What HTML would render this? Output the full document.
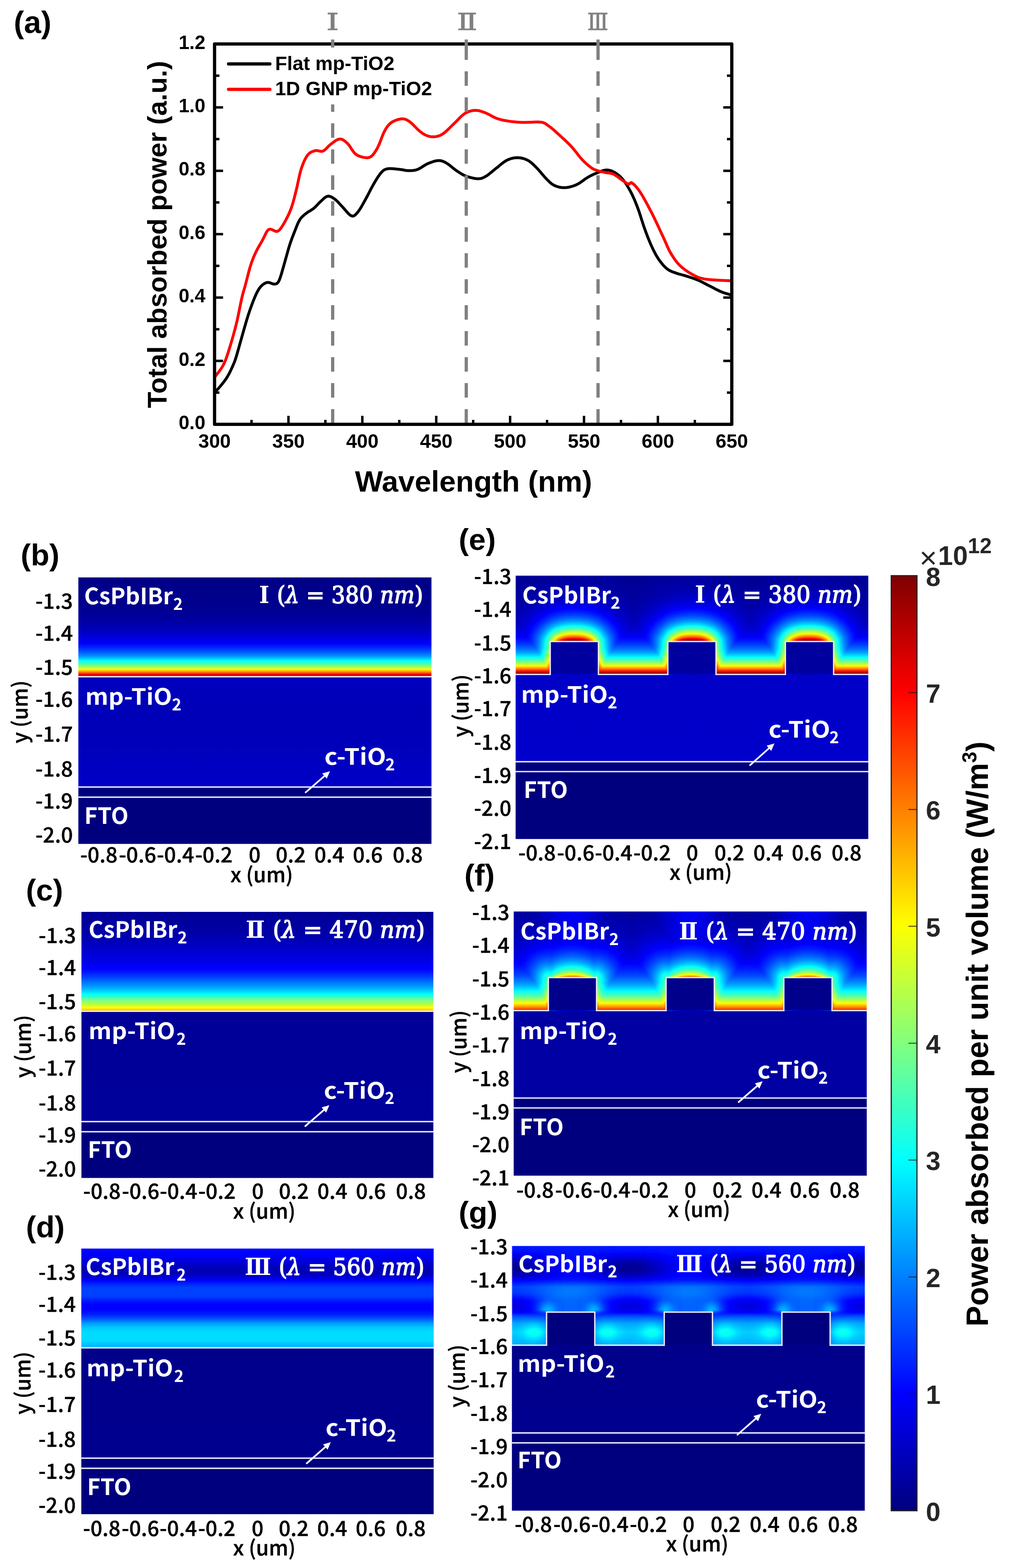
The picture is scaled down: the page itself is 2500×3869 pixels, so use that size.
<!DOCTYPE html>
<html><head><meta charset="utf-8"><title>Figure</title>
<style>html,body{margin:0;padding:0;background:#fff;}svg{display:block}</style></head>
<body><svg xmlns="http://www.w3.org/2000/svg" width="2500" height="3869" viewBox="0 0 2500 3869">
<rect width="2500" height="3869" fill="#fff"/>
<defs>
<filter id="jet" x="0" y="0" width="1" height="1" color-interpolation-filters="sRGB">
<feComponentTransfer>
<feFuncR type="table" tableValues="0 0 0 0 0.5 1 1 1 0.5"/>
<feFuncG type="table" tableValues="0 0 0.5 1 1 1 0.5 0 0"/>
<feFuncB type="table" tableValues="0.5 1 1 1 0.5 0 0 0 0"/>
</feComponentTransfer></filter>
<filter id="hblur" x="-0.01" y="0" width="1.02" height="1" color-interpolation-filters="sRGB"><feGaussianBlur stdDeviation="1.6 0"/></filter>
<clipPath id="clip_b"><rect x="193.2" y="1424.5" width="871.7" height="658.1"/></clipPath>
<linearGradient id="pv_b" x1="0" y1="0" x2="0" y2="1"><stop offset="0.0000" stop-color="#020202"/><stop offset="0.2910" stop-color="#040404"/><stop offset="0.3730" stop-color="#060606"/><stop offset="0.4590" stop-color="#0a0a0a"/><stop offset="0.5164" stop-color="#0e0e0e"/><stop offset="0.6066" stop-color="#171717"/><stop offset="0.6639" stop-color="#1f1f1f"/><stop offset="0.7008" stop-color="#282828"/><stop offset="0.7541" stop-color="#373737"/><stop offset="0.7951" stop-color="#464646"/><stop offset="0.8156" stop-color="#515151"/><stop offset="0.8361" stop-color="#5f5f5f"/><stop offset="0.8648" stop-color="#6f6f6f"/><stop offset="0.8893" stop-color="#7f7f7f"/><stop offset="0.9139" stop-color="#939393"/><stop offset="0.9303" stop-color="#a3a3a3"/><stop offset="0.9549" stop-color="#c1c1c1"/><stop offset="0.9754" stop-color="#dfdfdf"/><stop offset="0.9918" stop-color="#f0f0f0"/><stop offset="1.0000" stop-color="#fbfbfb"/></linearGradient>
<linearGradient id="mp_b" x1="0" y1="0" x2="0" y2="1"><stop offset="0.0000" stop-color="#101010"/><stop offset="0.3000" stop-color="#0e0e0e"/><stop offset="0.6000" stop-color="#0f0f0f"/><stop offset="1.0000" stop-color="#121212"/></linearGradient>
<clipPath id="clip_c"><rect x="200.9" y="2250.0" width="868.8" height="656.8"/></clipPath>
<linearGradient id="pv_c" x1="0" y1="0" x2="0" y2="1"><stop offset="0.0000" stop-color="#060606"/><stop offset="0.1803" stop-color="#090909"/><stop offset="0.2541" stop-color="#0c0c0c"/><stop offset="0.5164" stop-color="#1b1b1b"/><stop offset="0.5820" stop-color="#212121"/><stop offset="0.6598" stop-color="#313131"/><stop offset="0.7459" stop-color="#464646"/><stop offset="0.7746" stop-color="#4d4d4d"/><stop offset="0.8156" stop-color="#5b5b5b"/><stop offset="0.8361" stop-color="#636363"/><stop offset="0.8770" stop-color="#797979"/><stop offset="0.9303" stop-color="#8e8e8e"/><stop offset="0.9918" stop-color="#aeaeae"/><stop offset="1.0000" stop-color="#b2b2b2"/></linearGradient>
<linearGradient id="mp_c" x1="0" y1="0" x2="0" y2="1"><stop offset="0.0000" stop-color="#060606"/><stop offset="1.0000" stop-color="#070707"/></linearGradient>
<clipPath id="clip_d"><rect x="200.4" y="3080.6" width="870.1" height="655.8"/></clipPath>
<linearGradient id="pv_d" x1="0" y1="0" x2="0" y2="1"><stop offset="0.0000" stop-color="#212121"/><stop offset="0.0574" stop-color="#202020"/><stop offset="0.1926" stop-color="#0e0e0e"/><stop offset="0.2541" stop-color="#0e0e0e"/><stop offset="0.2992" stop-color="#191919"/><stop offset="0.3484" stop-color="#272727"/><stop offset="0.3934" stop-color="#303030"/><stop offset="0.4795" stop-color="#303030"/><stop offset="0.5246" stop-color="#262626"/><stop offset="0.5656" stop-color="#202020"/><stop offset="0.6148" stop-color="#202020"/><stop offset="0.6598" stop-color="#272727"/><stop offset="0.7049" stop-color="#343434"/><stop offset="0.7500" stop-color="#464646"/><stop offset="0.7951" stop-color="#525252"/><stop offset="0.8402" stop-color="#575757"/><stop offset="0.9262" stop-color="#575757"/><stop offset="0.9713" stop-color="#4f4f4f"/><stop offset="1.0000" stop-color="#4f4f4f"/></linearGradient>
<linearGradient id="mp_d" x1="0" y1="0" x2="0" y2="1"><stop offset="0.0000" stop-color="#030303"/><stop offset="1.0000" stop-color="#040404"/></linearGradient>
<clipPath id="clip_e"><rect x="1272.3" y="1420.3" width="870.6" height="650.2"/></clipPath>
<linearGradient id="ce0" x1="0" y1="0" x2="0" y2="1"><stop offset="0.0000" stop-color="#050505"/><stop offset="0.2418" stop-color="#080808"/><stop offset="0.4508" stop-color="#0d0d0d"/><stop offset="0.5205" stop-color="#121212"/><stop offset="0.5820" stop-color="#191919"/><stop offset="0.6393" stop-color="#222222"/><stop offset="0.6885" stop-color="#2d2d2d"/><stop offset="0.7377" stop-color="#3b3b3b"/><stop offset="0.7787" stop-color="#4a4a4a"/><stop offset="0.8156" stop-color="#5c5c5c"/><stop offset="0.8525" stop-color="#737373"/><stop offset="0.8893" stop-color="#8e8e8e"/><stop offset="0.9221" stop-color="#adadad"/><stop offset="0.9549" stop-color="#d3d3d3"/><stop offset="0.9877" stop-color="#ffffff"/><stop offset="1.0000" stop-color="#ffffff"/></linearGradient>
<linearGradient id="ce1" x1="0" y1="0" x2="0" y2="1"><stop offset="0.0000" stop-color="#050505"/><stop offset="0.2418" stop-color="#080808"/><stop offset="0.4672" stop-color="#0e0e0e"/><stop offset="0.5328" stop-color="#141414"/><stop offset="0.5902" stop-color="#1a1a1a"/><stop offset="0.6434" stop-color="#232323"/><stop offset="0.6885" stop-color="#2d2d2d"/><stop offset="0.7377" stop-color="#3b3b3b"/><stop offset="0.7787" stop-color="#4a4a4a"/><stop offset="0.8156" stop-color="#5c5c5c"/><stop offset="0.8525" stop-color="#737373"/><stop offset="0.8893" stop-color="#8e8e8e"/><stop offset="0.9221" stop-color="#adadad"/><stop offset="0.9549" stop-color="#d3d3d3"/><stop offset="0.9877" stop-color="#ffffff"/><stop offset="1.0000" stop-color="#ffffff"/></linearGradient>
<linearGradient id="ce2" x1="0" y1="0" x2="0" y2="1"><stop offset="0.0000" stop-color="#050505"/><stop offset="0.2541" stop-color="#080808"/><stop offset="0.4918" stop-color="#101010"/><stop offset="0.5984" stop-color="#1b1b1b"/><stop offset="0.6475" stop-color="#242424"/><stop offset="0.6885" stop-color="#2d2d2d"/><stop offset="0.7377" stop-color="#3b3b3b"/><stop offset="0.7787" stop-color="#4a4a4a"/><stop offset="0.8156" stop-color="#5c5c5c"/><stop offset="0.8525" stop-color="#737373"/><stop offset="0.8893" stop-color="#8e8e8e"/><stop offset="0.9221" stop-color="#adadad"/><stop offset="0.9549" stop-color="#d3d3d3"/><stop offset="0.9877" stop-color="#ffffff"/><stop offset="1.0000" stop-color="#ffffff"/></linearGradient>
<linearGradient id="ce3" x1="0" y1="0" x2="0" y2="1"><stop offset="0.0000" stop-color="#050505"/><stop offset="0.2623" stop-color="#090909"/><stop offset="0.5123" stop-color="#121212"/><stop offset="0.6066" stop-color="#1d1d1d"/><stop offset="0.6885" stop-color="#2d2d2d"/><stop offset="0.7377" stop-color="#3b3b3b"/><stop offset="0.7787" stop-color="#4a4a4a"/><stop offset="0.8156" stop-color="#5c5c5c"/><stop offset="0.8525" stop-color="#737373"/><stop offset="0.8893" stop-color="#8e8e8e"/><stop offset="0.9221" stop-color="#adadad"/><stop offset="0.9549" stop-color="#d3d3d3"/><stop offset="0.9877" stop-color="#ffffff"/><stop offset="1.0000" stop-color="#ffffff"/></linearGradient>
<linearGradient id="ce4" x1="0" y1="0" x2="0" y2="1"><stop offset="0.0000" stop-color="#050505"/><stop offset="0.2705" stop-color="#090909"/><stop offset="0.5328" stop-color="#141414"/><stop offset="0.6148" stop-color="#1e1e1e"/><stop offset="0.6885" stop-color="#2d2d2d"/><stop offset="0.7377" stop-color="#3b3b3b"/><stop offset="0.7787" stop-color="#4a4a4a"/><stop offset="0.8156" stop-color="#5c5c5c"/><stop offset="0.8525" stop-color="#737373"/><stop offset="0.8893" stop-color="#8e8e8e"/><stop offset="0.9221" stop-color="#adadad"/><stop offset="0.9549" stop-color="#d3d3d3"/><stop offset="0.9877" stop-color="#ffffff"/><stop offset="1.0000" stop-color="#ffffff"/></linearGradient>
<linearGradient id="ce5" x1="0" y1="0" x2="0" y2="1"><stop offset="0.0000" stop-color="#050505"/><stop offset="0.2787" stop-color="#0a0a0a"/><stop offset="0.5533" stop-color="#161616"/><stop offset="0.6270" stop-color="#202020"/><stop offset="0.6885" stop-color="#2d2d2d"/><stop offset="0.7377" stop-color="#3b3b3b"/><stop offset="0.7787" stop-color="#4a4a4a"/><stop offset="0.8156" stop-color="#5c5c5c"/><stop offset="0.8525" stop-color="#737373"/><stop offset="0.8893" stop-color="#8e8e8e"/><stop offset="0.9221" stop-color="#adadad"/><stop offset="0.9549" stop-color="#d3d3d3"/><stop offset="0.9877" stop-color="#ffffff"/><stop offset="1.0000" stop-color="#ffffff"/></linearGradient>
<linearGradient id="ce6" x1="0" y1="0" x2="0" y2="1"><stop offset="0.0000" stop-color="#050505"/><stop offset="0.2828" stop-color="#0a0a0a"/><stop offset="0.5738" stop-color="#181818"/><stop offset="0.6352" stop-color="#212121"/><stop offset="0.6885" stop-color="#2d2d2d"/><stop offset="0.7377" stop-color="#3b3b3b"/><stop offset="0.7787" stop-color="#4a4a4a"/><stop offset="0.8156" stop-color="#5c5c5c"/><stop offset="0.8525" stop-color="#737373"/><stop offset="0.8893" stop-color="#8e8e8e"/><stop offset="0.9221" stop-color="#adadad"/><stop offset="0.9549" stop-color="#d3d3d3"/><stop offset="0.9877" stop-color="#ffffff"/><stop offset="1.0000" stop-color="#ffffff"/></linearGradient>
<linearGradient id="ce7" x1="0" y1="0" x2="0" y2="1"><stop offset="0.0000" stop-color="#050505"/><stop offset="0.2869" stop-color="#0b0b0b"/><stop offset="0.5902" stop-color="#1a1a1a"/><stop offset="0.6393" stop-color="#222222"/><stop offset="0.6885" stop-color="#2d2d2d"/><stop offset="0.7377" stop-color="#3b3b3b"/><stop offset="0.7787" stop-color="#4a4a4a"/><stop offset="0.8156" stop-color="#5c5c5c"/><stop offset="0.8525" stop-color="#737373"/><stop offset="0.8893" stop-color="#8e8e8e"/><stop offset="0.9221" stop-color="#adadad"/><stop offset="0.9549" stop-color="#d3d3d3"/><stop offset="0.9877" stop-color="#ffffff"/><stop offset="1.0000" stop-color="#ffffff"/></linearGradient>
<linearGradient id="ce8" x1="0" y1="0" x2="0" y2="1"><stop offset="0.0000" stop-color="#050505"/><stop offset="0.2254" stop-color="#090909"/><stop offset="0.3934" stop-color="#101010"/><stop offset="0.6066" stop-color="#1d1d1d"/><stop offset="0.6475" stop-color="#242424"/><stop offset="0.6885" stop-color="#2d2d2d"/><stop offset="0.7377" stop-color="#3b3b3b"/><stop offset="0.7787" stop-color="#4a4a4a"/><stop offset="0.8156" stop-color="#5c5c5c"/><stop offset="0.8525" stop-color="#737373"/><stop offset="0.8893" stop-color="#8e8e8e"/><stop offset="0.9221" stop-color="#adadad"/><stop offset="0.9549" stop-color="#d3d3d3"/><stop offset="0.9877" stop-color="#ffffff"/><stop offset="1.0000" stop-color="#ffffff"/></linearGradient>
<linearGradient id="ce9" x1="0" y1="0" x2="0" y2="1"><stop offset="0.0000" stop-color="#050505"/><stop offset="0.2090" stop-color="#090909"/><stop offset="0.3730" stop-color="#0f0f0f"/><stop offset="0.6230" stop-color="#1f1f1f"/><stop offset="0.6885" stop-color="#2d2d2d"/><stop offset="0.7377" stop-color="#3b3b3b"/><stop offset="0.7787" stop-color="#4a4a4a"/><stop offset="0.8156" stop-color="#5c5c5c"/><stop offset="0.8525" stop-color="#737373"/><stop offset="0.8893" stop-color="#8e8e8e"/><stop offset="0.9221" stop-color="#adadad"/><stop offset="0.9549" stop-color="#d3d3d3"/><stop offset="0.9877" stop-color="#ffffff"/><stop offset="1.0000" stop-color="#ffffff"/></linearGradient>
<linearGradient id="ce10" x1="0" y1="0" x2="0" y2="1"><stop offset="0.0000" stop-color="#050505"/><stop offset="0.1967" stop-color="#090909"/><stop offset="0.3525" stop-color="#0f0f0f"/><stop offset="0.5697" stop-color="#1f1f1f"/><stop offset="0.6393" stop-color="#222222"/><stop offset="0.6885" stop-color="#2d2d2d"/><stop offset="0.7377" stop-color="#3b3b3b"/><stop offset="0.7787" stop-color="#4a4a4a"/><stop offset="0.8156" stop-color="#5c5c5c"/><stop offset="0.8525" stop-color="#737373"/><stop offset="0.8893" stop-color="#8e8e8e"/><stop offset="0.9221" stop-color="#adadad"/><stop offset="0.9549" stop-color="#d3d3d3"/><stop offset="0.9877" stop-color="#ffffff"/><stop offset="1.0000" stop-color="#ffffff"/></linearGradient>
<linearGradient id="ce11" x1="0" y1="0" x2="0" y2="1"><stop offset="0.0000" stop-color="#050505"/><stop offset="0.1967" stop-color="#090909"/><stop offset="0.3525" stop-color="#0f0f0f"/><stop offset="0.5779" stop-color="#212121"/><stop offset="0.6516" stop-color="#252525"/><stop offset="0.6885" stop-color="#2d2d2d"/><stop offset="0.7377" stop-color="#3b3b3b"/><stop offset="0.7787" stop-color="#4a4a4a"/><stop offset="0.8156" stop-color="#5c5c5c"/><stop offset="0.8525" stop-color="#737373"/><stop offset="0.8893" stop-color="#8e8e8e"/><stop offset="0.9221" stop-color="#adadad"/><stop offset="0.9549" stop-color="#d3d3d3"/><stop offset="0.9877" stop-color="#ffffff"/><stop offset="1.0000" stop-color="#ffffff"/></linearGradient>
<linearGradient id="ce12" x1="0" y1="0" x2="0" y2="1"><stop offset="0.0000" stop-color="#050505"/><stop offset="0.1844" stop-color="#090909"/><stop offset="0.3320" stop-color="#0f0f0f"/><stop offset="0.4221" stop-color="#151515"/><stop offset="0.5902" stop-color="#242424"/><stop offset="0.6639" stop-color="#272727"/><stop offset="0.6885" stop-color="#2d2d2d"/><stop offset="0.7377" stop-color="#3b3b3b"/><stop offset="0.7787" stop-color="#4a4a4a"/><stop offset="0.8156" stop-color="#5c5c5c"/><stop offset="0.8525" stop-color="#737373"/><stop offset="0.8893" stop-color="#8e8e8e"/><stop offset="0.9221" stop-color="#adadad"/><stop offset="0.9549" stop-color="#d3d3d3"/><stop offset="0.9877" stop-color="#ffffff"/><stop offset="1.0000" stop-color="#ffffff"/></linearGradient>
<linearGradient id="ce13" x1="0" y1="0" x2="0" y2="1"><stop offset="0.0000" stop-color="#050505"/><stop offset="0.1762" stop-color="#090909"/><stop offset="0.3156" stop-color="#0e0e0e"/><stop offset="0.4344" stop-color="#171717"/><stop offset="0.5943" stop-color="#272727"/><stop offset="0.6803" stop-color="#2b2b2b"/><stop offset="0.6885" stop-color="#2d2d2d"/><stop offset="0.7377" stop-color="#3b3b3b"/><stop offset="0.7787" stop-color="#4a4a4a"/><stop offset="0.8156" stop-color="#5c5c5c"/><stop offset="0.8525" stop-color="#737373"/><stop offset="0.8893" stop-color="#8e8e8e"/><stop offset="0.9221" stop-color="#adadad"/><stop offset="0.9549" stop-color="#d3d3d3"/><stop offset="0.9877" stop-color="#ffffff"/><stop offset="1.0000" stop-color="#ffffff"/></linearGradient>
<linearGradient id="ce14" x1="0" y1="0" x2="0" y2="1"><stop offset="0.0000" stop-color="#060606"/><stop offset="0.1762" stop-color="#090909"/><stop offset="0.3115" stop-color="#0f0f0f"/><stop offset="0.4467" stop-color="#191919"/><stop offset="0.6025" stop-color="#2b2b2b"/><stop offset="0.6967" stop-color="#2f2f2f"/><stop offset="0.7418" stop-color="#3c3c3c"/><stop offset="0.7828" stop-color="#4c4c4c"/><stop offset="0.8197" stop-color="#5e5e5e"/><stop offset="0.8566" stop-color="#757575"/><stop offset="0.8934" stop-color="#929292"/><stop offset="0.9262" stop-color="#b1b1b1"/><stop offset="0.9549" stop-color="#d3d3d3"/><stop offset="0.9877" stop-color="#ffffff"/><stop offset="1.0000" stop-color="#ffffff"/></linearGradient>
<linearGradient id="ce15" x1="0" y1="0" x2="0" y2="1"><stop offset="0.0000" stop-color="#060606"/><stop offset="0.1762" stop-color="#090909"/><stop offset="0.3156" stop-color="#0f0f0f"/><stop offset="0.4508" stop-color="#1b1b1b"/><stop offset="0.6066" stop-color="#2e2e2e"/><stop offset="0.7131" stop-color="#333333"/><stop offset="0.7541" stop-color="#414141"/><stop offset="0.7910" stop-color="#505050"/><stop offset="0.8279" stop-color="#636363"/><stop offset="0.8607" stop-color="#787878"/><stop offset="0.8934" stop-color="#929292"/><stop offset="0.9262" stop-color="#b1b1b1"/><stop offset="0.9549" stop-color="#d3d3d3"/><stop offset="0.9877" stop-color="#ffffff"/><stop offset="1.0000" stop-color="#ffffff"/></linearGradient>
<linearGradient id="ce16" x1="0" y1="0" x2="0" y2="1"><stop offset="0.0000" stop-color="#060606"/><stop offset="0.1803" stop-color="#090909"/><stop offset="0.3197" stop-color="#101010"/><stop offset="0.4467" stop-color="#1c1c1c"/><stop offset="0.6107" stop-color="#323232"/><stop offset="0.7295" stop-color="#383838"/><stop offset="0.7664" stop-color="#454545"/><stop offset="0.8033" stop-color="#565656"/><stop offset="0.8361" stop-color="#686868"/><stop offset="0.8648" stop-color="#7b7b7b"/><stop offset="0.8975" stop-color="#969696"/><stop offset="0.9303" stop-color="#b6b6b6"/><stop offset="0.9549" stop-color="#d3d3d3"/><stop offset="0.9877" stop-color="#ffffff"/><stop offset="1.0000" stop-color="#ffffff"/></linearGradient>
<linearGradient id="ce17" x1="0" y1="0" x2="0" y2="1"><stop offset="0.0000" stop-color="#060606"/><stop offset="0.1844" stop-color="#0a0a0a"/><stop offset="0.3238" stop-color="#111111"/><stop offset="0.4508" stop-color="#1e1e1e"/><stop offset="0.6148" stop-color="#363636"/><stop offset="0.7049" stop-color="#3a3a3a"/><stop offset="0.7459" stop-color="#3e3e3e"/><stop offset="0.7787" stop-color="#4a4a4a"/><stop offset="0.8115" stop-color="#5a5a5a"/><stop offset="0.8443" stop-color="#6d6d6d"/><stop offset="0.8730" stop-color="#818181"/><stop offset="0.9016" stop-color="#999999"/><stop offset="0.9303" stop-color="#b6b6b6"/><stop offset="0.9549" stop-color="#d3d3d3"/><stop offset="0.9877" stop-color="#ffffff"/><stop offset="1.0000" stop-color="#ffffff"/></linearGradient>
<linearGradient id="ce18" x1="0" y1="0" x2="0" y2="1"><stop offset="0.0000" stop-color="#060606"/><stop offset="0.1844" stop-color="#0a0a0a"/><stop offset="0.3279" stop-color="#121212"/><stop offset="0.4508" stop-color="#202020"/><stop offset="0.6189" stop-color="#3a3a3a"/><stop offset="0.6475" stop-color="#3d3d3d"/><stop offset="0.7090" stop-color="#3f3f3f"/><stop offset="0.7623" stop-color="#444444"/><stop offset="0.7910" stop-color="#505050"/><stop offset="0.8238" stop-color="#616161"/><stop offset="0.8525" stop-color="#737373"/><stop offset="0.8770" stop-color="#848484"/><stop offset="0.9057" stop-color="#9d9d9d"/><stop offset="0.9344" stop-color="#bababa"/><stop offset="0.9590" stop-color="#d8d8d8"/><stop offset="0.9877" stop-color="#ffffff"/><stop offset="1.0000" stop-color="#ffffff"/></linearGradient>
<linearGradient id="ce19" x1="0" y1="0" x2="0" y2="1"><stop offset="0.0000" stop-color="#060606"/><stop offset="0.1926" stop-color="#0b0b0b"/><stop offset="0.3361" stop-color="#141414"/><stop offset="0.4549" stop-color="#222222"/><stop offset="0.6230" stop-color="#3f3f3f"/><stop offset="0.7172" stop-color="#444444"/><stop offset="0.7828" stop-color="#4c4c4c"/><stop offset="0.8074" stop-color="#585858"/><stop offset="0.8361" stop-color="#686868"/><stop offset="0.8607" stop-color="#787878"/><stop offset="0.8852" stop-color="#8b8b8b"/><stop offset="0.9139" stop-color="#a5a5a5"/><stop offset="0.9385" stop-color="#bfbfbf"/><stop offset="0.9590" stop-color="#d8d8d8"/><stop offset="0.9877" stop-color="#ffffff"/><stop offset="1.0000" stop-color="#ffffff"/></linearGradient>
<linearGradient id="ce20" x1="0" y1="0" x2="0" y2="1"><stop offset="0.0000" stop-color="#060606"/><stop offset="0.1967" stop-color="#0b0b0b"/><stop offset="0.2746" stop-color="#0f0f0f"/><stop offset="0.3443" stop-color="#151515"/><stop offset="0.4631" stop-color="#252525"/><stop offset="0.6270" stop-color="#444444"/><stop offset="0.7254" stop-color="#4a4a4a"/><stop offset="0.7664" stop-color="#4f4f4f"/><stop offset="0.8033" stop-color="#565656"/><stop offset="0.8484" stop-color="#707070"/><stop offset="0.8730" stop-color="#818181"/><stop offset="0.8934" stop-color="#929292"/><stop offset="0.9180" stop-color="#a9a9a9"/><stop offset="0.9426" stop-color="#c4c4c4"/><stop offset="0.9631" stop-color="#dddddd"/><stop offset="0.9877" stop-color="#ffffff"/><stop offset="1.0000" stop-color="#ffffff"/></linearGradient>
<linearGradient id="ce21" x1="0" y1="0" x2="0" y2="1"><stop offset="0.0000" stop-color="#060606"/><stop offset="0.2049" stop-color="#0c0c0c"/><stop offset="0.2828" stop-color="#101010"/><stop offset="0.3525" stop-color="#171717"/><stop offset="0.4098" stop-color="#1e1e1e"/><stop offset="0.4672" stop-color="#282828"/><stop offset="0.6311" stop-color="#4a4a4a"/><stop offset="0.7377" stop-color="#515151"/><stop offset="0.7787" stop-color="#575757"/><stop offset="0.8238" stop-color="#616161"/><stop offset="0.8607" stop-color="#787878"/><stop offset="0.8975" stop-color="#969696"/><stop offset="0.9221" stop-color="#adadad"/><stop offset="0.9426" stop-color="#c4c4c4"/><stop offset="0.9631" stop-color="#dddddd"/><stop offset="0.9877" stop-color="#ffffff"/><stop offset="1.0000" stop-color="#ffffff"/></linearGradient>
<linearGradient id="ce22" x1="0" y1="0" x2="0" y2="1"><stop offset="0.0000" stop-color="#060606"/><stop offset="0.2049" stop-color="#0c0c0c"/><stop offset="0.2869" stop-color="#111111"/><stop offset="0.3566" stop-color="#181818"/><stop offset="0.4139" stop-color="#202020"/><stop offset="0.4672" stop-color="#292929"/><stop offset="0.6352" stop-color="#505050"/><stop offset="0.7336" stop-color="#565656"/><stop offset="0.7746" stop-color="#5d5d5d"/><stop offset="0.8156" stop-color="#666666"/><stop offset="0.8443" stop-color="#6e6e6e"/><stop offset="0.8648" stop-color="#7b7b7b"/><stop offset="0.8852" stop-color="#8b8b8b"/><stop offset="0.9139" stop-color="#a5a5a5"/><stop offset="0.9385" stop-color="#bfbfbf"/><stop offset="0.9590" stop-color="#d8d8d8"/><stop offset="0.9877" stop-color="#ffffff"/><stop offset="1.0000" stop-color="#ffffff"/></linearGradient>
<linearGradient id="ce23" x1="0" y1="0" x2="0" y2="1"><stop offset="0.0000" stop-color="#060606"/><stop offset="0.2049" stop-color="#0c0c0c"/><stop offset="0.2869" stop-color="#121212"/><stop offset="0.3566" stop-color="#191919"/><stop offset="0.4139" stop-color="#212121"/><stop offset="0.4713" stop-color="#2c2c2c"/><stop offset="0.6393" stop-color="#565656"/><stop offset="0.7336" stop-color="#5d5d5d"/><stop offset="0.7705" stop-color="#636363"/><stop offset="0.8074" stop-color="#6b6b6b"/><stop offset="0.8648" stop-color="#7c7c7c"/><stop offset="0.8730" stop-color="#818181"/><stop offset="0.9016" stop-color="#999999"/><stop offset="0.9303" stop-color="#b6b6b6"/><stop offset="0.9549" stop-color="#d3d3d3"/><stop offset="0.9877" stop-color="#ffffff"/><stop offset="1.0000" stop-color="#ffffff"/></linearGradient>
<linearGradient id="ce24" x1="0" y1="0" x2="0" y2="1"><stop offset="0.0000" stop-color="#060606"/><stop offset="0.1148" stop-color="#090909"/><stop offset="0.2090" stop-color="#0d0d0d"/><stop offset="0.2869" stop-color="#121212"/><stop offset="0.3566" stop-color="#1a1a1a"/><stop offset="0.4180" stop-color="#232323"/><stop offset="0.4754" stop-color="#2f2f2f"/><stop offset="0.6475" stop-color="#5e5e5e"/><stop offset="0.7295" stop-color="#646464"/><stop offset="0.7623" stop-color="#696969"/><stop offset="0.7992" stop-color="#717171"/><stop offset="0.8443" stop-color="#7e7e7e"/><stop offset="0.8893" stop-color="#8e8e8e"/><stop offset="0.9139" stop-color="#a5a5a5"/><stop offset="0.9385" stop-color="#bfbfbf"/><stop offset="0.9590" stop-color="#d8d8d8"/><stop offset="0.9877" stop-color="#ffffff"/><stop offset="1.0000" stop-color="#ffffff"/></linearGradient>
<linearGradient id="ce25" x1="0" y1="0" x2="0" y2="1"><stop offset="0.0000" stop-color="#060606"/><stop offset="0.1148" stop-color="#090909"/><stop offset="0.2090" stop-color="#0d0d0d"/><stop offset="0.2910" stop-color="#131313"/><stop offset="0.3607" stop-color="#1b1b1b"/><stop offset="0.4221" stop-color="#262626"/><stop offset="0.4754" stop-color="#323232"/><stop offset="0.6516" stop-color="#666666"/><stop offset="0.7254" stop-color="#6b6b6b"/><stop offset="0.7582" stop-color="#707070"/><stop offset="0.7910" stop-color="#777777"/><stop offset="0.8525" stop-color="#8a8a8a"/><stop offset="0.9098" stop-color="#a1a1a1"/><stop offset="0.9262" stop-color="#b1b1b1"/><stop offset="0.9467" stop-color="#c9c9c9"/><stop offset="0.9631" stop-color="#dddddd"/><stop offset="0.9877" stop-color="#ffffff"/><stop offset="1.0000" stop-color="#ffffff"/></linearGradient>
<linearGradient id="ce26" x1="0" y1="0" x2="0" y2="1"><stop offset="0.0000" stop-color="#060606"/><stop offset="0.1189" stop-color="#090909"/><stop offset="0.2131" stop-color="#0d0d0d"/><stop offset="0.2951" stop-color="#141414"/><stop offset="0.3648" stop-color="#1d1d1d"/><stop offset="0.4262" stop-color="#282828"/><stop offset="0.4836" stop-color="#363636"/><stop offset="0.5287" stop-color="#444444"/><stop offset="0.6107" stop-color="#616161"/><stop offset="0.6557" stop-color="#6e6e6e"/><stop offset="0.7254" stop-color="#737373"/><stop offset="0.7869" stop-color="#7f7f7f"/><stop offset="0.8197" stop-color="#888888"/><stop offset="0.8566" stop-color="#959595"/><stop offset="0.8934" stop-color="#a5a5a5"/><stop offset="0.9303" stop-color="#b7b7b7"/><stop offset="0.9344" stop-color="#bababa"/><stop offset="0.9549" stop-color="#d3d3d3"/><stop offset="0.9877" stop-color="#ffffff"/><stop offset="1.0000" stop-color="#ffffff"/></linearGradient>
<linearGradient id="ce27" x1="0" y1="0" x2="0" y2="1"><stop offset="0.0000" stop-color="#060606"/><stop offset="0.1516" stop-color="#0a0a0a"/><stop offset="0.2664" stop-color="#121212"/><stop offset="0.3607" stop-color="#1d1d1d"/><stop offset="0.4426" stop-color="#2d2d2d"/><stop offset="0.5123" stop-color="#424242"/><stop offset="0.6148" stop-color="#696969"/><stop offset="0.6598" stop-color="#787878"/><stop offset="0.7090" stop-color="#7a7a7a"/><stop offset="0.7500" stop-color="#808080"/><stop offset="0.7951" stop-color="#8b8b8b"/><stop offset="0.8402" stop-color="#9a9a9a"/><stop offset="0.8975" stop-color="#b3b3b3"/><stop offset="0.9549" stop-color="#d3d3d3"/><stop offset="0.9877" stop-color="#ffffff"/><stop offset="1.0000" stop-color="#ffffff"/></linearGradient>
<linearGradient id="ce28" x1="0" y1="0" x2="0" y2="1"><stop offset="0.0000" stop-color="#060606"/><stop offset="0.1475" stop-color="#0a0a0a"/><stop offset="0.2623" stop-color="#121212"/><stop offset="0.3566" stop-color="#1d1d1d"/><stop offset="0.4344" stop-color="#2d2d2d"/><stop offset="0.4754" stop-color="#383838"/><stop offset="0.5123" stop-color="#454545"/><stop offset="0.5533" stop-color="#555555"/><stop offset="0.6230" stop-color="#747474"/><stop offset="0.6393" stop-color="#7a7a7a"/><stop offset="0.6557" stop-color="#7e7e7e"/><stop offset="0.6639" stop-color="#828282"/><stop offset="0.7049" stop-color="#848484"/><stop offset="0.7459" stop-color="#898989"/><stop offset="0.7869" stop-color="#939393"/><stop offset="0.8279" stop-color="#a0a0a0"/><stop offset="0.8648" stop-color="#afafaf"/><stop offset="0.9057" stop-color="#c4c4c4"/><stop offset="0.9426" stop-color="#dadada"/><stop offset="0.9754" stop-color="#f0f0f0"/><stop offset="0.9877" stop-color="#ffffff"/><stop offset="1.0000" stop-color="#ffffff"/></linearGradient>
<linearGradient id="ce29" x1="0" y1="0" x2="0" y2="1"><stop offset="0.0000" stop-color="#060606"/><stop offset="0.1434" stop-color="#0a0a0a"/><stop offset="0.2541" stop-color="#111111"/><stop offset="0.3443" stop-color="#1c1c1c"/><stop offset="0.4221" stop-color="#2b2b2b"/><stop offset="0.4713" stop-color="#393939"/><stop offset="0.5164" stop-color="#494949"/><stop offset="0.5574" stop-color="#5b5b5b"/><stop offset="0.6270" stop-color="#7e7e7e"/><stop offset="0.6516" stop-color="#878787"/><stop offset="0.6639" stop-color="#898989"/><stop offset="0.6721" stop-color="#888888"/><stop offset="0.7049" stop-color="#7d7d7d"/><stop offset="0.7090" stop-color="#7d7d7d"/><stop offset="0.7664" stop-color="#878787"/><stop offset="0.8279" stop-color="#999999"/><stop offset="0.8730" stop-color="#ababab"/><stop offset="0.9221" stop-color="#c4c4c4"/><stop offset="0.9672" stop-color="#e0e0e0"/><stop offset="0.9836" stop-color="#f2f2f2"/><stop offset="0.9918" stop-color="#f8f8f8"/><stop offset="1.0000" stop-color="#f9f9f9"/></linearGradient>
<linearGradient id="ce30" x1="0" y1="0" x2="0" y2="1"><stop offset="0.0000" stop-color="#060606"/><stop offset="0.1352" stop-color="#0a0a0a"/><stop offset="0.2418" stop-color="#111111"/><stop offset="0.3279" stop-color="#1a1a1a"/><stop offset="0.4016" stop-color="#272727"/><stop offset="0.4590" stop-color="#373737"/><stop offset="0.5123" stop-color="#4a4a4a"/><stop offset="0.5615" stop-color="#616161"/><stop offset="0.6352" stop-color="#8b8b8b"/><stop offset="0.6557" stop-color="#939393"/><stop offset="0.6680" stop-color="#949494"/><stop offset="0.6803" stop-color="#919191"/><stop offset="0.7295" stop-color="#777777"/><stop offset="0.7746" stop-color="#7f7f7f"/><stop offset="0.8197" stop-color="#8c8c8c"/><stop offset="0.8648" stop-color="#9c9c9c"/><stop offset="0.9139" stop-color="#b3b3b3"/><stop offset="0.9549" stop-color="#c9c9c9"/><stop offset="0.9713" stop-color="#dadada"/><stop offset="0.9836" stop-color="#e3e3e3"/><stop offset="0.9918" stop-color="#e7e7e7"/><stop offset="1.0000" stop-color="#e8e8e8"/></linearGradient>
<linearGradient id="ce31" x1="0" y1="0" x2="0" y2="1"><stop offset="0.0000" stop-color="#060606"/><stop offset="0.1352" stop-color="#0a0a0a"/><stop offset="0.2418" stop-color="#111111"/><stop offset="0.3279" stop-color="#1b1b1b"/><stop offset="0.4016" stop-color="#282828"/><stop offset="0.4631" stop-color="#3a3a3a"/><stop offset="0.5205" stop-color="#515151"/><stop offset="0.5656" stop-color="#686868"/><stop offset="0.6393" stop-color="#979797"/><stop offset="0.6598" stop-color="#a1a1a1"/><stop offset="0.6680" stop-color="#a1a1a1"/><stop offset="0.6803" stop-color="#9c9c9c"/><stop offset="0.7459" stop-color="#727272"/><stop offset="0.7500" stop-color="#717171"/><stop offset="0.7664" stop-color="#747474"/><stop offset="0.8238" stop-color="#838383"/><stop offset="0.8852" stop-color="#9a9a9a"/><stop offset="0.9385" stop-color="#b3b3b3"/><stop offset="0.9672" stop-color="#cbcbcb"/><stop offset="0.9795" stop-color="#d3d3d3"/><stop offset="0.9918" stop-color="#d7d7d7"/><stop offset="1.0000" stop-color="#d7d7d7"/></linearGradient>
<linearGradient id="ce32" x1="0" y1="0" x2="0" y2="1"><stop offset="0.0000" stop-color="#060606"/><stop offset="0.1393" stop-color="#0b0b0b"/><stop offset="0.2459" stop-color="#111111"/><stop offset="0.3361" stop-color="#1c1c1c"/><stop offset="0.4098" stop-color="#2b2b2b"/><stop offset="0.4713" stop-color="#3f3f3f"/><stop offset="0.5000" stop-color="#4a4a4a"/><stop offset="0.5287" stop-color="#585858"/><stop offset="0.5738" stop-color="#727272"/><stop offset="0.6475" stop-color="#a6a6a6"/><stop offset="0.6639" stop-color="#afafaf"/><stop offset="0.6762" stop-color="#a9a9a9"/><stop offset="0.7418" stop-color="#7a7a7a"/><stop offset="0.7623" stop-color="#6d6d6d"/><stop offset="0.7664" stop-color="#6c6c6c"/><stop offset="0.8238" stop-color="#7a7a7a"/><stop offset="0.8811" stop-color="#8e8e8e"/><stop offset="0.9262" stop-color="#a2a2a2"/><stop offset="0.9590" stop-color="#b9b9b9"/><stop offset="0.9754" stop-color="#c3c3c3"/><stop offset="0.9877" stop-color="#c7c7c7"/><stop offset="1.0000" stop-color="#c8c8c8"/></linearGradient>
<linearGradient id="ce33" x1="0" y1="0" x2="0" y2="1"><stop offset="0.0000" stop-color="#070707"/><stop offset="0.1434" stop-color="#0b0b0b"/><stop offset="0.2541" stop-color="#121212"/><stop offset="0.3443" stop-color="#1e1e1e"/><stop offset="0.4180" stop-color="#2f2f2f"/><stop offset="0.4508" stop-color="#393939"/><stop offset="0.4836" stop-color="#454545"/><stop offset="0.5123" stop-color="#525252"/><stop offset="0.5410" stop-color="#626262"/><stop offset="0.5656" stop-color="#717171"/><stop offset="0.5902" stop-color="#828282"/><stop offset="0.6557" stop-color="#b7b7b7"/><stop offset="0.6639" stop-color="#bdbdbd"/><stop offset="0.6721" stop-color="#b8b8b8"/><stop offset="0.7377" stop-color="#828282"/><stop offset="0.7787" stop-color="#676767"/><stop offset="0.8320" stop-color="#747474"/><stop offset="0.8852" stop-color="#868686"/><stop offset="0.9139" stop-color="#929292"/><stop offset="0.9467" stop-color="#a7a7a7"/><stop offset="0.9672" stop-color="#b3b3b3"/><stop offset="0.9836" stop-color="#b8b8b8"/><stop offset="1.0000" stop-color="#bababa"/></linearGradient>
<linearGradient id="ce34" x1="0" y1="0" x2="0" y2="1"><stop offset="0.0000" stop-color="#070707"/><stop offset="0.1434" stop-color="#0b0b0b"/><stop offset="0.2541" stop-color="#131313"/><stop offset="0.3443" stop-color="#1f1f1f"/><stop offset="0.3852" stop-color="#272727"/><stop offset="0.4221" stop-color="#313131"/><stop offset="0.4549" stop-color="#3c3c3c"/><stop offset="0.4877" stop-color="#494949"/><stop offset="0.5164" stop-color="#575757"/><stop offset="0.5451" stop-color="#676767"/><stop offset="0.5738" stop-color="#7b7b7b"/><stop offset="0.5984" stop-color="#8e8e8e"/><stop offset="0.6639" stop-color="#c9c9c9"/><stop offset="0.7336" stop-color="#8b8b8b"/><stop offset="0.7623" stop-color="#757575"/><stop offset="0.7910" stop-color="#626262"/><stop offset="0.8361" stop-color="#6e6e6e"/><stop offset="0.8852" stop-color="#7d7d7d"/><stop offset="0.9016" stop-color="#838383"/><stop offset="0.9385" stop-color="#999999"/><stop offset="0.9631" stop-color="#a5a5a5"/><stop offset="0.9836" stop-color="#acacac"/><stop offset="1.0000" stop-color="#adadad"/></linearGradient>
<linearGradient id="ce35" x1="0" y1="0" x2="0" y2="1"><stop offset="0.0000" stop-color="#070707"/><stop offset="0.1475" stop-color="#0b0b0b"/><stop offset="0.2582" stop-color="#131313"/><stop offset="0.3484" stop-color="#202020"/><stop offset="0.3893" stop-color="#292929"/><stop offset="0.4262" stop-color="#333333"/><stop offset="0.4590" stop-color="#3f3f3f"/><stop offset="0.4918" stop-color="#4d4d4d"/><stop offset="0.5246" stop-color="#5e5e5e"/><stop offset="0.5533" stop-color="#707070"/><stop offset="0.5779" stop-color="#828282"/><stop offset="0.6025" stop-color="#969696"/><stop offset="0.6270" stop-color="#aeaeae"/><stop offset="0.6639" stop-color="#d5d5d5"/><stop offset="0.6680" stop-color="#d2d2d2"/><stop offset="0.7049" stop-color="#aaaaaa"/><stop offset="0.7377" stop-color="#8c8c8c"/><stop offset="0.7705" stop-color="#737373"/><stop offset="0.8033" stop-color="#5e5e5e"/><stop offset="0.8443" stop-color="#696969"/><stop offset="0.8893" stop-color="#767676"/><stop offset="0.9344" stop-color="#8e8e8e"/><stop offset="0.9631" stop-color="#9b9b9b"/><stop offset="0.9836" stop-color="#a0a0a0"/><stop offset="1.0000" stop-color="#a1a1a1"/></linearGradient>
<linearGradient id="ce36" x1="0" y1="0" x2="0" y2="1"><stop offset="0.0000" stop-color="#070707"/><stop offset="0.1516" stop-color="#0c0c0c"/><stop offset="0.2623" stop-color="#141414"/><stop offset="0.3525" stop-color="#212121"/><stop offset="0.3934" stop-color="#2b2b2b"/><stop offset="0.4303" stop-color="#363636"/><stop offset="0.4631" stop-color="#414141"/><stop offset="0.4959" stop-color="#505050"/><stop offset="0.5246" stop-color="#606060"/><stop offset="0.5533" stop-color="#737373"/><stop offset="0.5820" stop-color="#898989"/><stop offset="0.6066" stop-color="#9f9f9f"/><stop offset="0.6270" stop-color="#b4b4b4"/><stop offset="0.6598" stop-color="#dbdbdb"/><stop offset="0.6639" stop-color="#dfdfdf"/><stop offset="0.6680" stop-color="#dbdbdb"/><stop offset="0.7049" stop-color="#b1b1b1"/><stop offset="0.7377" stop-color="#919191"/><stop offset="0.7746" stop-color="#737373"/><stop offset="0.8115" stop-color="#5b5b5b"/><stop offset="0.8156" stop-color="#5b5b5b"/><stop offset="0.8238" stop-color="#5d5d5d"/><stop offset="0.8770" stop-color="#6b6b6b"/><stop offset="0.9303" stop-color="#848484"/><stop offset="0.9590" stop-color="#8f8f8f"/><stop offset="0.9795" stop-color="#949494"/><stop offset="1.0000" stop-color="#959595"/></linearGradient>
<linearGradient id="ce37" x1="0" y1="0" x2="0" y2="1"><stop offset="0.0000" stop-color="#070707"/><stop offset="0.1516" stop-color="#0c0c0c"/><stop offset="0.2623" stop-color="#141414"/><stop offset="0.3525" stop-color="#222222"/><stop offset="0.3934" stop-color="#2b2b2b"/><stop offset="0.4303" stop-color="#363636"/><stop offset="0.4631" stop-color="#434343"/><stop offset="0.4959" stop-color="#525252"/><stop offset="0.5287" stop-color="#656565"/><stop offset="0.5574" stop-color="#797979"/><stop offset="0.5820" stop-color="#8d8d8d"/><stop offset="0.6066" stop-color="#a4a4a4"/><stop offset="0.6311" stop-color="#bfbfbf"/><stop offset="0.6598" stop-color="#e4e4e4"/><stop offset="0.6639" stop-color="#e7e7e7"/><stop offset="0.6680" stop-color="#e4e4e4"/><stop offset="0.6844" stop-color="#cfcfcf"/><stop offset="0.7090" stop-color="#b2b2b2"/><stop offset="0.7418" stop-color="#919191"/><stop offset="0.7623" stop-color="#7f7f7f"/><stop offset="0.7828" stop-color="#707070"/><stop offset="0.8238" stop-color="#565656"/><stop offset="0.8648" stop-color="#616161"/><stop offset="0.9180" stop-color="#787878"/><stop offset="0.9508" stop-color="#838383"/><stop offset="0.9754" stop-color="#898989"/><stop offset="1.0000" stop-color="#8b8b8b"/></linearGradient>
<linearGradient id="ce38" x1="0" y1="0" x2="0" y2="1"><stop offset="0.0000" stop-color="#070707"/><stop offset="0.1516" stop-color="#0c0c0c"/><stop offset="0.2664" stop-color="#151515"/><stop offset="0.3156" stop-color="#1c1c1c"/><stop offset="0.3566" stop-color="#232323"/><stop offset="0.3975" stop-color="#2d2d2d"/><stop offset="0.4344" stop-color="#393939"/><stop offset="0.4713" stop-color="#474747"/><stop offset="0.5041" stop-color="#585858"/><stop offset="0.5328" stop-color="#696969"/><stop offset="0.5615" stop-color="#7e7e7e"/><stop offset="0.5861" stop-color="#949494"/><stop offset="0.6107" stop-color="#adadad"/><stop offset="0.6311" stop-color="#c5c5c5"/><stop offset="0.6598" stop-color="#ebebeb"/><stop offset="0.6639" stop-color="#efefef"/><stop offset="0.6680" stop-color="#ececec"/><stop offset="0.6885" stop-color="#cfcfcf"/><stop offset="0.7090" stop-color="#b6b6b6"/><stop offset="0.7254" stop-color="#a4a4a4"/><stop offset="0.7459" stop-color="#909090"/><stop offset="0.7664" stop-color="#7f7f7f"/><stop offset="0.7869" stop-color="#6f6f6f"/><stop offset="0.8320" stop-color="#545454"/><stop offset="0.8525" stop-color="#575757"/><stop offset="0.9139" stop-color="#6f6f6f"/><stop offset="0.9467" stop-color="#7a7a7a"/><stop offset="0.9754" stop-color="#808080"/><stop offset="1.0000" stop-color="#818181"/></linearGradient>
<linearGradient id="ce39" x1="0" y1="0" x2="0" y2="1"><stop offset="0.0000" stop-color="#070707"/><stop offset="0.1516" stop-color="#0c0c0c"/><stop offset="0.2664" stop-color="#151515"/><stop offset="0.3156" stop-color="#1c1c1c"/><stop offset="0.3566" stop-color="#242424"/><stop offset="0.3975" stop-color="#2e2e2e"/><stop offset="0.4344" stop-color="#393939"/><stop offset="0.4713" stop-color="#484848"/><stop offset="0.5041" stop-color="#595959"/><stop offset="0.5328" stop-color="#6b6b6b"/><stop offset="0.5615" stop-color="#818181"/><stop offset="0.5902" stop-color="#9b9b9b"/><stop offset="0.6148" stop-color="#b5b5b5"/><stop offset="0.6352" stop-color="#cfcfcf"/><stop offset="0.6598" stop-color="#f2f2f2"/><stop offset="0.6639" stop-color="#f6f6f6"/><stop offset="0.6680" stop-color="#f2f2f2"/><stop offset="0.6885" stop-color="#d5d5d5"/><stop offset="0.7090" stop-color="#bbbbbb"/><stop offset="0.7295" stop-color="#a4a4a4"/><stop offset="0.7459" stop-color="#939393"/><stop offset="0.7664" stop-color="#818181"/><stop offset="0.7910" stop-color="#6e6e6e"/><stop offset="0.8156" stop-color="#5e5e5e"/><stop offset="0.8402" stop-color="#515151"/><stop offset="0.8443" stop-color="#505050"/><stop offset="0.9057" stop-color="#666666"/><stop offset="0.9426" stop-color="#717171"/><stop offset="0.9713" stop-color="#767676"/><stop offset="1.0000" stop-color="#787878"/></linearGradient>
<linearGradient id="ce40" x1="0" y1="0" x2="0" y2="1"><stop offset="0.0000" stop-color="#070707"/><stop offset="0.1516" stop-color="#0c0c0c"/><stop offset="0.2664" stop-color="#151515"/><stop offset="0.3156" stop-color="#1c1c1c"/><stop offset="0.3566" stop-color="#242424"/><stop offset="0.3975" stop-color="#2e2e2e"/><stop offset="0.4344" stop-color="#3a3a3a"/><stop offset="0.4713" stop-color="#494949"/><stop offset="0.5041" stop-color="#5a5a5a"/><stop offset="0.5328" stop-color="#6d6d6d"/><stop offset="0.5615" stop-color="#838383"/><stop offset="0.5861" stop-color="#999999"/><stop offset="0.6107" stop-color="#b4b4b4"/><stop offset="0.6311" stop-color="#cecece"/><stop offset="0.6598" stop-color="#f7f7f7"/><stop offset="0.6639" stop-color="#fbfbfb"/><stop offset="0.6680" stop-color="#f8f8f8"/><stop offset="0.6885" stop-color="#d9d9d9"/><stop offset="0.7090" stop-color="#bebebe"/><stop offset="0.7295" stop-color="#a7a7a7"/><stop offset="0.7500" stop-color="#929292"/><stop offset="0.7705" stop-color="#808080"/><stop offset="0.7951" stop-color="#6d6d6d"/><stop offset="0.8197" stop-color="#5d5d5d"/><stop offset="0.8443" stop-color="#505050"/><stop offset="0.8484" stop-color="#4e4e4e"/><stop offset="0.9098" stop-color="#616161"/><stop offset="0.9467" stop-color="#6a6a6a"/><stop offset="0.9754" stop-color="#6f6f6f"/><stop offset="1.0000" stop-color="#707070"/></linearGradient>
<linearGradient id="ce41" x1="0" y1="0" x2="0" y2="1"><stop offset="0.0000" stop-color="#070707"/><stop offset="0.1516" stop-color="#0c0c0c"/><stop offset="0.2664" stop-color="#151515"/><stop offset="0.3156" stop-color="#1c1c1c"/><stop offset="0.3566" stop-color="#242424"/><stop offset="0.3975" stop-color="#2f2f2f"/><stop offset="0.4344" stop-color="#3b3b3b"/><stop offset="0.4713" stop-color="#4a4a4a"/><stop offset="0.5041" stop-color="#5b5b5b"/><stop offset="0.5328" stop-color="#6e6e6e"/><stop offset="0.5615" stop-color="#858585"/><stop offset="0.5861" stop-color="#9c9c9c"/><stop offset="0.6107" stop-color="#b7b7b7"/><stop offset="0.6352" stop-color="#d7d7d7"/><stop offset="0.6598" stop-color="#fcfcfc"/><stop offset="0.6639" stop-color="#ffffff"/><stop offset="0.6680" stop-color="#fcfcfc"/><stop offset="0.6885" stop-color="#dddddd"/><stop offset="0.7131" stop-color="#bcbcbc"/><stop offset="0.7336" stop-color="#a5a5a5"/><stop offset="0.7541" stop-color="#909090"/><stop offset="0.7746" stop-color="#7e7e7e"/><stop offset="0.7992" stop-color="#6b6b6b"/><stop offset="0.8238" stop-color="#5c5c5c"/><stop offset="0.8525" stop-color="#4c4c4c"/><stop offset="0.9426" stop-color="#626262"/><stop offset="0.9713" stop-color="#676767"/><stop offset="1.0000" stop-color="#686868"/></linearGradient>
<linearGradient id="ce42" x1="0" y1="0" x2="0" y2="1"><stop offset="0.0000" stop-color="#070707"/><stop offset="0.1516" stop-color="#0c0c0c"/><stop offset="0.2664" stop-color="#161616"/><stop offset="0.3156" stop-color="#1d1d1d"/><stop offset="0.3566" stop-color="#252525"/><stop offset="0.3975" stop-color="#2f2f2f"/><stop offset="0.4344" stop-color="#3b3b3b"/><stop offset="0.4713" stop-color="#4b4b4b"/><stop offset="0.5041" stop-color="#5c5c5c"/><stop offset="0.5328" stop-color="#6f6f6f"/><stop offset="0.5615" stop-color="#868686"/><stop offset="0.5861" stop-color="#9d9d9d"/><stop offset="0.6107" stop-color="#b9b9b9"/><stop offset="0.6352" stop-color="#dadada"/><stop offset="0.6598" stop-color="#ffffff"/><stop offset="0.6680" stop-color="#ffffff"/><stop offset="0.6926" stop-color="#dadada"/><stop offset="0.7131" stop-color="#bfbfbf"/><stop offset="0.7377" stop-color="#a2a2a2"/><stop offset="0.7623" stop-color="#8a8a8a"/><stop offset="0.7828" stop-color="#797979"/><stop offset="0.8074" stop-color="#676767"/><stop offset="0.8320" stop-color="#585858"/><stop offset="0.8566" stop-color="#4b4b4b"/><stop offset="0.8607" stop-color="#494949"/><stop offset="0.9098" stop-color="#565656"/><stop offset="0.9467" stop-color="#5d5d5d"/><stop offset="0.9754" stop-color="#606060"/><stop offset="1.0000" stop-color="#616161"/></linearGradient>
<linearGradient id="ce43" x1="0" y1="0" x2="0" y2="1"><stop offset="0.0000" stop-color="#070707"/><stop offset="0.1516" stop-color="#0c0c0c"/><stop offset="0.2664" stop-color="#161616"/><stop offset="0.3156" stop-color="#1d1d1d"/><stop offset="0.3566" stop-color="#252525"/><stop offset="0.3975" stop-color="#2f2f2f"/><stop offset="0.4344" stop-color="#3c3c3c"/><stop offset="0.4672" stop-color="#494949"/><stop offset="0.5000" stop-color="#5b5b5b"/><stop offset="0.5287" stop-color="#6d6d6d"/><stop offset="0.5574" stop-color="#848484"/><stop offset="0.5820" stop-color="#9b9b9b"/><stop offset="0.6066" stop-color="#b6b6b6"/><stop offset="0.6311" stop-color="#d6d6d6"/><stop offset="0.6557" stop-color="#fcfcfc"/><stop offset="0.6598" stop-color="#ffffff"/><stop offset="0.6680" stop-color="#ffffff"/><stop offset="0.6721" stop-color="#fcfcfc"/><stop offset="0.6926" stop-color="#dcdcdc"/><stop offset="0.7131" stop-color="#c1c1c1"/><stop offset="0.7377" stop-color="#a4a4a4"/><stop offset="0.7623" stop-color="#8b8b8b"/><stop offset="0.7828" stop-color="#7a7a7a"/><stop offset="0.8074" stop-color="#686868"/><stop offset="0.8320" stop-color="#585858"/><stop offset="0.8566" stop-color="#4b4b4b"/><stop offset="0.8648" stop-color="#484848"/><stop offset="0.8689" stop-color="#474747"/><stop offset="0.9426" stop-color="#565656"/><stop offset="0.9713" stop-color="#595959"/><stop offset="1.0000" stop-color="#5a5a5a"/></linearGradient>
<linearGradient id="ce44" x1="0" y1="0" x2="0" y2="1"><stop offset="0.0000" stop-color="#070707"/><stop offset="0.1516" stop-color="#0c0c0c"/><stop offset="0.2664" stop-color="#161616"/><stop offset="0.3156" stop-color="#1d1d1d"/><stop offset="0.3566" stop-color="#252525"/><stop offset="0.3975" stop-color="#2f2f2f"/><stop offset="0.4344" stop-color="#3c3c3c"/><stop offset="0.4672" stop-color="#4a4a4a"/><stop offset="0.5000" stop-color="#5b5b5b"/><stop offset="0.5287" stop-color="#6e6e6e"/><stop offset="0.5574" stop-color="#848484"/><stop offset="0.5820" stop-color="#9c9c9c"/><stop offset="0.6025" stop-color="#b2b2b2"/><stop offset="0.6311" stop-color="#d8d8d8"/><stop offset="0.6557" stop-color="#fefefe"/><stop offset="0.6598" stop-color="#ffffff"/><stop offset="0.6721" stop-color="#fefefe"/><stop offset="0.6967" stop-color="#d8d8d8"/><stop offset="0.7172" stop-color="#bdbdbd"/><stop offset="0.7377" stop-color="#a5a5a5"/><stop offset="0.7623" stop-color="#8c8c8c"/><stop offset="0.7828" stop-color="#7b7b7b"/><stop offset="0.8033" stop-color="#6b6b6b"/><stop offset="0.8279" stop-color="#5b5b5b"/><stop offset="0.8525" stop-color="#4e4e4e"/><stop offset="0.8730" stop-color="#444444"/><stop offset="0.9426" stop-color="#505050"/><stop offset="1.0000" stop-color="#545454"/></linearGradient>
<linearGradient id="ce45" x1="0" y1="0" x2="0" y2="1"><stop offset="0.0000" stop-color="#070707"/><stop offset="0.1516" stop-color="#0c0c0c"/><stop offset="0.2664" stop-color="#161616"/><stop offset="0.3156" stop-color="#1d1d1d"/><stop offset="0.3566" stop-color="#252525"/><stop offset="0.3975" stop-color="#303030"/><stop offset="0.4344" stop-color="#3c3c3c"/><stop offset="0.4672" stop-color="#4a4a4a"/><stop offset="0.5000" stop-color="#5b5b5b"/><stop offset="0.5287" stop-color="#6e6e6e"/><stop offset="0.5574" stop-color="#858585"/><stop offset="0.5861" stop-color="#a1a1a1"/><stop offset="0.6107" stop-color="#bdbdbd"/><stop offset="0.6311" stop-color="#d9d9d9"/><stop offset="0.6557" stop-color="#ffffff"/><stop offset="0.6721" stop-color="#ffffff"/><stop offset="0.6967" stop-color="#d9d9d9"/><stop offset="0.7172" stop-color="#bebebe"/><stop offset="0.7418" stop-color="#a1a1a1"/><stop offset="0.7664" stop-color="#898989"/><stop offset="0.7869" stop-color="#787878"/><stop offset="0.8074" stop-color="#696969"/><stop offset="0.8484" stop-color="#505050"/><stop offset="0.8811" stop-color="#424242"/><stop offset="0.9467" stop-color="#4b4b4b"/><stop offset="1.0000" stop-color="#4e4e4e"/></linearGradient>
<linearGradient id="ce46" x1="0" y1="0" x2="0" y2="1"><stop offset="0.0000" stop-color="#070707"/><stop offset="0.1516" stop-color="#0c0c0c"/><stop offset="0.2664" stop-color="#161616"/><stop offset="0.3156" stop-color="#1d1d1d"/><stop offset="0.3566" stop-color="#252525"/><stop offset="0.3975" stop-color="#303030"/><stop offset="0.4344" stop-color="#3c3c3c"/><stop offset="0.4672" stop-color="#4a4a4a"/><stop offset="0.5000" stop-color="#5c5c5c"/><stop offset="0.5287" stop-color="#6f6f6f"/><stop offset="0.5574" stop-color="#858585"/><stop offset="0.5820" stop-color="#9d9d9d"/><stop offset="0.6066" stop-color="#b9b9b9"/><stop offset="0.6311" stop-color="#d9d9d9"/><stop offset="0.6557" stop-color="#ffffff"/><stop offset="0.6721" stop-color="#ffffff"/><stop offset="0.6967" stop-color="#dadada"/><stop offset="0.7172" stop-color="#bebebe"/><stop offset="0.7418" stop-color="#a2a2a2"/><stop offset="0.7664" stop-color="#898989"/><stop offset="0.8033" stop-color="#6c6c6c"/><stop offset="0.8443" stop-color="#535353"/><stop offset="0.8730" stop-color="#454545"/><stop offset="0.8893" stop-color="#3f3f3f"/><stop offset="0.9467" stop-color="#464646"/><stop offset="1.0000" stop-color="#494949"/></linearGradient>
<linearGradient id="ce47" x1="0" y1="0" x2="0" y2="1"><stop offset="0.0000" stop-color="#070707"/><stop offset="0.1516" stop-color="#0c0c0c"/><stop offset="0.2664" stop-color="#161616"/><stop offset="0.3156" stop-color="#1d1d1d"/><stop offset="0.3566" stop-color="#252525"/><stop offset="0.3975" stop-color="#303030"/><stop offset="0.4344" stop-color="#3c3c3c"/><stop offset="0.4672" stop-color="#4a4a4a"/><stop offset="0.5000" stop-color="#5c5c5c"/><stop offset="0.5287" stop-color="#6f6f6f"/><stop offset="0.5574" stop-color="#868686"/><stop offset="0.5820" stop-color="#9d9d9d"/><stop offset="0.6066" stop-color="#b9b9b9"/><stop offset="0.6270" stop-color="#d4d4d4"/><stop offset="0.6557" stop-color="#ffffff"/><stop offset="0.6721" stop-color="#ffffff"/><stop offset="0.6762" stop-color="#fafafa"/><stop offset="0.7008" stop-color="#d4d4d4"/><stop offset="0.7172" stop-color="#bfbfbf"/><stop offset="0.7377" stop-color="#a6a6a6"/><stop offset="0.7623" stop-color="#8d8d8d"/><stop offset="0.7992" stop-color="#6f6f6f"/><stop offset="0.8402" stop-color="#555555"/><stop offset="0.8648" stop-color="#494949"/><stop offset="0.8934" stop-color="#3c3c3c"/><stop offset="0.9549" stop-color="#424242"/><stop offset="1.0000" stop-color="#444444"/></linearGradient>
<linearGradient id="ce48" x1="0" y1="0" x2="0" y2="1"><stop offset="0.0000" stop-color="#070707"/><stop offset="0.1516" stop-color="#0c0c0c"/><stop offset="0.2664" stop-color="#161616"/><stop offset="0.3156" stop-color="#1d1d1d"/><stop offset="0.3566" stop-color="#252525"/><stop offset="0.3975" stop-color="#303030"/><stop offset="0.4344" stop-color="#3c3c3c"/><stop offset="0.4672" stop-color="#4a4a4a"/><stop offset="0.5000" stop-color="#5c5c5c"/><stop offset="0.5287" stop-color="#6f6f6f"/><stop offset="0.5574" stop-color="#868686"/><stop offset="0.5820" stop-color="#9d9d9d"/><stop offset="0.6066" stop-color="#b9b9b9"/><stop offset="0.6270" stop-color="#d4d4d4"/><stop offset="0.6557" stop-color="#ffffff"/><stop offset="0.6721" stop-color="#ffffff"/><stop offset="0.6762" stop-color="#fafafa"/><stop offset="0.7008" stop-color="#d5d5d5"/><stop offset="0.7172" stop-color="#bfbfbf"/><stop offset="0.7377" stop-color="#a6a6a6"/><stop offset="0.7623" stop-color="#8d8d8d"/><stop offset="0.7992" stop-color="#6f6f6f"/><stop offset="0.8402" stop-color="#555555"/><stop offset="0.8730" stop-color="#454545"/><stop offset="0.9016" stop-color="#3a3a3a"/><stop offset="0.9549" stop-color="#3f3f3f"/><stop offset="1.0000" stop-color="#404040"/></linearGradient>
<linearGradient id="ce49" x1="0" y1="0" x2="0" y2="1"><stop offset="0.0000" stop-color="#060606"/><stop offset="0.1475" stop-color="#0a0a0a"/><stop offset="0.2582" stop-color="#111111"/><stop offset="0.3525" stop-color="#1d1d1d"/><stop offset="0.4303" stop-color="#2c2c2c"/><stop offset="0.4754" stop-color="#393939"/><stop offset="0.5164" stop-color="#474747"/><stop offset="0.5574" stop-color="#585858"/><stop offset="0.6189" stop-color="#757575"/><stop offset="0.6434" stop-color="#7e7e7e"/><stop offset="0.6557" stop-color="#818181"/><stop offset="0.7049" stop-color="#848484"/><stop offset="0.7459" stop-color="#898989"/><stop offset="0.7869" stop-color="#939393"/><stop offset="0.8279" stop-color="#a0a0a0"/><stop offset="0.8648" stop-color="#afafaf"/><stop offset="0.9057" stop-color="#c4c4c4"/><stop offset="0.9426" stop-color="#dadada"/><stop offset="0.9754" stop-color="#f0f0f0"/><stop offset="0.9795" stop-color="#f3f3f3"/><stop offset="0.9877" stop-color="#fefefe"/><stop offset="1.0000" stop-color="#ffffff"/></linearGradient>
<linearGradient id="mp_e" x1="0" y1="0" x2="0" y2="1"><stop offset="0.0000" stop-color="#121212"/><stop offset="1.0000" stop-color="#131313"/></linearGradient>
<clipPath id="clip_f"><rect x="1267.5" y="2249.1" width="871.7" height="651.8"/></clipPath>
<linearGradient id="cf0" x1="0" y1="0" x2="0" y2="1"><stop offset="0.0000" stop-color="#070707"/><stop offset="0.2245" stop-color="#0c0c0c"/><stop offset="0.3918" stop-color="#131313"/><stop offset="0.5306" stop-color="#202020"/><stop offset="0.5918" stop-color="#292929"/><stop offset="0.6490" stop-color="#333333"/><stop offset="0.7020" stop-color="#404040"/><stop offset="0.7510" stop-color="#4e4e4e"/><stop offset="0.7959" stop-color="#5e5e5e"/><stop offset="0.8367" stop-color="#707070"/><stop offset="0.8735" stop-color="#838383"/><stop offset="0.9061" stop-color="#969696"/><stop offset="0.9510" stop-color="#b6b6b6"/><stop offset="0.9918" stop-color="#d9d9d9"/><stop offset="0.9959" stop-color="#dbdbdb"/><stop offset="1.0000" stop-color="#d8d8d8"/></linearGradient>
<linearGradient id="cf1" x1="0" y1="0" x2="0" y2="1"><stop offset="0.0000" stop-color="#070707"/><stop offset="0.2082" stop-color="#0c0c0c"/><stop offset="0.3918" stop-color="#131313"/><stop offset="0.5306" stop-color="#202020"/><stop offset="0.5918" stop-color="#292929"/><stop offset="0.6490" stop-color="#333333"/><stop offset="0.7020" stop-color="#404040"/><stop offset="0.7510" stop-color="#4e4e4e"/><stop offset="0.7959" stop-color="#5e5e5e"/><stop offset="0.8367" stop-color="#707070"/><stop offset="0.8735" stop-color="#838383"/><stop offset="0.9061" stop-color="#969696"/><stop offset="0.9510" stop-color="#b6b6b6"/><stop offset="0.9918" stop-color="#d9d9d9"/><stop offset="0.9959" stop-color="#dbdbdb"/><stop offset="1.0000" stop-color="#d8d8d8"/></linearGradient>
<linearGradient id="cf2" x1="0" y1="0" x2="0" y2="1"><stop offset="0.0000" stop-color="#070707"/><stop offset="0.2082" stop-color="#0c0c0c"/><stop offset="0.4122" stop-color="#151515"/><stop offset="0.5388" stop-color="#212121"/><stop offset="0.5959" stop-color="#2a2a2a"/><stop offset="0.6490" stop-color="#333333"/><stop offset="0.7020" stop-color="#404040"/><stop offset="0.7510" stop-color="#4e4e4e"/><stop offset="0.7959" stop-color="#5e5e5e"/><stop offset="0.8367" stop-color="#707070"/><stop offset="0.8735" stop-color="#838383"/><stop offset="0.9061" stop-color="#969696"/><stop offset="0.9510" stop-color="#b6b6b6"/><stop offset="0.9918" stop-color="#d9d9d9"/><stop offset="0.9959" stop-color="#dbdbdb"/><stop offset="1.0000" stop-color="#d8d8d8"/></linearGradient>
<linearGradient id="cf3" x1="0" y1="0" x2="0" y2="1"><stop offset="0.0000" stop-color="#070707"/><stop offset="0.2204" stop-color="#0d0d0d"/><stop offset="0.4408" stop-color="#171717"/><stop offset="0.5510" stop-color="#232323"/><stop offset="0.6490" stop-color="#333333"/><stop offset="0.7020" stop-color="#404040"/><stop offset="0.7510" stop-color="#4e4e4e"/><stop offset="0.7959" stop-color="#5e5e5e"/><stop offset="0.8367" stop-color="#707070"/><stop offset="0.8735" stop-color="#838383"/><stop offset="0.9061" stop-color="#969696"/><stop offset="0.9510" stop-color="#b6b6b6"/><stop offset="0.9918" stop-color="#d9d9d9"/><stop offset="0.9959" stop-color="#dbdbdb"/><stop offset="1.0000" stop-color="#d8d8d8"/></linearGradient>
<linearGradient id="cf4" x1="0" y1="0" x2="0" y2="1"><stop offset="0.0000" stop-color="#080808"/><stop offset="0.2327" stop-color="#0e0e0e"/><stop offset="0.4694" stop-color="#1a1a1a"/><stop offset="0.5633" stop-color="#252525"/><stop offset="0.6490" stop-color="#333333"/><stop offset="0.7020" stop-color="#404040"/><stop offset="0.7510" stop-color="#4e4e4e"/><stop offset="0.7959" stop-color="#5e5e5e"/><stop offset="0.8367" stop-color="#707070"/><stop offset="0.8735" stop-color="#838383"/><stop offset="0.9061" stop-color="#969696"/><stop offset="0.9510" stop-color="#b6b6b6"/><stop offset="0.9918" stop-color="#d9d9d9"/><stop offset="0.9959" stop-color="#dbdbdb"/><stop offset="1.0000" stop-color="#d8d8d8"/></linearGradient>
<linearGradient id="cf5" x1="0" y1="0" x2="0" y2="1"><stop offset="0.0000" stop-color="#080808"/><stop offset="0.2449" stop-color="#0e0e0e"/><stop offset="0.4939" stop-color="#1c1c1c"/><stop offset="0.5755" stop-color="#262626"/><stop offset="0.6490" stop-color="#333333"/><stop offset="0.7020" stop-color="#404040"/><stop offset="0.7510" stop-color="#4e4e4e"/><stop offset="0.7959" stop-color="#5e5e5e"/><stop offset="0.8367" stop-color="#707070"/><stop offset="0.8735" stop-color="#838383"/><stop offset="0.9061" stop-color="#969696"/><stop offset="0.9510" stop-color="#b6b6b6"/><stop offset="0.9918" stop-color="#d9d9d9"/><stop offset="0.9959" stop-color="#dbdbdb"/><stop offset="1.0000" stop-color="#d8d8d8"/></linearGradient>
<linearGradient id="cf6" x1="0" y1="0" x2="0" y2="1"><stop offset="0.0000" stop-color="#080808"/><stop offset="0.2531" stop-color="#0f0f0f"/><stop offset="0.5184" stop-color="#1f1f1f"/><stop offset="0.5878" stop-color="#282828"/><stop offset="0.6490" stop-color="#333333"/><stop offset="0.7020" stop-color="#404040"/><stop offset="0.7510" stop-color="#4e4e4e"/><stop offset="0.7959" stop-color="#5e5e5e"/><stop offset="0.8367" stop-color="#707070"/><stop offset="0.8735" stop-color="#838383"/><stop offset="0.9061" stop-color="#969696"/><stop offset="0.9510" stop-color="#b6b6b6"/><stop offset="0.9918" stop-color="#d9d9d9"/><stop offset="0.9959" stop-color="#dbdbdb"/><stop offset="1.0000" stop-color="#d8d8d8"/></linearGradient>
<linearGradient id="cf7" x1="0" y1="0" x2="0" y2="1"><stop offset="0.0000" stop-color="#080808"/><stop offset="0.2082" stop-color="#0e0e0e"/><stop offset="0.3959" stop-color="#181818"/><stop offset="0.5429" stop-color="#222222"/><stop offset="0.6000" stop-color="#2a2a2a"/><stop offset="0.6490" stop-color="#333333"/><stop offset="0.7020" stop-color="#404040"/><stop offset="0.7510" stop-color="#4e4e4e"/><stop offset="0.7959" stop-color="#5e5e5e"/><stop offset="0.8367" stop-color="#707070"/><stop offset="0.8735" stop-color="#838383"/><stop offset="0.9061" stop-color="#969696"/><stop offset="0.9510" stop-color="#b6b6b6"/><stop offset="0.9918" stop-color="#d9d9d9"/><stop offset="0.9959" stop-color="#dbdbdb"/><stop offset="1.0000" stop-color="#d8d8d8"/></linearGradient>
<linearGradient id="cf8" x1="0" y1="0" x2="0" y2="1"><stop offset="0.0000" stop-color="#080808"/><stop offset="0.1959" stop-color="#0d0d0d"/><stop offset="0.3633" stop-color="#161616"/><stop offset="0.5633" stop-color="#252525"/><stop offset="0.6490" stop-color="#333333"/><stop offset="0.7020" stop-color="#404040"/><stop offset="0.7510" stop-color="#4e4e4e"/><stop offset="0.7959" stop-color="#5e5e5e"/><stop offset="0.8367" stop-color="#707070"/><stop offset="0.8735" stop-color="#838383"/><stop offset="0.9061" stop-color="#969696"/><stop offset="0.9510" stop-color="#b6b6b6"/><stop offset="0.9918" stop-color="#d9d9d9"/><stop offset="0.9959" stop-color="#dbdbdb"/><stop offset="1.0000" stop-color="#d8d8d8"/></linearGradient>
<linearGradient id="cf9" x1="0" y1="0" x2="0" y2="1"><stop offset="0.0000" stop-color="#080808"/><stop offset="0.1837" stop-color="#0d0d0d"/><stop offset="0.3429" stop-color="#161616"/><stop offset="0.5837" stop-color="#282828"/><stop offset="0.6490" stop-color="#333333"/><stop offset="0.7020" stop-color="#404040"/><stop offset="0.7510" stop-color="#4e4e4e"/><stop offset="0.7959" stop-color="#5e5e5e"/><stop offset="0.8367" stop-color="#707070"/><stop offset="0.8735" stop-color="#838383"/><stop offset="0.9061" stop-color="#969696"/><stop offset="0.9510" stop-color="#b6b6b6"/><stop offset="0.9918" stop-color="#d9d9d9"/><stop offset="0.9959" stop-color="#dbdbdb"/><stop offset="1.0000" stop-color="#d8d8d8"/></linearGradient>
<linearGradient id="cf10" x1="0" y1="0" x2="0" y2="1"><stop offset="0.0000" stop-color="#080808"/><stop offset="0.1755" stop-color="#0d0d0d"/><stop offset="0.3224" stop-color="#151515"/><stop offset="0.6000" stop-color="#2a2a2a"/><stop offset="0.6490" stop-color="#333333"/><stop offset="0.7020" stop-color="#404040"/><stop offset="0.7510" stop-color="#4e4e4e"/><stop offset="0.7959" stop-color="#5e5e5e"/><stop offset="0.8367" stop-color="#707070"/><stop offset="0.8735" stop-color="#838383"/><stop offset="0.9061" stop-color="#969696"/><stop offset="0.9510" stop-color="#b6b6b6"/><stop offset="0.9918" stop-color="#d9d9d9"/><stop offset="0.9959" stop-color="#dbdbdb"/><stop offset="1.0000" stop-color="#d8d8d8"/></linearGradient>
<linearGradient id="cf11" x1="0" y1="0" x2="0" y2="1"><stop offset="0.0000" stop-color="#080808"/><stop offset="0.1673" stop-color="#0d0d0d"/><stop offset="0.3102" stop-color="#141414"/><stop offset="0.5551" stop-color="#2a2a2a"/><stop offset="0.6163" stop-color="#2d2d2d"/><stop offset="0.6490" stop-color="#333333"/><stop offset="0.7020" stop-color="#404040"/><stop offset="0.7510" stop-color="#4e4e4e"/><stop offset="0.7959" stop-color="#5e5e5e"/><stop offset="0.8367" stop-color="#707070"/><stop offset="0.8735" stop-color="#838383"/><stop offset="0.9061" stop-color="#969696"/><stop offset="0.9510" stop-color="#b6b6b6"/><stop offset="0.9918" stop-color="#d9d9d9"/><stop offset="0.9959" stop-color="#dbdbdb"/><stop offset="1.0000" stop-color="#d8d8d8"/></linearGradient>
<linearGradient id="cf12" x1="0" y1="0" x2="0" y2="1"><stop offset="0.0000" stop-color="#080808"/><stop offset="0.1592" stop-color="#0d0d0d"/><stop offset="0.2939" stop-color="#141414"/><stop offset="0.3959" stop-color="#1c1c1c"/><stop offset="0.5633" stop-color="#2c2c2c"/><stop offset="0.6327" stop-color="#303030"/><stop offset="0.6490" stop-color="#333333"/><stop offset="0.7020" stop-color="#404040"/><stop offset="0.7510" stop-color="#4e4e4e"/><stop offset="0.7959" stop-color="#5e5e5e"/><stop offset="0.8367" stop-color="#707070"/><stop offset="0.8735" stop-color="#838383"/><stop offset="0.9061" stop-color="#969696"/><stop offset="0.9510" stop-color="#b6b6b6"/><stop offset="0.9918" stop-color="#d9d9d9"/><stop offset="0.9959" stop-color="#dbdbdb"/><stop offset="1.0000" stop-color="#d8d8d8"/></linearGradient>
<linearGradient id="cf13" x1="0" y1="0" x2="0" y2="1"><stop offset="0.0000" stop-color="#080808"/><stop offset="0.1551" stop-color="#0d0d0d"/><stop offset="0.2857" stop-color="#141414"/><stop offset="0.3959" stop-color="#1d1d1d"/><stop offset="0.5755" stop-color="#2f2f2f"/><stop offset="0.6531" stop-color="#343434"/><stop offset="0.7020" stop-color="#404040"/><stop offset="0.7510" stop-color="#4e4e4e"/><stop offset="0.7959" stop-color="#5e5e5e"/><stop offset="0.8367" stop-color="#707070"/><stop offset="0.8735" stop-color="#838383"/><stop offset="0.9061" stop-color="#969696"/><stop offset="0.9510" stop-color="#b6b6b6"/><stop offset="0.9918" stop-color="#d9d9d9"/><stop offset="0.9959" stop-color="#dbdbdb"/><stop offset="1.0000" stop-color="#d8d8d8"/></linearGradient>
<linearGradient id="cf14" x1="0" y1="0" x2="0" y2="1"><stop offset="0.0000" stop-color="#080808"/><stop offset="0.1551" stop-color="#0d0d0d"/><stop offset="0.2857" stop-color="#141414"/><stop offset="0.4000" stop-color="#1e1e1e"/><stop offset="0.5837" stop-color="#333333"/><stop offset="0.6653" stop-color="#373737"/><stop offset="0.7143" stop-color="#434343"/><stop offset="0.7592" stop-color="#515151"/><stop offset="0.8000" stop-color="#606060"/><stop offset="0.8408" stop-color="#727272"/><stop offset="0.8816" stop-color="#878787"/><stop offset="0.9184" stop-color="#9e9e9e"/><stop offset="0.9551" stop-color="#b9b9b9"/><stop offset="0.9918" stop-color="#d9d9d9"/><stop offset="0.9959" stop-color="#dbdbdb"/><stop offset="1.0000" stop-color="#d8d8d8"/></linearGradient>
<linearGradient id="cf15" x1="0" y1="0" x2="0" y2="1"><stop offset="0.0000" stop-color="#090909"/><stop offset="0.1469" stop-color="#0d0d0d"/><stop offset="0.2857" stop-color="#141414"/><stop offset="0.4041" stop-color="#1f1f1f"/><stop offset="0.5918" stop-color="#363636"/><stop offset="0.6327" stop-color="#393939"/><stop offset="0.6776" stop-color="#3a3a3a"/><stop offset="0.7224" stop-color="#454545"/><stop offset="0.7673" stop-color="#545454"/><stop offset="0.8082" stop-color="#636363"/><stop offset="0.8449" stop-color="#747474"/><stop offset="0.8857" stop-color="#8a8a8a"/><stop offset="0.9224" stop-color="#a1a1a1"/><stop offset="0.9592" stop-color="#bdbdbd"/><stop offset="0.9918" stop-color="#d9d9d9"/><stop offset="0.9959" stop-color="#dbdbdb"/><stop offset="1.0000" stop-color="#d8d8d8"/></linearGradient>
<linearGradient id="cf16" x1="0" y1="0" x2="0" y2="1"><stop offset="0.0000" stop-color="#090909"/><stop offset="0.1429" stop-color="#0d0d0d"/><stop offset="0.2898" stop-color="#151515"/><stop offset="0.4122" stop-color="#212121"/><stop offset="0.6000" stop-color="#393939"/><stop offset="0.6939" stop-color="#3e3e3e"/><stop offset="0.7388" stop-color="#4a4a4a"/><stop offset="0.7796" stop-color="#585858"/><stop offset="0.8163" stop-color="#676767"/><stop offset="0.8531" stop-color="#787878"/><stop offset="0.8898" stop-color="#8c8c8c"/><stop offset="0.9265" stop-color="#a4a4a4"/><stop offset="0.9592" stop-color="#bdbdbd"/><stop offset="0.9918" stop-color="#d9d9d9"/><stop offset="0.9959" stop-color="#dbdbdb"/><stop offset="1.0000" stop-color="#d8d8d8"/></linearGradient>
<linearGradient id="cf17" x1="0" y1="0" x2="0" y2="1"><stop offset="0.0000" stop-color="#0a0a0a"/><stop offset="0.0571" stop-color="#0a0a0a"/><stop offset="0.1347" stop-color="#0d0d0d"/><stop offset="0.2939" stop-color="#161616"/><stop offset="0.4163" stop-color="#222222"/><stop offset="0.6041" stop-color="#3d3d3d"/><stop offset="0.7102" stop-color="#424242"/><stop offset="0.7469" stop-color="#4d4d4d"/><stop offset="0.7878" stop-color="#5b5b5b"/><stop offset="0.8245" stop-color="#6a6a6a"/><stop offset="0.8571" stop-color="#7a7a7a"/><stop offset="0.8939" stop-color="#8f8f8f"/><stop offset="0.9265" stop-color="#a4a4a4"/><stop offset="0.9592" stop-color="#bdbdbd"/><stop offset="0.9918" stop-color="#d9d9d9"/><stop offset="0.9959" stop-color="#dbdbdb"/><stop offset="1.0000" stop-color="#d8d8d8"/></linearGradient>
<linearGradient id="cf18" x1="0" y1="0" x2="0" y2="1"><stop offset="0.0000" stop-color="#0b0b0b"/><stop offset="0.0735" stop-color="#0b0b0b"/><stop offset="0.1347" stop-color="#0d0d0d"/><stop offset="0.3020" stop-color="#171717"/><stop offset="0.4245" stop-color="#242424"/><stop offset="0.6082" stop-color="#404040"/><stop offset="0.6408" stop-color="#434343"/><stop offset="0.6939" stop-color="#454545"/><stop offset="0.7306" stop-color="#484848"/><stop offset="0.8000" stop-color="#606060"/><stop offset="0.8327" stop-color="#6e6e6e"/><stop offset="0.8653" stop-color="#7e7e7e"/><stop offset="0.8980" stop-color="#919191"/><stop offset="0.9306" stop-color="#a7a7a7"/><stop offset="0.9633" stop-color="#c0c0c0"/><stop offset="0.9918" stop-color="#d9d9d9"/><stop offset="0.9959" stop-color="#dbdbdb"/><stop offset="1.0000" stop-color="#d8d8d8"/></linearGradient>
<linearGradient id="cf19" x1="0" y1="0" x2="0" y2="1"><stop offset="0.0000" stop-color="#0b0b0b"/><stop offset="0.0898" stop-color="#0b0b0b"/><stop offset="0.1306" stop-color="#0d0d0d"/><stop offset="0.2245" stop-color="#111111"/><stop offset="0.3102" stop-color="#181818"/><stop offset="0.4327" stop-color="#262626"/><stop offset="0.6122" stop-color="#444444"/><stop offset="0.6449" stop-color="#474747"/><stop offset="0.7020" stop-color="#494949"/><stop offset="0.7510" stop-color="#4e4e4e"/><stop offset="0.8122" stop-color="#656565"/><stop offset="0.8735" stop-color="#838383"/><stop offset="0.9061" stop-color="#969696"/><stop offset="0.9347" stop-color="#aaaaaa"/><stop offset="0.9633" stop-color="#c0c0c0"/><stop offset="0.9918" stop-color="#d9d9d9"/><stop offset="0.9959" stop-color="#dbdbdb"/><stop offset="1.0000" stop-color="#d8d8d8"/></linearGradient>
<linearGradient id="cf20" x1="0" y1="0" x2="0" y2="1"><stop offset="0.0000" stop-color="#0c0c0c"/><stop offset="0.1347" stop-color="#0d0d0d"/><stop offset="0.2327" stop-color="#121212"/><stop offset="0.3224" stop-color="#191919"/><stop offset="0.4449" stop-color="#292929"/><stop offset="0.6163" stop-color="#484848"/><stop offset="0.6449" stop-color="#4b4b4b"/><stop offset="0.7143" stop-color="#4e4e4e"/><stop offset="0.7755" stop-color="#575757"/><stop offset="0.8286" stop-color="#6c6c6c"/><stop offset="0.8816" stop-color="#878787"/><stop offset="0.9102" stop-color="#999999"/><stop offset="0.9388" stop-color="#adadad"/><stop offset="0.9633" stop-color="#c0c0c0"/><stop offset="0.9918" stop-color="#d9d9d9"/><stop offset="0.9959" stop-color="#dbdbdb"/><stop offset="1.0000" stop-color="#d8d8d8"/></linearGradient>
<linearGradient id="cf21" x1="0" y1="0" x2="0" y2="1"><stop offset="0.0000" stop-color="#0c0c0c"/><stop offset="0.1306" stop-color="#0d0d0d"/><stop offset="0.2367" stop-color="#131313"/><stop offset="0.3265" stop-color="#1a1a1a"/><stop offset="0.3918" stop-color="#222222"/><stop offset="0.4531" stop-color="#2b2b2b"/><stop offset="0.6204" stop-color="#4c4c4c"/><stop offset="0.6490" stop-color="#4f4f4f"/><stop offset="0.7184" stop-color="#535353"/><stop offset="0.7837" stop-color="#5d5d5d"/><stop offset="0.8000" stop-color="#606060"/><stop offset="0.8204" stop-color="#696969"/><stop offset="0.8531" stop-color="#787878"/><stop offset="0.8816" stop-color="#878787"/><stop offset="0.9102" stop-color="#999999"/><stop offset="0.9388" stop-color="#adadad"/><stop offset="0.9633" stop-color="#c0c0c0"/><stop offset="0.9918" stop-color="#d9d9d9"/><stop offset="0.9959" stop-color="#dbdbdb"/><stop offset="1.0000" stop-color="#d8d8d8"/></linearGradient>
<linearGradient id="cf22" x1="0" y1="0" x2="0" y2="1"><stop offset="0.0000" stop-color="#0d0d0d"/><stop offset="0.1388" stop-color="#0d0d0d"/><stop offset="0.2449" stop-color="#131313"/><stop offset="0.3347" stop-color="#1b1b1b"/><stop offset="0.4000" stop-color="#232323"/><stop offset="0.4612" stop-color="#2d2d2d"/><stop offset="0.6286" stop-color="#515151"/><stop offset="0.6490" stop-color="#545454"/><stop offset="0.7184" stop-color="#575757"/><stop offset="0.7796" stop-color="#606060"/><stop offset="0.8286" stop-color="#6c6c6c"/><stop offset="0.8694" stop-color="#818181"/><stop offset="0.9020" stop-color="#949494"/><stop offset="0.9347" stop-color="#aaaaaa"/><stop offset="0.9633" stop-color="#c0c0c0"/><stop offset="0.9918" stop-color="#d9d9d9"/><stop offset="0.9959" stop-color="#dbdbdb"/><stop offset="1.0000" stop-color="#d8d8d8"/></linearGradient>
<linearGradient id="cf23" x1="0" y1="0" x2="0" y2="1"><stop offset="0.0000" stop-color="#0e0e0e"/><stop offset="0.1510" stop-color="#0e0e0e"/><stop offset="0.2531" stop-color="#141414"/><stop offset="0.3388" stop-color="#1c1c1c"/><stop offset="0.4082" stop-color="#252525"/><stop offset="0.4694" stop-color="#303030"/><stop offset="0.6327" stop-color="#565656"/><stop offset="0.6531" stop-color="#595959"/><stop offset="0.7184" stop-color="#5c5c5c"/><stop offset="0.7796" stop-color="#656565"/><stop offset="0.8204" stop-color="#6f6f6f"/><stop offset="0.8571" stop-color="#7a7a7a"/><stop offset="0.8939" stop-color="#8f8f8f"/><stop offset="0.9265" stop-color="#a4a4a4"/><stop offset="0.9592" stop-color="#bdbdbd"/><stop offset="0.9918" stop-color="#d9d9d9"/><stop offset="0.9959" stop-color="#dbdbdb"/><stop offset="1.0000" stop-color="#d8d8d8"/></linearGradient>
<linearGradient id="cf24" x1="0" y1="0" x2="0" y2="1"><stop offset="0.0000" stop-color="#0f0f0f"/><stop offset="0.1673" stop-color="#0f0f0f"/><stop offset="0.2612" stop-color="#151515"/><stop offset="0.3469" stop-color="#1d1d1d"/><stop offset="0.4163" stop-color="#272727"/><stop offset="0.4816" stop-color="#333333"/><stop offset="0.5306" stop-color="#3f3f3f"/><stop offset="0.6367" stop-color="#5b5b5b"/><stop offset="0.6531" stop-color="#5e5e5e"/><stop offset="0.7184" stop-color="#616161"/><stop offset="0.7755" stop-color="#6a6a6a"/><stop offset="0.8327" stop-color="#787878"/><stop offset="0.8857" stop-color="#8a8a8a"/><stop offset="0.9388" stop-color="#adadad"/><stop offset="0.9633" stop-color="#c0c0c0"/><stop offset="0.9918" stop-color="#d9d9d9"/><stop offset="0.9959" stop-color="#dbdbdb"/><stop offset="1.0000" stop-color="#d8d8d8"/></linearGradient>
<linearGradient id="cf25" x1="0" y1="0" x2="0" y2="1"><stop offset="0.0000" stop-color="#0f0f0f"/><stop offset="0.1755" stop-color="#0f0f0f"/><stop offset="0.2286" stop-color="#131313"/><stop offset="0.3551" stop-color="#1e1e1e"/><stop offset="0.4082" stop-color="#262626"/><stop offset="0.4612" stop-color="#2f2f2f"/><stop offset="0.5347" stop-color="#414141"/><stop offset="0.6408" stop-color="#616161"/><stop offset="0.6571" stop-color="#636363"/><stop offset="0.7102" stop-color="#656565"/><stop offset="0.7469" stop-color="#6a6a6a"/><stop offset="0.7918" stop-color="#737373"/><stop offset="0.8367" stop-color="#7f7f7f"/><stop offset="0.8776" stop-color="#8d8d8d"/><stop offset="0.9143" stop-color="#9c9c9c"/><stop offset="0.9551" stop-color="#b9b9b9"/><stop offset="0.9918" stop-color="#d9d9d9"/><stop offset="0.9959" stop-color="#dbdbdb"/><stop offset="1.0000" stop-color="#d8d8d8"/></linearGradient>
<linearGradient id="cf26" x1="0" y1="0" x2="0" y2="1"><stop offset="0.0000" stop-color="#101010"/><stop offset="0.1918" stop-color="#101010"/><stop offset="0.2204" stop-color="#121212"/><stop offset="0.3510" stop-color="#1e1e1e"/><stop offset="0.4082" stop-color="#262626"/><stop offset="0.4571" stop-color="#2f2f2f"/><stop offset="0.5429" stop-color="#444444"/><stop offset="0.6490" stop-color="#676767"/><stop offset="0.7061" stop-color="#6b6b6b"/><stop offset="0.7429" stop-color="#6f6f6f"/><stop offset="0.7878" stop-color="#787878"/><stop offset="0.8327" stop-color="#848484"/><stop offset="0.8898" stop-color="#989898"/><stop offset="0.9429" stop-color="#b0b0b0"/><stop offset="0.9633" stop-color="#c0c0c0"/><stop offset="0.9918" stop-color="#d9d9d9"/><stop offset="0.9959" stop-color="#dbdbdb"/><stop offset="1.0000" stop-color="#d8d8d8"/></linearGradient>
<linearGradient id="cf27" x1="0" y1="0" x2="0" y2="1"><stop offset="0.0000" stop-color="#111111"/><stop offset="0.2122" stop-color="#121212"/><stop offset="0.3429" stop-color="#1d1d1d"/><stop offset="0.4000" stop-color="#252525"/><stop offset="0.4531" stop-color="#2e2e2e"/><stop offset="0.5020" stop-color="#393939"/><stop offset="0.5510" stop-color="#474747"/><stop offset="0.5878" stop-color="#545454"/><stop offset="0.6571" stop-color="#6f6f6f"/><stop offset="0.7020" stop-color="#717171"/><stop offset="0.7429" stop-color="#757575"/><stop offset="0.7878" stop-color="#7e7e7e"/><stop offset="0.8286" stop-color="#898989"/><stop offset="0.8735" stop-color="#999999"/><stop offset="0.9143" stop-color="#aaaaaa"/><stop offset="0.9755" stop-color="#cacaca"/><stop offset="0.9959" stop-color="#dbdbdb"/><stop offset="1.0000" stop-color="#d8d8d8"/></linearGradient>
<linearGradient id="cf28" x1="0" y1="0" x2="0" y2="1"><stop offset="0.0000" stop-color="#121212"/><stop offset="0.2204" stop-color="#121212"/><stop offset="0.3469" stop-color="#1e1e1e"/><stop offset="0.4041" stop-color="#262626"/><stop offset="0.4531" stop-color="#2e2e2e"/><stop offset="0.5102" stop-color="#3c3c3c"/><stop offset="0.5633" stop-color="#4c4c4c"/><stop offset="0.6122" stop-color="#5e5e5e"/><stop offset="0.6612" stop-color="#757575"/><stop offset="0.7020" stop-color="#777777"/><stop offset="0.7429" stop-color="#7b7b7b"/><stop offset="0.7837" stop-color="#838383"/><stop offset="0.8245" stop-color="#8f8f8f"/><stop offset="0.8653" stop-color="#9d9d9d"/><stop offset="0.9061" stop-color="#aeaeae"/><stop offset="0.9469" stop-color="#c3c3c3"/><stop offset="0.9918" stop-color="#dedede"/><stop offset="0.9959" stop-color="#dddddd"/><stop offset="1.0000" stop-color="#dadada"/></linearGradient>
<linearGradient id="cf29" x1="0" y1="0" x2="0" y2="1"><stop offset="0.0000" stop-color="#131313"/><stop offset="0.2327" stop-color="#131313"/><stop offset="0.3469" stop-color="#1e1e1e"/><stop offset="0.4449" stop-color="#2d2d2d"/><stop offset="0.5020" stop-color="#393939"/><stop offset="0.5510" stop-color="#474747"/><stop offset="0.5959" stop-color="#575757"/><stop offset="0.6612" stop-color="#727272"/><stop offset="0.6939" stop-color="#727272"/><stop offset="0.7388" stop-color="#777777"/><stop offset="0.7796" stop-color="#7e7e7e"/><stop offset="0.8204" stop-color="#898989"/><stop offset="0.8612" stop-color="#979797"/><stop offset="0.9020" stop-color="#a7a7a7"/><stop offset="0.9469" stop-color="#bdbdbd"/><stop offset="0.9878" stop-color="#d5d5d5"/><stop offset="0.9918" stop-color="#d6d6d6"/><stop offset="1.0000" stop-color="#d4d4d4"/></linearGradient>
<linearGradient id="cf30" x1="0" y1="0" x2="0" y2="1"><stop offset="0.0000" stop-color="#141414"/><stop offset="0.2449" stop-color="#141414"/><stop offset="0.3469" stop-color="#1e1e1e"/><stop offset="0.4327" stop-color="#2a2a2a"/><stop offset="0.5143" stop-color="#3c3c3c"/><stop offset="0.5878" stop-color="#535353"/><stop offset="0.6367" stop-color="#656565"/><stop offset="0.6490" stop-color="#6f6f6f"/><stop offset="0.6612" stop-color="#7c7c7c"/><stop offset="0.6653" stop-color="#7c7c7c"/><stop offset="0.6735" stop-color="#727272"/><stop offset="0.6816" stop-color="#6b6b6b"/><stop offset="0.7469" stop-color="#727272"/><stop offset="0.8122" stop-color="#808080"/><stop offset="0.8531" stop-color="#8d8d8d"/><stop offset="0.8939" stop-color="#9c9c9c"/><stop offset="0.9347" stop-color="#afafaf"/><stop offset="0.9837" stop-color="#c8c8c8"/><stop offset="0.9918" stop-color="#cacaca"/><stop offset="1.0000" stop-color="#c9c9c9"/></linearGradient>
<linearGradient id="cf31" x1="0" y1="0" x2="0" y2="1"><stop offset="0.0000" stop-color="#141414"/><stop offset="0.2531" stop-color="#141414"/><stop offset="0.3347" stop-color="#1c1c1c"/><stop offset="0.4082" stop-color="#262626"/><stop offset="0.4571" stop-color="#2f2f2f"/><stop offset="0.5061" stop-color="#3b3b3b"/><stop offset="0.5510" stop-color="#484848"/><stop offset="0.5918" stop-color="#565656"/><stop offset="0.6163" stop-color="#606060"/><stop offset="0.6327" stop-color="#696969"/><stop offset="0.6490" stop-color="#777777"/><stop offset="0.6612" stop-color="#868686"/><stop offset="0.6653" stop-color="#858585"/><stop offset="0.6735" stop-color="#7b7b7b"/><stop offset="0.6816" stop-color="#727272"/><stop offset="0.6980" stop-color="#666666"/><stop offset="0.7510" stop-color="#6c6c6c"/><stop offset="0.8000" stop-color="#777777"/><stop offset="0.8490" stop-color="#858585"/><stop offset="0.9102" stop-color="#9c9c9c"/><stop offset="0.9755" stop-color="#bbbbbb"/><stop offset="0.9878" stop-color="#bfbfbf"/><stop offset="1.0000" stop-color="#bfbfbf"/></linearGradient>
<linearGradient id="cf32" x1="0" y1="0" x2="0" y2="1"><stop offset="0.0000" stop-color="#151515"/><stop offset="0.2653" stop-color="#151515"/><stop offset="0.3265" stop-color="#1b1b1b"/><stop offset="0.3878" stop-color="#242424"/><stop offset="0.4408" stop-color="#2d2d2d"/><stop offset="0.4898" stop-color="#383838"/><stop offset="0.5388" stop-color="#464646"/><stop offset="0.5837" stop-color="#565656"/><stop offset="0.6122" stop-color="#626262"/><stop offset="0.6327" stop-color="#6f6f6f"/><stop offset="0.6449" stop-color="#7a7a7a"/><stop offset="0.6531" stop-color="#838383"/><stop offset="0.6612" stop-color="#8f8f8f"/><stop offset="0.6653" stop-color="#8e8e8e"/><stop offset="0.6776" stop-color="#7e7e7e"/><stop offset="0.6939" stop-color="#6e6e6e"/><stop offset="0.7143" stop-color="#626262"/><stop offset="0.7224" stop-color="#636363"/><stop offset="0.7755" stop-color="#6b6b6b"/><stop offset="0.8286" stop-color="#797979"/><stop offset="0.8939" stop-color="#8f8f8f"/><stop offset="0.9714" stop-color="#b1b1b1"/><stop offset="0.9878" stop-color="#b4b4b4"/><stop offset="1.0000" stop-color="#b4b4b4"/></linearGradient>
<linearGradient id="cf33" x1="0" y1="0" x2="0" y2="1"><stop offset="0.0000" stop-color="#161616"/><stop offset="0.2735" stop-color="#161616"/><stop offset="0.3673" stop-color="#212121"/><stop offset="0.4245" stop-color="#2b2b2b"/><stop offset="0.4776" stop-color="#373737"/><stop offset="0.5306" stop-color="#464646"/><stop offset="0.5755" stop-color="#555555"/><stop offset="0.6082" stop-color="#646464"/><stop offset="0.6286" stop-color="#717171"/><stop offset="0.6449" stop-color="#808080"/><stop offset="0.6612" stop-color="#979797"/><stop offset="0.6653" stop-color="#979797"/><stop offset="0.6735" stop-color="#8a8a8a"/><stop offset="0.6816" stop-color="#808080"/><stop offset="0.6939" stop-color="#747474"/><stop offset="0.7143" stop-color="#666666"/><stop offset="0.7306" stop-color="#5f5f5f"/><stop offset="0.7796" stop-color="#676767"/><stop offset="0.8286" stop-color="#737373"/><stop offset="0.8898" stop-color="#878787"/><stop offset="0.9673" stop-color="#a6a6a6"/><stop offset="0.9837" stop-color="#aaaaaa"/><stop offset="1.0000" stop-color="#aaaaaa"/></linearGradient>
<linearGradient id="cf34" x1="0" y1="0" x2="0" y2="1"><stop offset="0.0000" stop-color="#171717"/><stop offset="0.2816" stop-color="#171717"/><stop offset="0.3592" stop-color="#202020"/><stop offset="0.4286" stop-color="#2d2d2d"/><stop offset="0.4735" stop-color="#373737"/><stop offset="0.5184" stop-color="#444444"/><stop offset="0.5592" stop-color="#525252"/><stop offset="0.5918" stop-color="#606060"/><stop offset="0.6163" stop-color="#6d6d6d"/><stop offset="0.6327" stop-color="#7a7a7a"/><stop offset="0.6490" stop-color="#8c8c8c"/><stop offset="0.6612" stop-color="#9f9f9f"/><stop offset="0.6653" stop-color="#9f9f9f"/><stop offset="0.6816" stop-color="#868686"/><stop offset="0.6980" stop-color="#767676"/><stop offset="0.7184" stop-color="#686868"/><stop offset="0.7429" stop-color="#5c5c5c"/><stop offset="0.7918" stop-color="#656565"/><stop offset="0.8449" stop-color="#727272"/><stop offset="0.8898" stop-color="#818181"/><stop offset="0.9633" stop-color="#9d9d9d"/><stop offset="0.9837" stop-color="#a1a1a1"/><stop offset="1.0000" stop-color="#a1a1a1"/></linearGradient>
<linearGradient id="cf35" x1="0" y1="0" x2="0" y2="1"><stop offset="0.0000" stop-color="#181818"/><stop offset="0.2857" stop-color="#181818"/><stop offset="0.3633" stop-color="#222222"/><stop offset="0.4327" stop-color="#2e2e2e"/><stop offset="0.4776" stop-color="#393939"/><stop offset="0.5224" stop-color="#474747"/><stop offset="0.5633" stop-color="#565656"/><stop offset="0.5959" stop-color="#656565"/><stop offset="0.6163" stop-color="#717171"/><stop offset="0.6327" stop-color="#7f7f7f"/><stop offset="0.6490" stop-color="#929292"/><stop offset="0.6612" stop-color="#a7a7a7"/><stop offset="0.6653" stop-color="#a6a6a6"/><stop offset="0.6816" stop-color="#8c8c8c"/><stop offset="0.6898" stop-color="#838383"/><stop offset="0.7020" stop-color="#777777"/><stop offset="0.7265" stop-color="#676767"/><stop offset="0.7551" stop-color="#595959"/><stop offset="0.8000" stop-color="#626262"/><stop offset="0.8449" stop-color="#6d6d6d"/><stop offset="0.9592" stop-color="#949494"/><stop offset="0.9796" stop-color="#989898"/><stop offset="1.0000" stop-color="#989898"/></linearGradient>
<linearGradient id="cf36" x1="0" y1="0" x2="0" y2="1"><stop offset="0.0000" stop-color="#181818"/><stop offset="0.2898" stop-color="#191919"/><stop offset="0.3673" stop-color="#232323"/><stop offset="0.4367" stop-color="#303030"/><stop offset="0.4816" stop-color="#3b3b3b"/><stop offset="0.5265" stop-color="#4a4a4a"/><stop offset="0.5633" stop-color="#585858"/><stop offset="0.5959" stop-color="#686868"/><stop offset="0.6204" stop-color="#787878"/><stop offset="0.6367" stop-color="#888888"/><stop offset="0.6490" stop-color="#989898"/><stop offset="0.6612" stop-color="#aeaeae"/><stop offset="0.6653" stop-color="#adadad"/><stop offset="0.6776" stop-color="#989898"/><stop offset="0.6898" stop-color="#878787"/><stop offset="0.7061" stop-color="#787878"/><stop offset="0.7347" stop-color="#656565"/><stop offset="0.7673" stop-color="#575757"/><stop offset="0.8082" stop-color="#5f5f5f"/><stop offset="0.8490" stop-color="#6a6a6a"/><stop offset="0.9510" stop-color="#8b8b8b"/><stop offset="0.9755" stop-color="#8f8f8f"/><stop offset="1.0000" stop-color="#909090"/></linearGradient>
<linearGradient id="cf37" x1="0" y1="0" x2="0" y2="1"><stop offset="0.0000" stop-color="#191919"/><stop offset="0.2939" stop-color="#191919"/><stop offset="0.3714" stop-color="#242424"/><stop offset="0.4408" stop-color="#323232"/><stop offset="0.4857" stop-color="#3e3e3e"/><stop offset="0.5265" stop-color="#4b4b4b"/><stop offset="0.5633" stop-color="#5a5a5a"/><stop offset="0.5959" stop-color="#6b6b6b"/><stop offset="0.6163" stop-color="#797979"/><stop offset="0.6327" stop-color="#888888"/><stop offset="0.6449" stop-color="#979797"/><stop offset="0.6612" stop-color="#b4b4b4"/><stop offset="0.6653" stop-color="#b4b4b4"/><stop offset="0.6776" stop-color="#9d9d9d"/><stop offset="0.6857" stop-color="#919191"/><stop offset="0.6939" stop-color="#878787"/><stop offset="0.7061" stop-color="#7c7c7c"/><stop offset="0.7347" stop-color="#686868"/><stop offset="0.7755" stop-color="#545454"/><stop offset="0.8082" stop-color="#5b5b5b"/><stop offset="0.8490" stop-color="#656565"/><stop offset="0.9102" stop-color="#797979"/><stop offset="0.9429" stop-color="#828282"/><stop offset="0.9714" stop-color="#878787"/><stop offset="1.0000" stop-color="#898989"/></linearGradient>
<linearGradient id="cf38" x1="0" y1="0" x2="0" y2="1"><stop offset="0.0000" stop-color="#1a1a1a"/><stop offset="0.2980" stop-color="#1a1a1a"/><stop offset="0.3755" stop-color="#252525"/><stop offset="0.4408" stop-color="#333333"/><stop offset="0.4857" stop-color="#3f3f3f"/><stop offset="0.5265" stop-color="#4d4d4d"/><stop offset="0.5633" stop-color="#5c5c5c"/><stop offset="0.5959" stop-color="#6d6d6d"/><stop offset="0.6163" stop-color="#7c7c7c"/><stop offset="0.6327" stop-color="#8c8c8c"/><stop offset="0.6449" stop-color="#9c9c9c"/><stop offset="0.6531" stop-color="#aaaaaa"/><stop offset="0.6612" stop-color="#bababa"/><stop offset="0.6653" stop-color="#bababa"/><stop offset="0.6776" stop-color="#a2a2a2"/><stop offset="0.6857" stop-color="#969696"/><stop offset="0.6939" stop-color="#8b8b8b"/><stop offset="0.7061" stop-color="#7f7f7f"/><stop offset="0.7224" stop-color="#727272"/><stop offset="0.7388" stop-color="#686868"/><stop offset="0.7837" stop-color="#535353"/><stop offset="0.7878" stop-color="#525252"/><stop offset="0.8327" stop-color="#5c5c5c"/><stop offset="0.9020" stop-color="#727272"/><stop offset="0.9388" stop-color="#7b7b7b"/><stop offset="0.9714" stop-color="#818181"/><stop offset="1.0000" stop-color="#828282"/></linearGradient>
<linearGradient id="cf39" x1="0" y1="0" x2="0" y2="1"><stop offset="0.0000" stop-color="#1a1a1a"/><stop offset="0.2980" stop-color="#1a1a1a"/><stop offset="0.3755" stop-color="#262626"/><stop offset="0.4449" stop-color="#343434"/><stop offset="0.4898" stop-color="#414141"/><stop offset="0.5306" stop-color="#4f4f4f"/><stop offset="0.5673" stop-color="#606060"/><stop offset="0.5959" stop-color="#707070"/><stop offset="0.6163" stop-color="#7f7f7f"/><stop offset="0.6327" stop-color="#909090"/><stop offset="0.6449" stop-color="#a0a0a0"/><stop offset="0.6531" stop-color="#afafaf"/><stop offset="0.6612" stop-color="#c0c0c0"/><stop offset="0.6653" stop-color="#bfbfbf"/><stop offset="0.6776" stop-color="#a7a7a7"/><stop offset="0.6898" stop-color="#949494"/><stop offset="0.6980" stop-color="#8a8a8a"/><stop offset="0.7102" stop-color="#7f7f7f"/><stop offset="0.7265" stop-color="#727272"/><stop offset="0.7429" stop-color="#686868"/><stop offset="0.7918" stop-color="#515151"/><stop offset="0.7959" stop-color="#505050"/><stop offset="0.8122" stop-color="#545454"/><stop offset="0.8939" stop-color="#6b6b6b"/><stop offset="0.9347" stop-color="#757575"/><stop offset="0.9673" stop-color="#7a7a7a"/><stop offset="1.0000" stop-color="#7b7b7b"/></linearGradient>
<linearGradient id="cf40" x1="0" y1="0" x2="0" y2="1"><stop offset="0.0000" stop-color="#1b1b1b"/><stop offset="0.3020" stop-color="#1b1b1b"/><stop offset="0.3755" stop-color="#262626"/><stop offset="0.4449" stop-color="#353535"/><stop offset="0.4898" stop-color="#424242"/><stop offset="0.5306" stop-color="#515151"/><stop offset="0.5673" stop-color="#616161"/><stop offset="0.5959" stop-color="#727272"/><stop offset="0.6163" stop-color="#828282"/><stop offset="0.6327" stop-color="#939393"/><stop offset="0.6408" stop-color="#9e9e9e"/><stop offset="0.6490" stop-color="#ababab"/><stop offset="0.6612" stop-color="#c5c5c5"/><stop offset="0.6653" stop-color="#c4c4c4"/><stop offset="0.6776" stop-color="#ababab"/><stop offset="0.6898" stop-color="#979797"/><stop offset="0.7020" stop-color="#898989"/><stop offset="0.7143" stop-color="#7e7e7e"/><stop offset="0.7306" stop-color="#727272"/><stop offset="0.7510" stop-color="#656565"/><stop offset="0.8000" stop-color="#4f4f4f"/><stop offset="0.9306" stop-color="#6f6f6f"/><stop offset="0.9673" stop-color="#747474"/><stop offset="1.0000" stop-color="#757575"/></linearGradient>
<linearGradient id="cf41" x1="0" y1="0" x2="0" y2="1"><stop offset="0.0000" stop-color="#1c1c1c"/><stop offset="0.3061" stop-color="#1c1c1c"/><stop offset="0.3796" stop-color="#272727"/><stop offset="0.4449" stop-color="#353535"/><stop offset="0.4898" stop-color="#434343"/><stop offset="0.5306" stop-color="#525252"/><stop offset="0.5673" stop-color="#636363"/><stop offset="0.5959" stop-color="#747474"/><stop offset="0.6163" stop-color="#848484"/><stop offset="0.6327" stop-color="#969696"/><stop offset="0.6408" stop-color="#a1a1a1"/><stop offset="0.6490" stop-color="#afafaf"/><stop offset="0.6612" stop-color="#c9c9c9"/><stop offset="0.6653" stop-color="#c8c8c8"/><stop offset="0.6776" stop-color="#aeaeae"/><stop offset="0.6898" stop-color="#9b9b9b"/><stop offset="0.7020" stop-color="#8c8c8c"/><stop offset="0.7143" stop-color="#808080"/><stop offset="0.7306" stop-color="#747474"/><stop offset="0.7510" stop-color="#676767"/><stop offset="0.7755" stop-color="#5b5b5b"/><stop offset="0.8041" stop-color="#4e4e4e"/><stop offset="0.8082" stop-color="#4d4d4d"/><stop offset="0.8857" stop-color="#606060"/><stop offset="0.9306" stop-color="#696969"/><stop offset="0.9673" stop-color="#6e6e6e"/><stop offset="1.0000" stop-color="#6f6f6f"/></linearGradient>
<linearGradient id="cf42" x1="0" y1="0" x2="0" y2="1"><stop offset="0.0000" stop-color="#1c1c1c"/><stop offset="0.3061" stop-color="#1c1c1c"/><stop offset="0.3796" stop-color="#272727"/><stop offset="0.4490" stop-color="#373737"/><stop offset="0.4898" stop-color="#434343"/><stop offset="0.5306" stop-color="#535353"/><stop offset="0.5673" stop-color="#646464"/><stop offset="0.5959" stop-color="#767676"/><stop offset="0.6163" stop-color="#868686"/><stop offset="0.6327" stop-color="#989898"/><stop offset="0.6408" stop-color="#a4a4a4"/><stop offset="0.6490" stop-color="#b2b2b2"/><stop offset="0.6612" stop-color="#cdcdcd"/><stop offset="0.6653" stop-color="#cccccc"/><stop offset="0.6776" stop-color="#b1b1b1"/><stop offset="0.6898" stop-color="#9d9d9d"/><stop offset="0.7020" stop-color="#8e8e8e"/><stop offset="0.7143" stop-color="#828282"/><stop offset="0.7347" stop-color="#737373"/><stop offset="0.7551" stop-color="#666666"/><stop offset="0.7837" stop-color="#585858"/><stop offset="0.8122" stop-color="#4c4c4c"/><stop offset="0.9265" stop-color="#646464"/><stop offset="0.9633" stop-color="#686868"/><stop offset="1.0000" stop-color="#6a6a6a"/></linearGradient>
<linearGradient id="cf43" x1="0" y1="0" x2="0" y2="1"><stop offset="0.0000" stop-color="#1c1c1c"/><stop offset="0.3102" stop-color="#1d1d1d"/><stop offset="0.3837" stop-color="#282828"/><stop offset="0.4490" stop-color="#373737"/><stop offset="0.4939" stop-color="#454545"/><stop offset="0.5347" stop-color="#555555"/><stop offset="0.5673" stop-color="#656565"/><stop offset="0.5959" stop-color="#777777"/><stop offset="0.6163" stop-color="#888888"/><stop offset="0.6327" stop-color="#9a9a9a"/><stop offset="0.6408" stop-color="#a6a6a6"/><stop offset="0.6490" stop-color="#b5b5b5"/><stop offset="0.6612" stop-color="#d0d0d0"/><stop offset="0.6653" stop-color="#cfcfcf"/><stop offset="0.6776" stop-color="#b4b4b4"/><stop offset="0.6898" stop-color="#9f9f9f"/><stop offset="0.7020" stop-color="#909090"/><stop offset="0.7184" stop-color="#808080"/><stop offset="0.7388" stop-color="#717171"/><stop offset="0.7592" stop-color="#656565"/><stop offset="0.7878" stop-color="#575757"/><stop offset="0.8163" stop-color="#4b4b4b"/><stop offset="0.9265" stop-color="#5f5f5f"/><stop offset="0.9633" stop-color="#636363"/><stop offset="1.0000" stop-color="#646464"/></linearGradient>
<linearGradient id="cf44" x1="0" y1="0" x2="0" y2="1"><stop offset="0.0000" stop-color="#1d1d1d"/><stop offset="0.3102" stop-color="#1d1d1d"/><stop offset="0.3837" stop-color="#292929"/><stop offset="0.4490" stop-color="#383838"/><stop offset="0.4939" stop-color="#464646"/><stop offset="0.5347" stop-color="#565656"/><stop offset="0.5673" stop-color="#666666"/><stop offset="0.5959" stop-color="#787878"/><stop offset="0.6163" stop-color="#8a8a8a"/><stop offset="0.6327" stop-color="#9c9c9c"/><stop offset="0.6408" stop-color="#a8a8a8"/><stop offset="0.6490" stop-color="#b7b7b7"/><stop offset="0.6612" stop-color="#d3d3d3"/><stop offset="0.6653" stop-color="#d2d2d2"/><stop offset="0.6776" stop-color="#b6b6b6"/><stop offset="0.6898" stop-color="#a1a1a1"/><stop offset="0.7020" stop-color="#929292"/><stop offset="0.7184" stop-color="#828282"/><stop offset="0.7388" stop-color="#727272"/><stop offset="0.7633" stop-color="#646464"/><stop offset="0.7918" stop-color="#565656"/><stop offset="0.8204" stop-color="#4a4a4a"/><stop offset="0.8245" stop-color="#494949"/><stop offset="0.8857" stop-color="#555555"/><stop offset="0.9306" stop-color="#5b5b5b"/><stop offset="0.9673" stop-color="#5f5f5f"/><stop offset="1.0000" stop-color="#5f5f5f"/></linearGradient>
<linearGradient id="cf45" x1="0" y1="0" x2="0" y2="1"><stop offset="0.0000" stop-color="#1d1d1d"/><stop offset="0.3102" stop-color="#1d1d1d"/><stop offset="0.3837" stop-color="#292929"/><stop offset="0.4490" stop-color="#383838"/><stop offset="0.4939" stop-color="#464646"/><stop offset="0.5347" stop-color="#575757"/><stop offset="0.5673" stop-color="#676767"/><stop offset="0.5959" stop-color="#797979"/><stop offset="0.6163" stop-color="#8b8b8b"/><stop offset="0.6327" stop-color="#9e9e9e"/><stop offset="0.6408" stop-color="#aaaaaa"/><stop offset="0.6490" stop-color="#b8b8b8"/><stop offset="0.6612" stop-color="#d5d5d5"/><stop offset="0.6653" stop-color="#d4d4d4"/><stop offset="0.6776" stop-color="#b7b7b7"/><stop offset="0.6898" stop-color="#a3a3a3"/><stop offset="0.7020" stop-color="#939393"/><stop offset="0.7184" stop-color="#838383"/><stop offset="0.7388" stop-color="#737373"/><stop offset="0.7633" stop-color="#646464"/><stop offset="0.7959" stop-color="#555555"/><stop offset="0.8286" stop-color="#484848"/><stop offset="0.9265" stop-color="#565656"/><stop offset="0.9633" stop-color="#5a5a5a"/><stop offset="1.0000" stop-color="#5b5b5b"/></linearGradient>
<linearGradient id="cf46" x1="0" y1="0" x2="0" y2="1"><stop offset="0.0000" stop-color="#1d1d1d"/><stop offset="0.3102" stop-color="#1d1d1d"/><stop offset="0.3837" stop-color="#292929"/><stop offset="0.4490" stop-color="#383838"/><stop offset="0.4939" stop-color="#474747"/><stop offset="0.5347" stop-color="#575757"/><stop offset="0.5673" stop-color="#676767"/><stop offset="0.5959" stop-color="#7a7a7a"/><stop offset="0.6163" stop-color="#8c8c8c"/><stop offset="0.6327" stop-color="#9e9e9e"/><stop offset="0.6408" stop-color="#ababab"/><stop offset="0.6490" stop-color="#b9b9b9"/><stop offset="0.6612" stop-color="#d6d6d6"/><stop offset="0.6653" stop-color="#d5d5d5"/><stop offset="0.6776" stop-color="#b9b9b9"/><stop offset="0.6898" stop-color="#a4a4a4"/><stop offset="0.7020" stop-color="#949494"/><stop offset="0.7184" stop-color="#838383"/><stop offset="0.7388" stop-color="#747474"/><stop offset="0.7633" stop-color="#656565"/><stop offset="0.7918" stop-color="#575757"/><stop offset="0.8204" stop-color="#4b4b4b"/><stop offset="0.8367" stop-color="#464646"/><stop offset="0.9265" stop-color="#525252"/><stop offset="1.0000" stop-color="#565656"/></linearGradient>
<linearGradient id="cf47" x1="0" y1="0" x2="0" y2="1"><stop offset="0.0000" stop-color="#1d1d1d"/><stop offset="0.3143" stop-color="#1e1e1e"/><stop offset="0.3837" stop-color="#292929"/><stop offset="0.4490" stop-color="#383838"/><stop offset="0.4939" stop-color="#474747"/><stop offset="0.5347" stop-color="#575757"/><stop offset="0.5673" stop-color="#686868"/><stop offset="0.5959" stop-color="#7a7a7a"/><stop offset="0.6163" stop-color="#8c8c8c"/><stop offset="0.6327" stop-color="#9f9f9f"/><stop offset="0.6408" stop-color="#ababab"/><stop offset="0.6490" stop-color="#bababa"/><stop offset="0.6612" stop-color="#d7d7d7"/><stop offset="0.6653" stop-color="#d6d6d6"/><stop offset="0.6776" stop-color="#b9b9b9"/><stop offset="0.6898" stop-color="#a4a4a4"/><stop offset="0.7020" stop-color="#949494"/><stop offset="0.7184" stop-color="#848484"/><stop offset="0.7388" stop-color="#747474"/><stop offset="0.7592" stop-color="#686868"/><stop offset="0.7878" stop-color="#595959"/><stop offset="0.8163" stop-color="#4d4d4d"/><stop offset="0.8408" stop-color="#444444"/><stop offset="0.9306" stop-color="#4f4f4f"/><stop offset="1.0000" stop-color="#525252"/></linearGradient>
<linearGradient id="cf48" x1="0" y1="0" x2="0" y2="1"><stop offset="0.0000" stop-color="#1d1d1d"/><stop offset="0.3143" stop-color="#1e1e1e"/><stop offset="0.3837" stop-color="#292929"/><stop offset="0.4490" stop-color="#393939"/><stop offset="0.4939" stop-color="#474747"/><stop offset="0.5347" stop-color="#575757"/><stop offset="0.5673" stop-color="#686868"/><stop offset="0.5959" stop-color="#7a7a7a"/><stop offset="0.6163" stop-color="#8c8c8c"/><stop offset="0.6327" stop-color="#9f9f9f"/><stop offset="0.6408" stop-color="#acacac"/><stop offset="0.6490" stop-color="#bbbbbb"/><stop offset="0.6612" stop-color="#d7d7d7"/><stop offset="0.6653" stop-color="#d6d6d6"/><stop offset="0.6776" stop-color="#bababa"/><stop offset="0.6898" stop-color="#a5a5a5"/><stop offset="0.7020" stop-color="#949494"/><stop offset="0.7184" stop-color="#848484"/><stop offset="0.7388" stop-color="#747474"/><stop offset="0.7592" stop-color="#686868"/><stop offset="0.7837" stop-color="#5b5b5b"/><stop offset="0.8122" stop-color="#4e4e4e"/><stop offset="0.8449" stop-color="#424242"/><stop offset="0.8490" stop-color="#424242"/><stop offset="0.9306" stop-color="#4c4c4c"/><stop offset="1.0000" stop-color="#4e4e4e"/></linearGradient>
<linearGradient id="cf49" x1="0" y1="0" x2="0" y2="1"><stop offset="0.0000" stop-color="#121212"/><stop offset="0.2245" stop-color="#121212"/><stop offset="0.3469" stop-color="#1e1e1e"/><stop offset="0.4041" stop-color="#262626"/><stop offset="0.4531" stop-color="#2e2e2e"/><stop offset="0.5102" stop-color="#3c3c3c"/><stop offset="0.5633" stop-color="#4c4c4c"/><stop offset="0.6122" stop-color="#5e5e5e"/><stop offset="0.6612" stop-color="#757575"/><stop offset="0.7020" stop-color="#777777"/><stop offset="0.7429" stop-color="#7b7b7b"/><stop offset="0.7837" stop-color="#838383"/><stop offset="0.8245" stop-color="#8f8f8f"/><stop offset="0.8653" stop-color="#9d9d9d"/><stop offset="0.9061" stop-color="#aeaeae"/><stop offset="0.9469" stop-color="#c3c3c3"/><stop offset="0.9918" stop-color="#dedede"/><stop offset="0.9959" stop-color="#dddddd"/><stop offset="1.0000" stop-color="#dadada"/></linearGradient>
<linearGradient id="mp_f" x1="0" y1="0" x2="0" y2="1"><stop offset="0.0000" stop-color="#090909"/><stop offset="1.0000" stop-color="#090909"/></linearGradient>
<clipPath id="clip_g"><rect x="1263.2" y="3074.2" width="871.2" height="653.5"/></clipPath>
<linearGradient id="cg0" x1="0" y1="0" x2="0" y2="1"><stop offset="0.0000" stop-color="#262626"/><stop offset="0.0569" stop-color="#232323"/><stop offset="0.1748" stop-color="#080808"/><stop offset="0.2317" stop-color="#040404"/><stop offset="0.2927" stop-color="#0c0c0c"/><stop offset="0.3415" stop-color="#1f1f1f"/><stop offset="0.4106" stop-color="#303030"/><stop offset="0.4756" stop-color="#2c2c2c"/><stop offset="0.5528" stop-color="#1b1b1b"/><stop offset="0.6057" stop-color="#181818"/><stop offset="0.6341" stop-color="#191919"/><stop offset="0.6626" stop-color="#1e1e1e"/><stop offset="0.6748" stop-color="#242424"/><stop offset="0.6870" stop-color="#2c2c2c"/><stop offset="0.7114" stop-color="#363636"/><stop offset="0.7724" stop-color="#494949"/><stop offset="0.8618" stop-color="#535353"/><stop offset="1.0000" stop-color="#4a4a4a"/></linearGradient>
<linearGradient id="cg1" x1="0" y1="0" x2="0" y2="1"><stop offset="0.0000" stop-color="#262626"/><stop offset="0.0569" stop-color="#232323"/><stop offset="0.1748" stop-color="#080808"/><stop offset="0.2317" stop-color="#040404"/><stop offset="0.2927" stop-color="#0d0d0d"/><stop offset="0.3415" stop-color="#1f1f1f"/><stop offset="0.4106" stop-color="#303030"/><stop offset="0.4756" stop-color="#2c2c2c"/><stop offset="0.5528" stop-color="#1b1b1b"/><stop offset="0.6057" stop-color="#181818"/><stop offset="0.6341" stop-color="#191919"/><stop offset="0.6626" stop-color="#1e1e1e"/><stop offset="0.6748" stop-color="#242424"/><stop offset="0.6870" stop-color="#2c2c2c"/><stop offset="0.7114" stop-color="#363636"/><stop offset="0.7724" stop-color="#494949"/><stop offset="0.8618" stop-color="#545454"/><stop offset="1.0000" stop-color="#4a4a4a"/></linearGradient>
<linearGradient id="cg2" x1="0" y1="0" x2="0" y2="1"><stop offset="0.0000" stop-color="#262626"/><stop offset="0.0569" stop-color="#232323"/><stop offset="0.1748" stop-color="#080808"/><stop offset="0.2317" stop-color="#040404"/><stop offset="0.2927" stop-color="#0d0d0d"/><stop offset="0.3415" stop-color="#1f1f1f"/><stop offset="0.4106" stop-color="#303030"/><stop offset="0.4756" stop-color="#2c2c2c"/><stop offset="0.5528" stop-color="#1b1b1b"/><stop offset="0.6057" stop-color="#191919"/><stop offset="0.6341" stop-color="#191919"/><stop offset="0.6626" stop-color="#1e1e1e"/><stop offset="0.6748" stop-color="#242424"/><stop offset="0.6870" stop-color="#2c2c2c"/><stop offset="0.7114" stop-color="#363636"/><stop offset="0.7724" stop-color="#494949"/><stop offset="0.8618" stop-color="#545454"/><stop offset="1.0000" stop-color="#4a4a4a"/></linearGradient>
<linearGradient id="cg3" x1="0" y1="0" x2="0" y2="1"><stop offset="0.0000" stop-color="#262626"/><stop offset="0.0569" stop-color="#232323"/><stop offset="0.1748" stop-color="#080808"/><stop offset="0.2317" stop-color="#040404"/><stop offset="0.2927" stop-color="#0d0d0d"/><stop offset="0.3415" stop-color="#1f1f1f"/><stop offset="0.4106" stop-color="#303030"/><stop offset="0.4756" stop-color="#2c2c2c"/><stop offset="0.5528" stop-color="#1b1b1b"/><stop offset="0.6057" stop-color="#191919"/><stop offset="0.6341" stop-color="#191919"/><stop offset="0.6626" stop-color="#1e1e1e"/><stop offset="0.6748" stop-color="#242424"/><stop offset="0.6870" stop-color="#2c2c2c"/><stop offset="0.7114" stop-color="#363636"/><stop offset="0.7724" stop-color="#494949"/><stop offset="0.8618" stop-color="#545454"/><stop offset="1.0000" stop-color="#4a4a4a"/></linearGradient>
<linearGradient id="cg4" x1="0" y1="0" x2="0" y2="1"><stop offset="0.0000" stop-color="#262626"/><stop offset="0.0569" stop-color="#232323"/><stop offset="0.1748" stop-color="#090909"/><stop offset="0.2317" stop-color="#050505"/><stop offset="0.2927" stop-color="#0d0d0d"/><stop offset="0.3415" stop-color="#1f1f1f"/><stop offset="0.4106" stop-color="#313131"/><stop offset="0.4756" stop-color="#2d2d2d"/><stop offset="0.5528" stop-color="#1b1b1b"/><stop offset="0.6057" stop-color="#191919"/><stop offset="0.6341" stop-color="#1a1a1a"/><stop offset="0.6626" stop-color="#1e1e1e"/><stop offset="0.6748" stop-color="#242424"/><stop offset="0.6870" stop-color="#2c2c2c"/><stop offset="0.7114" stop-color="#363636"/><stop offset="0.7724" stop-color="#494949"/><stop offset="0.8252" stop-color="#505050"/><stop offset="0.8618" stop-color="#555555"/><stop offset="1.0000" stop-color="#4a4a4a"/></linearGradient>
<linearGradient id="cg5" x1="0" y1="0" x2="0" y2="1"><stop offset="0.0000" stop-color="#262626"/><stop offset="0.0569" stop-color="#232323"/><stop offset="0.1748" stop-color="#090909"/><stop offset="0.2317" stop-color="#050505"/><stop offset="0.2927" stop-color="#0d0d0d"/><stop offset="0.3415" stop-color="#1f1f1f"/><stop offset="0.4106" stop-color="#313131"/><stop offset="0.4756" stop-color="#2d2d2d"/><stop offset="0.5528" stop-color="#1c1c1c"/><stop offset="0.6057" stop-color="#191919"/><stop offset="0.6341" stop-color="#1a1a1a"/><stop offset="0.6626" stop-color="#1e1e1e"/><stop offset="0.6748" stop-color="#242424"/><stop offset="0.6870" stop-color="#2c2c2c"/><stop offset="0.7114" stop-color="#363636"/><stop offset="0.7724" stop-color="#4a4a4a"/><stop offset="0.8374" stop-color="#535353"/><stop offset="0.8618" stop-color="#565656"/><stop offset="1.0000" stop-color="#4a4a4a"/></linearGradient>
<linearGradient id="cg6" x1="0" y1="0" x2="0" y2="1"><stop offset="0.0000" stop-color="#262626"/><stop offset="0.0569" stop-color="#232323"/><stop offset="0.1748" stop-color="#090909"/><stop offset="0.2317" stop-color="#050505"/><stop offset="0.2927" stop-color="#0d0d0d"/><stop offset="0.3415" stop-color="#1f1f1f"/><stop offset="0.4106" stop-color="#313131"/><stop offset="0.4756" stop-color="#2d2d2d"/><stop offset="0.5528" stop-color="#1c1c1c"/><stop offset="0.6057" stop-color="#1a1a1a"/><stop offset="0.6341" stop-color="#1a1a1a"/><stop offset="0.6626" stop-color="#1e1e1e"/><stop offset="0.6748" stop-color="#242424"/><stop offset="0.6870" stop-color="#2c2c2c"/><stop offset="0.7114" stop-color="#363636"/><stop offset="0.7724" stop-color="#4a4a4a"/><stop offset="0.8455" stop-color="#555555"/><stop offset="0.8618" stop-color="#565656"/><stop offset="1.0000" stop-color="#4a4a4a"/></linearGradient>
<linearGradient id="cg7" x1="0" y1="0" x2="0" y2="1"><stop offset="0.0000" stop-color="#262626"/><stop offset="0.0569" stop-color="#232323"/><stop offset="0.1748" stop-color="#090909"/><stop offset="0.2317" stop-color="#060606"/><stop offset="0.2927" stop-color="#0e0e0e"/><stop offset="0.3415" stop-color="#1f1f1f"/><stop offset="0.4106" stop-color="#313131"/><stop offset="0.4756" stop-color="#2d2d2d"/><stop offset="0.5528" stop-color="#1c1c1c"/><stop offset="0.6057" stop-color="#1a1a1a"/><stop offset="0.6341" stop-color="#1b1b1b"/><stop offset="0.6626" stop-color="#1f1f1f"/><stop offset="0.6748" stop-color="#242424"/><stop offset="0.6870" stop-color="#2c2c2c"/><stop offset="0.7114" stop-color="#363636"/><stop offset="0.7724" stop-color="#4a4a4a"/><stop offset="0.8496" stop-color="#565656"/><stop offset="0.8699" stop-color="#575757"/><stop offset="1.0000" stop-color="#4a4a4a"/></linearGradient>
<linearGradient id="cg8" x1="0" y1="0" x2="0" y2="1"><stop offset="0.0000" stop-color="#262626"/><stop offset="0.0569" stop-color="#232323"/><stop offset="0.1748" stop-color="#0a0a0a"/><stop offset="0.2317" stop-color="#060606"/><stop offset="0.2927" stop-color="#0e0e0e"/><stop offset="0.3415" stop-color="#202020"/><stop offset="0.4106" stop-color="#313131"/><stop offset="0.4756" stop-color="#2d2d2d"/><stop offset="0.5528" stop-color="#1d1d1d"/><stop offset="0.6057" stop-color="#1b1b1b"/><stop offset="0.6341" stop-color="#1b1b1b"/><stop offset="0.6626" stop-color="#1f1f1f"/><stop offset="0.6748" stop-color="#242424"/><stop offset="0.6870" stop-color="#2c2c2c"/><stop offset="0.7114" stop-color="#363636"/><stop offset="0.7724" stop-color="#4b4b4b"/><stop offset="0.8537" stop-color="#585858"/><stop offset="0.8740" stop-color="#585858"/><stop offset="0.9553" stop-color="#4e4e4e"/><stop offset="1.0000" stop-color="#4a4a4a"/></linearGradient>
<linearGradient id="cg9" x1="0" y1="0" x2="0" y2="1"><stop offset="0.0000" stop-color="#262626"/><stop offset="0.0569" stop-color="#232323"/><stop offset="0.1748" stop-color="#0a0a0a"/><stop offset="0.2317" stop-color="#060606"/><stop offset="0.2927" stop-color="#0e0e0e"/><stop offset="0.3415" stop-color="#202020"/><stop offset="0.4106" stop-color="#313131"/><stop offset="0.4756" stop-color="#2e2e2e"/><stop offset="0.5528" stop-color="#1d1d1d"/><stop offset="0.6098" stop-color="#1b1b1b"/><stop offset="0.6382" stop-color="#1c1c1c"/><stop offset="0.6626" stop-color="#1f1f1f"/><stop offset="0.6748" stop-color="#242424"/><stop offset="0.6870" stop-color="#2c2c2c"/><stop offset="0.7114" stop-color="#363636"/><stop offset="0.7724" stop-color="#4b4b4b"/><stop offset="0.8618" stop-color="#5a5a5a"/><stop offset="0.9553" stop-color="#4e4e4e"/><stop offset="1.0000" stop-color="#4a4a4a"/></linearGradient>
<linearGradient id="cg10" x1="0" y1="0" x2="0" y2="1"><stop offset="0.0000" stop-color="#262626"/><stop offset="0.0569" stop-color="#232323"/><stop offset="0.1748" stop-color="#0b0b0b"/><stop offset="0.2317" stop-color="#070707"/><stop offset="0.2927" stop-color="#0f0f0f"/><stop offset="0.3415" stop-color="#202020"/><stop offset="0.4106" stop-color="#323232"/><stop offset="0.4756" stop-color="#2e2e2e"/><stop offset="0.5528" stop-color="#1e1e1e"/><stop offset="0.6098" stop-color="#1c1c1c"/><stop offset="0.6382" stop-color="#1d1d1d"/><stop offset="0.6626" stop-color="#1f1f1f"/><stop offset="0.7114" stop-color="#363636"/><stop offset="0.7724" stop-color="#4b4b4b"/><stop offset="0.8333" stop-color="#585858"/><stop offset="0.8618" stop-color="#5c5c5c"/><stop offset="0.9553" stop-color="#4f4f4f"/><stop offset="1.0000" stop-color="#4a4a4a"/></linearGradient>
<linearGradient id="cg11" x1="0" y1="0" x2="0" y2="1"><stop offset="0.0000" stop-color="#262626"/><stop offset="0.0610" stop-color="#222222"/><stop offset="0.1748" stop-color="#0b0b0b"/><stop offset="0.2358" stop-color="#080808"/><stop offset="0.2927" stop-color="#0f0f0f"/><stop offset="0.3415" stop-color="#202020"/><stop offset="0.4106" stop-color="#323232"/><stop offset="0.4756" stop-color="#2f2f2f"/><stop offset="0.5528" stop-color="#1f1f1f"/><stop offset="0.6098" stop-color="#1d1d1d"/><stop offset="0.6626" stop-color="#202020"/><stop offset="0.7114" stop-color="#363636"/><stop offset="0.7724" stop-color="#4c4c4c"/><stop offset="0.8333" stop-color="#595959"/><stop offset="0.8618" stop-color="#5e5e5e"/><stop offset="0.8902" stop-color="#5a5a5a"/><stop offset="0.9553" stop-color="#4f4f4f"/><stop offset="1.0000" stop-color="#4a4a4a"/></linearGradient>
<linearGradient id="cg12" x1="0" y1="0" x2="0" y2="1"><stop offset="0.0000" stop-color="#262626"/><stop offset="0.0610" stop-color="#222222"/><stop offset="0.1748" stop-color="#0c0c0c"/><stop offset="0.2358" stop-color="#080808"/><stop offset="0.2967" stop-color="#111111"/><stop offset="0.3415" stop-color="#202020"/><stop offset="0.4106" stop-color="#323232"/><stop offset="0.4756" stop-color="#2f2f2f"/><stop offset="0.5528" stop-color="#1f1f1f"/><stop offset="0.6098" stop-color="#1e1e1e"/><stop offset="0.6626" stop-color="#202020"/><stop offset="0.7114" stop-color="#363636"/><stop offset="0.7724" stop-color="#4c4c4c"/><stop offset="0.8333" stop-color="#5b5b5b"/><stop offset="0.8618" stop-color="#5f5f5f"/><stop offset="0.8902" stop-color="#5c5c5c"/><stop offset="0.9553" stop-color="#4f4f4f"/><stop offset="1.0000" stop-color="#4a4a4a"/></linearGradient>
<linearGradient id="cg13" x1="0" y1="0" x2="0" y2="1"><stop offset="0.0000" stop-color="#262626"/><stop offset="0.0610" stop-color="#222222"/><stop offset="0.1748" stop-color="#0d0d0d"/><stop offset="0.2358" stop-color="#090909"/><stop offset="0.2967" stop-color="#111111"/><stop offset="0.3415" stop-color="#202020"/><stop offset="0.4106" stop-color="#333333"/><stop offset="0.4756" stop-color="#2f2f2f"/><stop offset="0.5528" stop-color="#202020"/><stop offset="0.6098" stop-color="#1e1e1e"/><stop offset="0.6626" stop-color="#212121"/><stop offset="0.7114" stop-color="#363636"/><stop offset="0.7724" stop-color="#4d4d4d"/><stop offset="0.8333" stop-color="#5c5c5c"/><stop offset="0.8618" stop-color="#616161"/><stop offset="0.8902" stop-color="#5d5d5d"/><stop offset="0.9553" stop-color="#505050"/><stop offset="1.0000" stop-color="#4b4b4b"/></linearGradient>
<linearGradient id="cg14" x1="0" y1="0" x2="0" y2="1"><stop offset="0.0000" stop-color="#262626"/><stop offset="0.0610" stop-color="#232323"/><stop offset="0.1748" stop-color="#0d0d0d"/><stop offset="0.2358" stop-color="#0a0a0a"/><stop offset="0.2967" stop-color="#121212"/><stop offset="0.3415" stop-color="#202020"/><stop offset="0.4106" stop-color="#333333"/><stop offset="0.4756" stop-color="#303030"/><stop offset="0.5528" stop-color="#212121"/><stop offset="0.6057" stop-color="#1f1f1f"/><stop offset="0.6626" stop-color="#212121"/><stop offset="0.6748" stop-color="#252525"/><stop offset="0.7114" stop-color="#363636"/><stop offset="0.7724" stop-color="#4d4d4d"/><stop offset="0.8333" stop-color="#5e5e5e"/><stop offset="0.8618" stop-color="#626262"/><stop offset="0.8902" stop-color="#5e5e5e"/><stop offset="0.9553" stop-color="#505050"/><stop offset="1.0000" stop-color="#4b4b4b"/></linearGradient>
<linearGradient id="cg15" x1="0" y1="0" x2="0" y2="1"><stop offset="0.0000" stop-color="#262626"/><stop offset="0.0610" stop-color="#232323"/><stop offset="0.1748" stop-color="#0e0e0e"/><stop offset="0.2358" stop-color="#0b0b0b"/><stop offset="0.2967" stop-color="#121212"/><stop offset="0.3415" stop-color="#202020"/><stop offset="0.4106" stop-color="#333333"/><stop offset="0.4756" stop-color="#303030"/><stop offset="0.5528" stop-color="#222222"/><stop offset="0.6057" stop-color="#212121"/><stop offset="0.6626" stop-color="#222222"/><stop offset="0.6748" stop-color="#262626"/><stop offset="0.7114" stop-color="#363636"/><stop offset="0.7724" stop-color="#4e4e4e"/><stop offset="0.8333" stop-color="#5f5f5f"/><stop offset="0.8618" stop-color="#646464"/><stop offset="0.8902" stop-color="#606060"/><stop offset="0.9553" stop-color="#515151"/><stop offset="1.0000" stop-color="#4b4b4b"/></linearGradient>
<linearGradient id="cg16" x1="0" y1="0" x2="0" y2="1"><stop offset="0.0000" stop-color="#262626"/><stop offset="0.0610" stop-color="#232323"/><stop offset="0.1748" stop-color="#0f0f0f"/><stop offset="0.2358" stop-color="#0b0b0b"/><stop offset="0.2967" stop-color="#131313"/><stop offset="0.4106" stop-color="#343434"/><stop offset="0.4756" stop-color="#313131"/><stop offset="0.5528" stop-color="#232323"/><stop offset="0.6626" stop-color="#222222"/><stop offset="0.6748" stop-color="#262626"/><stop offset="0.7114" stop-color="#363636"/><stop offset="0.7724" stop-color="#4e4e4e"/><stop offset="0.8333" stop-color="#606060"/><stop offset="0.8618" stop-color="#656565"/><stop offset="0.8902" stop-color="#606060"/><stop offset="0.9553" stop-color="#515151"/><stop offset="1.0000" stop-color="#4b4b4b"/></linearGradient>
<linearGradient id="cg17" x1="0" y1="0" x2="0" y2="1"><stop offset="0.0000" stop-color="#262626"/><stop offset="0.0610" stop-color="#232323"/><stop offset="0.1748" stop-color="#0f0f0f"/><stop offset="0.2358" stop-color="#0c0c0c"/><stop offset="0.2967" stop-color="#131313"/><stop offset="0.4106" stop-color="#343434"/><stop offset="0.4756" stop-color="#313131"/><stop offset="0.5528" stop-color="#242424"/><stop offset="0.6382" stop-color="#252525"/><stop offset="0.6626" stop-color="#232323"/><stop offset="0.6789" stop-color="#282828"/><stop offset="0.7724" stop-color="#4e4e4e"/><stop offset="0.8333" stop-color="#606060"/><stop offset="0.8618" stop-color="#656565"/><stop offset="0.8902" stop-color="#616161"/><stop offset="0.9553" stop-color="#515151"/><stop offset="1.0000" stop-color="#4b4b4b"/></linearGradient>
<linearGradient id="cg18" x1="0" y1="0" x2="0" y2="1"><stop offset="0.0000" stop-color="#262626"/><stop offset="0.0610" stop-color="#232323"/><stop offset="0.1748" stop-color="#101010"/><stop offset="0.2358" stop-color="#0d0d0d"/><stop offset="0.2967" stop-color="#141414"/><stop offset="0.4106" stop-color="#343434"/><stop offset="0.4715" stop-color="#323232"/><stop offset="0.5528" stop-color="#262626"/><stop offset="0.6382" stop-color="#272727"/><stop offset="0.6667" stop-color="#252525"/><stop offset="0.6789" stop-color="#282828"/><stop offset="0.7724" stop-color="#4e4e4e"/><stop offset="0.8333" stop-color="#606060"/><stop offset="0.8618" stop-color="#666666"/><stop offset="0.8902" stop-color="#616161"/><stop offset="0.9593" stop-color="#505050"/><stop offset="1.0000" stop-color="#4a4a4a"/></linearGradient>
<linearGradient id="cg19" x1="0" y1="0" x2="0" y2="1"><stop offset="0.0000" stop-color="#262626"/><stop offset="0.0610" stop-color="#232323"/><stop offset="0.1748" stop-color="#111111"/><stop offset="0.2358" stop-color="#0e0e0e"/><stop offset="0.2967" stop-color="#141414"/><stop offset="0.4106" stop-color="#353535"/><stop offset="0.4715" stop-color="#333333"/><stop offset="0.5528" stop-color="#272727"/><stop offset="0.6382" stop-color="#2a2a2a"/><stop offset="0.6626" stop-color="#262626"/><stop offset="0.6707" stop-color="#272727"/><stop offset="0.6829" stop-color="#2a2a2a"/><stop offset="0.7724" stop-color="#4e4e4e"/><stop offset="0.8333" stop-color="#606060"/><stop offset="0.8618" stop-color="#656565"/><stop offset="0.8902" stop-color="#616161"/><stop offset="0.9593" stop-color="#505050"/><stop offset="1.0000" stop-color="#4a4a4a"/></linearGradient>
<linearGradient id="cg20" x1="0" y1="0" x2="0" y2="1"><stop offset="0.0000" stop-color="#262626"/><stop offset="0.0610" stop-color="#232323"/><stop offset="0.1748" stop-color="#121212"/><stop offset="0.2358" stop-color="#0f0f0f"/><stop offset="0.2967" stop-color="#151515"/><stop offset="0.4106" stop-color="#353535"/><stop offset="0.4715" stop-color="#343434"/><stop offset="0.5488" stop-color="#292929"/><stop offset="0.6382" stop-color="#2d2d2d"/><stop offset="0.6626" stop-color="#272727"/><stop offset="0.6748" stop-color="#282828"/><stop offset="0.6870" stop-color="#2c2c2c"/><stop offset="0.7724" stop-color="#4e4e4e"/><stop offset="0.8333" stop-color="#5f5f5f"/><stop offset="0.8618" stop-color="#646464"/><stop offset="0.8902" stop-color="#606060"/><stop offset="0.9553" stop-color="#505050"/><stop offset="1.0000" stop-color="#4a4a4a"/></linearGradient>
<linearGradient id="cg21" x1="0" y1="0" x2="0" y2="1"><stop offset="0.0000" stop-color="#262626"/><stop offset="0.0610" stop-color="#232323"/><stop offset="0.1748" stop-color="#121212"/><stop offset="0.2358" stop-color="#101010"/><stop offset="0.2967" stop-color="#161616"/><stop offset="0.4106" stop-color="#363636"/><stop offset="0.4715" stop-color="#343434"/><stop offset="0.5488" stop-color="#2b2b2b"/><stop offset="0.6382" stop-color="#313131"/><stop offset="0.6626" stop-color="#292929"/><stop offset="0.6789" stop-color="#292929"/><stop offset="0.7439" stop-color="#414141"/><stop offset="0.7724" stop-color="#4d4d4d"/><stop offset="0.8333" stop-color="#5e5e5e"/><stop offset="0.8618" stop-color="#636363"/><stop offset="0.8902" stop-color="#5f5f5f"/><stop offset="0.9553" stop-color="#505050"/><stop offset="1.0000" stop-color="#4a4a4a"/></linearGradient>
<linearGradient id="cg22" x1="0" y1="0" x2="0" y2="1"><stop offset="0.0000" stop-color="#262626"/><stop offset="0.0610" stop-color="#232323"/><stop offset="0.1748" stop-color="#131313"/><stop offset="0.2358" stop-color="#101010"/><stop offset="0.2967" stop-color="#161616"/><stop offset="0.3415" stop-color="#212121"/><stop offset="0.4106" stop-color="#363636"/><stop offset="0.4715" stop-color="#353535"/><stop offset="0.5488" stop-color="#2d2d2d"/><stop offset="0.6382" stop-color="#353535"/><stop offset="0.6626" stop-color="#2b2b2b"/><stop offset="0.6829" stop-color="#2a2a2a"/><stop offset="0.7724" stop-color="#4c4c4c"/><stop offset="0.8333" stop-color="#5d5d5d"/><stop offset="0.8618" stop-color="#626262"/><stop offset="0.8902" stop-color="#5e5e5e"/><stop offset="0.9553" stop-color="#4f4f4f"/><stop offset="1.0000" stop-color="#494949"/></linearGradient>
<linearGradient id="cg23" x1="0" y1="0" x2="0" y2="1"><stop offset="0.0000" stop-color="#262626"/><stop offset="0.0610" stop-color="#232323"/><stop offset="0.1748" stop-color="#141414"/><stop offset="0.2358" stop-color="#111111"/><stop offset="0.2967" stop-color="#171717"/><stop offset="0.3415" stop-color="#222222"/><stop offset="0.4106" stop-color="#363636"/><stop offset="0.4715" stop-color="#353535"/><stop offset="0.5163" stop-color="#303030"/><stop offset="0.5488" stop-color="#2f2f2f"/><stop offset="0.6382" stop-color="#3a3a3a"/><stop offset="0.6626" stop-color="#2d2d2d"/><stop offset="0.6829" stop-color="#2b2b2b"/><stop offset="0.7439" stop-color="#404040"/><stop offset="0.7724" stop-color="#4b4b4b"/><stop offset="0.8333" stop-color="#5b5b5b"/><stop offset="0.8618" stop-color="#606060"/><stop offset="0.8902" stop-color="#5c5c5c"/><stop offset="0.9553" stop-color="#4e4e4e"/><stop offset="1.0000" stop-color="#494949"/></linearGradient>
<linearGradient id="cg24" x1="0" y1="0" x2="0" y2="1"><stop offset="0.0000" stop-color="#262626"/><stop offset="0.0610" stop-color="#232323"/><stop offset="0.1748" stop-color="#151515"/><stop offset="0.2358" stop-color="#121212"/><stop offset="0.2967" stop-color="#181818"/><stop offset="0.3415" stop-color="#222222"/><stop offset="0.4106" stop-color="#373737"/><stop offset="0.4715" stop-color="#363636"/><stop offset="0.5163" stop-color="#323232"/><stop offset="0.5488" stop-color="#313131"/><stop offset="0.6179" stop-color="#3d3d3d"/><stop offset="0.6382" stop-color="#3f3f3f"/><stop offset="0.6667" stop-color="#2e2e2e"/><stop offset="0.6789" stop-color="#2b2b2b"/><stop offset="0.6870" stop-color="#2b2b2b"/><stop offset="0.7724" stop-color="#4a4a4a"/><stop offset="0.8333" stop-color="#595959"/><stop offset="0.8618" stop-color="#5d5d5d"/><stop offset="0.8902" stop-color="#5a5a5a"/><stop offset="0.9553" stop-color="#4d4d4d"/><stop offset="1.0000" stop-color="#484848"/></linearGradient>
<linearGradient id="cg25" x1="0" y1="0" x2="0" y2="1"><stop offset="0.0000" stop-color="#262626"/><stop offset="0.0610" stop-color="#242424"/><stop offset="0.1748" stop-color="#161616"/><stop offset="0.2358" stop-color="#131313"/><stop offset="0.2967" stop-color="#181818"/><stop offset="0.3415" stop-color="#222222"/><stop offset="0.4106" stop-color="#373737"/><stop offset="0.4715" stop-color="#373737"/><stop offset="0.5163" stop-color="#333333"/><stop offset="0.5488" stop-color="#333333"/><stop offset="0.6341" stop-color="#434343"/><stop offset="0.6382" stop-color="#434343"/><stop offset="0.6667" stop-color="#303030"/><stop offset="0.6789" stop-color="#2b2b2b"/><stop offset="0.6870" stop-color="#2b2b2b"/><stop offset="0.7724" stop-color="#494949"/><stop offset="0.8333" stop-color="#565656"/><stop offset="0.8618" stop-color="#5b5b5b"/><stop offset="0.8902" stop-color="#575757"/><stop offset="0.9553" stop-color="#4c4c4c"/><stop offset="1.0000" stop-color="#474747"/></linearGradient>
<linearGradient id="cg26" x1="0" y1="0" x2="0" y2="1"><stop offset="0.0000" stop-color="#262626"/><stop offset="0.0610" stop-color="#242424"/><stop offset="0.1789" stop-color="#161616"/><stop offset="0.2358" stop-color="#141414"/><stop offset="0.2927" stop-color="#181818"/><stop offset="0.3374" stop-color="#212121"/><stop offset="0.4106" stop-color="#383838"/><stop offset="0.4715" stop-color="#373737"/><stop offset="0.5203" stop-color="#343434"/><stop offset="0.5488" stop-color="#343434"/><stop offset="0.6138" stop-color="#444444"/><stop offset="0.6341" stop-color="#474747"/><stop offset="0.6382" stop-color="#474747"/><stop offset="0.6667" stop-color="#313131"/><stop offset="0.6789" stop-color="#2c2c2c"/><stop offset="0.6870" stop-color="#2a2a2a"/><stop offset="0.7724" stop-color="#474747"/><stop offset="0.8333" stop-color="#545454"/><stop offset="0.8618" stop-color="#585858"/><stop offset="0.9553" stop-color="#4a4a4a"/><stop offset="1.0000" stop-color="#464646"/></linearGradient>
<linearGradient id="cg27" x1="0" y1="0" x2="0" y2="1"><stop offset="0.0000" stop-color="#262626"/><stop offset="0.0610" stop-color="#242424"/><stop offset="0.1789" stop-color="#171717"/><stop offset="0.2358" stop-color="#151515"/><stop offset="0.2927" stop-color="#191919"/><stop offset="0.3374" stop-color="#212121"/><stop offset="0.4106" stop-color="#383838"/><stop offset="0.4715" stop-color="#383838"/><stop offset="0.5163" stop-color="#353535"/><stop offset="0.5447" stop-color="#363636"/><stop offset="0.5610" stop-color="#383838"/><stop offset="0.6138" stop-color="#464646"/><stop offset="0.6341" stop-color="#4a4a4a"/><stop offset="0.6382" stop-color="#4a4a4a"/><stop offset="0.6667" stop-color="#323232"/><stop offset="0.6789" stop-color="#2c2c2c"/><stop offset="0.6870" stop-color="#2a2a2a"/><stop offset="0.7114" stop-color="#323232"/><stop offset="0.7439" stop-color="#3b3b3b"/><stop offset="0.7724" stop-color="#454545"/><stop offset="0.8618" stop-color="#545454"/><stop offset="0.9553" stop-color="#484848"/><stop offset="1.0000" stop-color="#444444"/></linearGradient>
<linearGradient id="cg28" x1="0" y1="0" x2="0" y2="1"><stop offset="0.0000" stop-color="#262626"/><stop offset="0.0610" stop-color="#242424"/><stop offset="0.1789" stop-color="#181818"/><stop offset="0.2358" stop-color="#161616"/><stop offset="0.2927" stop-color="#1a1a1a"/><stop offset="0.3374" stop-color="#212121"/><stop offset="0.4106" stop-color="#393939"/><stop offset="0.4715" stop-color="#383838"/><stop offset="0.5163" stop-color="#363636"/><stop offset="0.5447" stop-color="#373737"/><stop offset="0.5610" stop-color="#3a3a3a"/><stop offset="0.6138" stop-color="#484848"/><stop offset="0.6341" stop-color="#4c4c4c"/><stop offset="0.6382" stop-color="#4c4c4c"/><stop offset="0.6626" stop-color="#363636"/><stop offset="0.6707" stop-color="#303030"/><stop offset="0.6870" stop-color="#292929"/><stop offset="0.7114" stop-color="#313131"/><stop offset="0.7439" stop-color="#383838"/><stop offset="0.7724" stop-color="#424242"/><stop offset="0.8618" stop-color="#515151"/><stop offset="0.9553" stop-color="#464646"/><stop offset="1.0000" stop-color="#424242"/></linearGradient>
<linearGradient id="cg29" x1="0" y1="0" x2="0" y2="1"><stop offset="0.0000" stop-color="#262626"/><stop offset="0.0610" stop-color="#242424"/><stop offset="0.1789" stop-color="#191919"/><stop offset="0.2358" stop-color="#171717"/><stop offset="0.2927" stop-color="#1a1a1a"/><stop offset="0.3374" stop-color="#222222"/><stop offset="0.4106" stop-color="#393939"/><stop offset="0.4715" stop-color="#393939"/><stop offset="0.5163" stop-color="#363636"/><stop offset="0.5447" stop-color="#383838"/><stop offset="0.5610" stop-color="#3a3a3a"/><stop offset="0.6179" stop-color="#4a4a4a"/><stop offset="0.6463" stop-color="#4d4d4d"/><stop offset="0.6748" stop-color="#4a4a4a"/><stop offset="0.7439" stop-color="#373737"/><stop offset="0.7846" stop-color="#313131"/><stop offset="0.8374" stop-color="#2f2f2f"/><stop offset="1.0000" stop-color="#2f2f2f"/></linearGradient>
<linearGradient id="cg30" x1="0" y1="0" x2="0" y2="1"><stop offset="0.0000" stop-color="#262626"/><stop offset="0.0610" stop-color="#242424"/><stop offset="0.1789" stop-color="#191919"/><stop offset="0.2358" stop-color="#171717"/><stop offset="0.2927" stop-color="#1b1b1b"/><stop offset="0.3374" stop-color="#222222"/><stop offset="0.4106" stop-color="#393939"/><stop offset="0.4715" stop-color="#3a3a3a"/><stop offset="0.5163" stop-color="#373737"/><stop offset="0.5447" stop-color="#383838"/><stop offset="0.6179" stop-color="#494949"/><stop offset="0.6463" stop-color="#4c4c4c"/><stop offset="0.6748" stop-color="#494949"/><stop offset="0.7439" stop-color="#383838"/><stop offset="0.7846" stop-color="#323232"/><stop offset="0.8374" stop-color="#303030"/><stop offset="1.0000" stop-color="#303030"/></linearGradient>
<linearGradient id="cg31" x1="0" y1="0" x2="0" y2="1"><stop offset="0.0000" stop-color="#262626"/><stop offset="0.0610" stop-color="#242424"/><stop offset="0.1789" stop-color="#1a1a1a"/><stop offset="0.2358" stop-color="#181818"/><stop offset="0.2927" stop-color="#1b1b1b"/><stop offset="0.3415" stop-color="#232323"/><stop offset="0.4106" stop-color="#3a3a3a"/><stop offset="0.5447" stop-color="#383838"/><stop offset="0.6179" stop-color="#484848"/><stop offset="0.6463" stop-color="#4b4b4b"/><stop offset="0.6748" stop-color="#484848"/><stop offset="0.7439" stop-color="#383838"/><stop offset="0.7846" stop-color="#333333"/><stop offset="0.8374" stop-color="#313131"/><stop offset="1.0000" stop-color="#313131"/></linearGradient>
<linearGradient id="cg32" x1="0" y1="0" x2="0" y2="1"><stop offset="0.0000" stop-color="#262626"/><stop offset="0.0610" stop-color="#242424"/><stop offset="0.1789" stop-color="#1b1b1b"/><stop offset="0.2358" stop-color="#191919"/><stop offset="0.2927" stop-color="#1c1c1c"/><stop offset="0.3415" stop-color="#232323"/><stop offset="0.4106" stop-color="#3a3a3a"/><stop offset="0.4715" stop-color="#3a3a3a"/><stop offset="0.5163" stop-color="#383838"/><stop offset="0.5488" stop-color="#383838"/><stop offset="0.6179" stop-color="#464646"/><stop offset="0.6463" stop-color="#484848"/><stop offset="0.6748" stop-color="#464646"/><stop offset="0.7439" stop-color="#383838"/><stop offset="0.7846" stop-color="#343434"/><stop offset="0.8374" stop-color="#323232"/><stop offset="1.0000" stop-color="#323232"/></linearGradient>
<linearGradient id="cg33" x1="0" y1="0" x2="0" y2="1"><stop offset="0.0000" stop-color="#262626"/><stop offset="0.0610" stop-color="#242424"/><stop offset="0.1789" stop-color="#1c1c1c"/><stop offset="0.2358" stop-color="#1a1a1a"/><stop offset="0.2927" stop-color="#1d1d1d"/><stop offset="0.3415" stop-color="#232323"/><stop offset="0.4106" stop-color="#3a3a3a"/><stop offset="0.4715" stop-color="#3b3b3b"/><stop offset="0.5163" stop-color="#383838"/><stop offset="0.5488" stop-color="#383838"/><stop offset="0.6179" stop-color="#434343"/><stop offset="0.6463" stop-color="#464646"/><stop offset="0.6748" stop-color="#444444"/><stop offset="0.7439" stop-color="#383838"/><stop offset="0.7846" stop-color="#343434"/><stop offset="1.0000" stop-color="#333333"/></linearGradient>
<linearGradient id="cg34" x1="0" y1="0" x2="0" y2="1"><stop offset="0.0000" stop-color="#262626"/><stop offset="0.0610" stop-color="#242424"/><stop offset="0.1789" stop-color="#1c1c1c"/><stop offset="0.2358" stop-color="#1b1b1b"/><stop offset="0.2927" stop-color="#1d1d1d"/><stop offset="0.3374" stop-color="#222222"/><stop offset="0.4106" stop-color="#3b3b3b"/><stop offset="0.4715" stop-color="#3b3b3b"/><stop offset="0.5488" stop-color="#383838"/><stop offset="0.6179" stop-color="#414141"/><stop offset="0.6423" stop-color="#434343"/><stop offset="0.6748" stop-color="#414141"/><stop offset="0.7439" stop-color="#383838"/><stop offset="0.7846" stop-color="#353535"/><stop offset="1.0000" stop-color="#333333"/></linearGradient>
<linearGradient id="cg35" x1="0" y1="0" x2="0" y2="1"><stop offset="0.0000" stop-color="#262626"/><stop offset="0.0610" stop-color="#242424"/><stop offset="0.1789" stop-color="#1d1d1d"/><stop offset="0.2358" stop-color="#1b1b1b"/><stop offset="0.2927" stop-color="#1e1e1e"/><stop offset="0.3374" stop-color="#232323"/><stop offset="0.4106" stop-color="#3b3b3b"/><stop offset="0.4715" stop-color="#3c3c3c"/><stop offset="0.5488" stop-color="#383838"/><stop offset="0.6423" stop-color="#404040"/><stop offset="0.6748" stop-color="#3f3f3f"/><stop offset="0.7439" stop-color="#383838"/><stop offset="0.7846" stop-color="#353535"/><stop offset="1.0000" stop-color="#343434"/></linearGradient>
<linearGradient id="cg36" x1="0" y1="0" x2="0" y2="1"><stop offset="0.0000" stop-color="#262626"/><stop offset="0.2317" stop-color="#1c1c1c"/><stop offset="0.2927" stop-color="#1e1e1e"/><stop offset="0.3415" stop-color="#242424"/><stop offset="0.4106" stop-color="#3b3b3b"/><stop offset="0.4715" stop-color="#3c3c3c"/><stop offset="0.5488" stop-color="#383838"/><stop offset="0.6504" stop-color="#3e3e3e"/><stop offset="0.7846" stop-color="#363636"/><stop offset="1.0000" stop-color="#353535"/></linearGradient>
<linearGradient id="cg37" x1="0" y1="0" x2="0" y2="1"><stop offset="0.0000" stop-color="#262626"/><stop offset="0.2317" stop-color="#1d1d1d"/><stop offset="0.2927" stop-color="#1f1f1f"/><stop offset="0.3415" stop-color="#242424"/><stop offset="0.4106" stop-color="#3c3c3c"/><stop offset="0.4715" stop-color="#3c3c3c"/><stop offset="0.5488" stop-color="#383838"/><stop offset="0.6545" stop-color="#3c3c3c"/><stop offset="0.7846" stop-color="#363636"/><stop offset="1.0000" stop-color="#363636"/></linearGradient>
<linearGradient id="cg38" x1="0" y1="0" x2="0" y2="1"><stop offset="0.0000" stop-color="#262626"/><stop offset="0.2317" stop-color="#1d1d1d"/><stop offset="0.2927" stop-color="#1f1f1f"/><stop offset="0.3415" stop-color="#242424"/><stop offset="0.4106" stop-color="#3c3c3c"/><stop offset="0.4715" stop-color="#3d3d3d"/><stop offset="0.5488" stop-color="#383838"/><stop offset="0.6504" stop-color="#3b3b3b"/><stop offset="0.7846" stop-color="#373737"/><stop offset="1.0000" stop-color="#363636"/></linearGradient>
<linearGradient id="cg39" x1="0" y1="0" x2="0" y2="1"><stop offset="0.0000" stop-color="#262626"/><stop offset="0.2317" stop-color="#1e1e1e"/><stop offset="0.2927" stop-color="#1f1f1f"/><stop offset="0.3415" stop-color="#242424"/><stop offset="0.4106" stop-color="#3c3c3c"/><stop offset="0.4715" stop-color="#3d3d3d"/><stop offset="0.5528" stop-color="#383838"/><stop offset="0.6504" stop-color="#3a3a3a"/><stop offset="0.7846" stop-color="#373737"/><stop offset="1.0000" stop-color="#373737"/></linearGradient>
<linearGradient id="cg40" x1="0" y1="0" x2="0" y2="1"><stop offset="0.0000" stop-color="#262626"/><stop offset="0.2317" stop-color="#1e1e1e"/><stop offset="0.2927" stop-color="#202020"/><stop offset="0.3415" stop-color="#242424"/><stop offset="0.4106" stop-color="#3c3c3c"/><stop offset="0.4756" stop-color="#3d3d3d"/><stop offset="0.5528" stop-color="#383838"/><stop offset="0.6545" stop-color="#393939"/><stop offset="1.0000" stop-color="#373737"/></linearGradient>
<linearGradient id="cg41" x1="0" y1="0" x2="0" y2="1"><stop offset="0.0000" stop-color="#262626"/><stop offset="0.2317" stop-color="#1f1f1f"/><stop offset="0.2967" stop-color="#202020"/><stop offset="0.3415" stop-color="#242424"/><stop offset="0.4106" stop-color="#3d3d3d"/><stop offset="0.4756" stop-color="#3d3d3d"/><stop offset="0.5528" stop-color="#383838"/><stop offset="1.0000" stop-color="#383838"/></linearGradient>
<linearGradient id="cg42" x1="0" y1="0" x2="0" y2="1"><stop offset="0.0000" stop-color="#262626"/><stop offset="0.2317" stop-color="#1f1f1f"/><stop offset="0.2967" stop-color="#212121"/><stop offset="0.3415" stop-color="#242424"/><stop offset="0.4106" stop-color="#3d3d3d"/><stop offset="0.4756" stop-color="#3e3e3e"/><stop offset="0.5528" stop-color="#383838"/><stop offset="1.0000" stop-color="#383838"/></linearGradient>
<linearGradient id="cg43" x1="0" y1="0" x2="0" y2="1"><stop offset="0.0000" stop-color="#262626"/><stop offset="0.2317" stop-color="#1f1f1f"/><stop offset="0.2967" stop-color="#212121"/><stop offset="0.3415" stop-color="#242424"/><stop offset="0.4106" stop-color="#3d3d3d"/><stop offset="0.4756" stop-color="#3e3e3e"/><stop offset="0.5528" stop-color="#393939"/><stop offset="1.0000" stop-color="#393939"/></linearGradient>
<linearGradient id="cg44" x1="0" y1="0" x2="0" y2="1"><stop offset="0.0000" stop-color="#262626"/><stop offset="0.2317" stop-color="#1f1f1f"/><stop offset="0.2967" stop-color="#212121"/><stop offset="0.3415" stop-color="#242424"/><stop offset="0.4106" stop-color="#3d3d3d"/><stop offset="0.4756" stop-color="#3e3e3e"/><stop offset="0.5528" stop-color="#393939"/><stop offset="1.0000" stop-color="#393939"/></linearGradient>
<linearGradient id="cg45" x1="0" y1="0" x2="0" y2="1"><stop offset="0.0000" stop-color="#262626"/><stop offset="0.2317" stop-color="#202020"/><stop offset="0.2967" stop-color="#212121"/><stop offset="0.3415" stop-color="#242424"/><stop offset="0.4106" stop-color="#3d3d3d"/><stop offset="0.4715" stop-color="#3e3e3e"/><stop offset="0.5528" stop-color="#393939"/><stop offset="1.0000" stop-color="#393939"/></linearGradient>
<linearGradient id="cg46" x1="0" y1="0" x2="0" y2="1"><stop offset="0.0000" stop-color="#262626"/><stop offset="0.2317" stop-color="#202020"/><stop offset="0.2967" stop-color="#212121"/><stop offset="0.3415" stop-color="#242424"/><stop offset="0.4106" stop-color="#3d3d3d"/><stop offset="0.4715" stop-color="#3e3e3e"/><stop offset="0.5528" stop-color="#393939"/><stop offset="1.0000" stop-color="#393939"/></linearGradient>
<linearGradient id="cg47" x1="0" y1="0" x2="0" y2="1"><stop offset="0.0000" stop-color="#262626"/><stop offset="0.2317" stop-color="#202020"/><stop offset="0.2967" stop-color="#212121"/><stop offset="0.3415" stop-color="#242424"/><stop offset="0.4106" stop-color="#3d3d3d"/><stop offset="0.4715" stop-color="#3e3e3e"/><stop offset="0.5528" stop-color="#393939"/><stop offset="1.0000" stop-color="#393939"/></linearGradient>
<linearGradient id="cg48" x1="0" y1="0" x2="0" y2="1"><stop offset="0.0000" stop-color="#262626"/><stop offset="0.2317" stop-color="#202020"/><stop offset="0.2967" stop-color="#212121"/><stop offset="0.3415" stop-color="#242424"/><stop offset="0.4106" stop-color="#3d3d3d"/><stop offset="0.4715" stop-color="#3e3e3e"/><stop offset="0.5528" stop-color="#393939"/><stop offset="1.0000" stop-color="#393939"/></linearGradient>
<linearGradient id="cg49" x1="0" y1="0" x2="0" y2="1"><stop offset="0.0000" stop-color="#262626"/><stop offset="0.0610" stop-color="#242424"/><stop offset="0.1789" stop-color="#181818"/><stop offset="0.2358" stop-color="#161616"/><stop offset="0.2927" stop-color="#1a1a1a"/><stop offset="0.3374" stop-color="#222222"/><stop offset="0.4106" stop-color="#393939"/><stop offset="0.4715" stop-color="#393939"/><stop offset="0.5163" stop-color="#363636"/><stop offset="0.5447" stop-color="#373737"/><stop offset="0.5610" stop-color="#3a3a3a"/><stop offset="0.6179" stop-color="#494949"/><stop offset="0.6463" stop-color="#4d4d4d"/><stop offset="0.6748" stop-color="#4a4a4a"/><stop offset="0.7439" stop-color="#373737"/><stop offset="0.7846" stop-color="#313131"/><stop offset="0.8374" stop-color="#2f2f2f"/><stop offset="1.0000" stop-color="#2f2f2f"/></linearGradient>
<linearGradient id="mp_g" x1="0" y1="0" x2="0" y2="1"><stop offset="0.0000" stop-color="#030303"/><stop offset="1.0000" stop-color="#040404"/></linearGradient>
<linearGradient id="cbar" x1="0" y1="1" x2="0" y2="0"><stop offset="0.0000" stop-color="#000000"/><stop offset="0.1250" stop-color="#202020"/><stop offset="0.2500" stop-color="#404040"/><stop offset="0.3750" stop-color="#606060"/><stop offset="0.5000" stop-color="#808080"/><stop offset="0.6250" stop-color="#9f9f9f"/><stop offset="0.7500" stop-color="#bfbfbf"/><stop offset="0.8750" stop-color="#dfdfdf"/><stop offset="1.0000" stop-color="#ffffff"/></linearGradient>
</defs>
<path d="M529.6 969.3L532.8 965.5L537.4 960.3L542.7 954.2L548.3 947.5L553.6 940.7L558.2 934.3L562.0 928.1L565.6 921.7L568.9 915.1L571.9 908.6L574.8 902.2L577.4 896.0L579.7 890.2L581.6 884.7L583.2 879.3L584.9 873.7L586.6 867.7L588.5 861.0L590.7 853.3L593.1 844.8L595.6 835.9L598.1 826.9L600.6 818.1L602.9 810.0L605.1 802.5L607.1 795.5L609.1 788.7L611.2 782.0L613.3 775.3L615.6 768.5L618.1 761.3L620.8 753.9L623.6 746.4L626.4 739.3L629.1 732.7L631.6 727.0L633.9 722.2L636.0 718.2L638.0 714.7L640.0 711.7L642.0 709.0L644.3 706.4L646.7 704.0L649.3 701.9L651.9 700.0L654.7 698.6L657.4 697.5L660.2 696.8L663.1 696.9L666.2 697.7L669.3 698.9L672.4 700.1L675.2 700.9L677.8 701.0L680.0 700.6L681.9 700.2L683.6 699.3L685.3 697.9L687.0 695.5L688.9 692.0L690.9 687.0L693.0 680.7L695.2 673.5L697.4 665.8L699.6 658.1L701.7 650.6L703.8 643.2L705.9 635.6L708.1 627.9L710.2 620.3L712.3 612.9L714.4 606.0L716.5 599.5L718.7 593.4L720.8 587.5L722.9 581.9L725.1 576.4L727.2 571.0L729.3 565.7L731.3 560.5L733.4 555.4L735.4 550.6L737.6 546.2L739.9 542.2L742.3 538.8L744.9 535.8L747.5 533.3L750.2 530.9L753.0 528.6L755.9 526.3L758.9 524.0L762.2 521.9L765.5 519.9L768.8 517.9L772.0 515.8L775.0 513.5L777.8 511.0L780.5 508.3L783.0 505.6L785.6 502.8L788.2 500.1L790.9 497.6L793.7 495.0L796.6 492.2L799.5 489.5L802.5 487.1L805.5 485.2L808.4 484.2L811.3 484.0L814.2 484.6L817.1 485.7L820.0 487.2L823.0 489.1L826.0 491.2L829.1 493.7L832.1 496.6L835.3 499.8L838.4 503.3L841.7 506.9L845.1 510.4L848.7 514.3L852.5 518.8L856.5 523.4L860.3 527.5L864.0 530.8L867.4 532.7L870.4 533.2L873.1 532.7L875.5 531.2L878.0 529.1L880.5 526.3L883.3 523.0L886.3 519.0L889.5 514.1L892.8 508.6L896.1 502.7L899.4 496.8L902.5 491.2L905.5 485.7L908.4 480.1L911.3 474.5L914.1 468.9L917.0 463.4L920.0 458.0L923.1 452.6L926.3 447.1L929.6 441.6L932.8 436.5L936.0 431.9L939.0 428.0L941.7 424.9L944.1 422.4L946.5 420.4L948.9 418.9L951.8 417.7L955.2 416.7L959.4 416.1L964.2 416.0L969.4 416.3L974.7 416.7L979.8 417.3L984.4 417.7L988.6 418.2L992.4 418.8L996.1 419.5L999.8 420.2L1003.4 420.7L1007.1 420.9L1010.9 420.9L1014.6 420.9L1018.3 420.7L1022.1 420.3L1025.9 419.5L1029.9 418.3L1034.0 416.5L1038.3 414.1L1042.7 411.3L1047.0 408.5L1051.4 405.9L1055.8 403.7L1060.2 401.9L1064.7 400.2L1069.2 398.7L1073.6 397.4L1077.8 396.6L1081.8 396.2L1085.4 396.3L1088.5 396.7L1091.5 397.5L1094.6 398.6L1097.7 400.2L1101.3 402.1L1105.3 404.6L1109.6 407.8L1114.1 411.4L1118.6 415.1L1123.1 418.6L1127.3 421.6L1131.2 424.2L1134.9 426.6L1138.4 428.9L1142.1 430.9L1145.9 432.8L1150.0 434.5L1154.6 436.1L1159.6 437.6L1164.8 438.9L1169.9 440.0L1174.8 440.7L1179.2 441.0L1182.9 440.9L1186.2 440.5L1189.2 439.8L1192.1 438.6L1195.2 437.1L1198.7 435.2L1202.7 432.7L1206.9 429.5L1211.3 426.0L1215.8 422.3L1220.3 418.6L1224.7 415.1L1229.0 411.7L1233.3 408.1L1237.6 404.5L1242.0 401.1L1246.3 398.1L1250.6 395.6L1254.9 393.6L1259.3 392.0L1263.6 390.7L1267.9 389.8L1272.3 389.3L1276.6 389.1L1281.0 389.3L1285.4 389.8L1289.8 390.7L1294.2 392.0L1298.5 393.6L1302.6 395.6L1306.6 398.0L1310.4 400.9L1314.1 404.1L1317.8 407.6L1321.5 411.3L1325.3 415.1L1329.1 419.2L1333.0 423.6L1336.9 428.3L1340.7 432.8L1344.5 437.2L1348.1 441.0L1351.5 444.4L1354.6 447.5L1357.6 450.4L1360.7 453.0L1363.9 455.3L1367.5 457.3L1371.4 459.0L1375.6 460.5L1379.9 461.7L1384.3 462.5L1388.9 463.0L1393.5 463.1L1398.2 462.8L1403.1 462.0L1408.0 460.9L1413.0 459.5L1418.0 457.7L1422.9 455.7L1427.8 453.2L1432.6 450.1L1437.5 446.6L1442.2 443.2L1446.9 439.9L1451.4 437.1L1455.7 434.7L1459.9 432.6L1464.0 430.6L1468.0 428.9L1471.9 427.2L1475.7 425.7L1479.5 424.2L1483.1 422.8L1486.7 421.4L1490.2 420.4L1493.6 419.7L1497.1 419.4L1500.5 419.6L1503.9 420.2L1507.2 421.1L1510.5 422.3L1513.8 423.9L1517.1 425.7L1520.4 427.8L1523.8 430.1L1527.1 432.7L1530.4 435.7L1533.8 439.1L1537.1 442.9L1540.5 447.2L1543.9 452.0L1547.3 457.2L1550.6 462.7L1553.9 468.4L1557.1 474.3L1560.1 480.3L1563.0 486.6L1565.9 493.0L1568.7 499.8L1571.5 506.9L1574.3 514.3L1577.2 522.3L1580.0 530.9L1582.8 539.8L1585.7 548.8L1588.5 557.5L1591.4 565.7L1594.3 573.5L1597.1 581.1L1600.0 588.4L1602.9 595.5L1605.7 602.2L1608.6 608.6L1611.4 614.6L1614.2 620.2L1617.0 625.5L1619.8 630.6L1622.7 635.4L1625.7 640.0L1628.9 644.5L1632.2 648.7L1635.5 652.8L1638.9 656.5L1642.3 659.9L1645.7 662.9L1648.9 665.3L1652.0 667.2L1655.2 668.8L1658.4 670.2L1661.9 671.5L1665.7 672.9L1670.0 674.4L1674.6 675.8L1679.5 677.1L1684.4 678.5L1689.4 679.9L1694.3 681.4L1699.1 682.9L1703.8 684.5L1708.6 686.0L1713.4 687.7L1718.1 689.5L1722.9 691.4L1727.7 693.5L1732.4 695.8L1737.2 698.3L1741.9 700.8L1746.6 703.3L1751.4 705.7L1756.2 708.2L1761.1 710.7L1766.0 713.3L1770.8 715.7L1775.5 718.0L1780.0 720.0L1784.5 721.7L1789.2 723.3L1793.8 724.6L1797.9 725.8L1801.4 726.8L1804.0 727.5" stroke="#000" stroke-width="7" fill="none" stroke-linejoin="round" stroke-linecap="round"/>
<path d="M529.6 931.0L532.1 927.7L535.6 923.2L539.8 917.9L544.1 911.9L548.3 905.6L551.9 899.2L554.9 892.7L557.7 885.8L560.2 878.5L562.7 870.9L565.2 862.9L567.8 854.6L570.5 845.8L573.2 836.5L575.9 826.9L578.6 817.0L581.2 807.1L583.7 797.2L586.1 787.0L588.3 776.3L590.5 765.5L592.6 755.0L594.6 745.3L596.5 736.6L598.2 729.4L599.8 723.5L601.3 718.3L602.7 713.3L604.3 707.9L606.0 701.6L607.9 694.2L610.0 686.0L612.2 677.5L614.4 669.0L616.6 661.0L618.8 653.8L620.9 647.5L623.0 641.9L625.0 636.7L627.1 631.7L629.3 626.8L631.6 621.9L634.1 616.9L636.7 612.0L639.4 607.2L642.1 602.5L644.8 597.9L647.5 593.2L650.1 588.2L652.6 582.9L655.2 577.6L657.7 572.7L660.5 568.8L663.4 566.1L666.6 565.3L670.2 566.1L673.8 567.8L677.5 569.7L681.0 570.9L684.1 570.9L686.8 569.7L689.2 568.0L691.4 565.6L693.6 562.7L695.9 559.2L698.5 555.0L701.5 550.0L704.8 544.1L708.1 537.6L711.5 530.8L714.7 523.7L717.6 516.7L720.1 509.7L722.3 502.7L724.4 495.4L726.4 487.9L728.3 480.2L730.4 472.1L732.5 463.4L734.5 454.0L736.6 444.4L738.6 434.9L740.8 425.9L743.1 417.9L745.5 410.7L748.0 403.9L750.6 397.7L753.3 392.1L756.1 387.1L759.0 382.9L762.0 379.5L765.2 377.0L768.4 375.0L771.7 373.6L775.0 372.6L778.2 371.7L781.4 371.4L784.6 371.8L787.8 372.6L790.9 373.2L794.1 373.4L797.3 372.7L800.4 370.9L803.5 368.2L806.6 365.1L809.8 361.8L813.0 358.6L816.4 355.8L820.0 353.2L823.7 350.3L827.5 347.6L831.4 345.3L835.1 343.7L838.7 343.0L842.1 343.3L845.3 344.4L848.4 346.2L851.5 348.5L854.6 351.2L857.8 354.2L861.0 357.8L864.1 362.3L867.2 367.1L870.4 371.9L873.6 376.2L877.0 379.7L880.6 382.3L884.4 384.3L888.3 385.9L892.2 387.1L895.9 388.0L899.3 388.6L902.4 389.0L905.4 389.3L908.1 389.2L910.8 388.6L913.5 387.6L916.2 385.8L919.0 383.4L921.7 380.3L924.4 376.7L927.1 372.6L929.8 368.1L932.5 363.1L935.2 357.3L937.9 350.7L940.6 343.6L943.3 336.5L946.0 329.8L948.7 324.2L951.3 319.5L953.7 315.4L956.2 311.8L958.8 308.6L961.6 305.7L964.9 303.0L968.7 300.5L973.1 298.3L977.7 296.4L982.4 294.9L986.8 293.8L990.9 293.3L994.5 293.2L997.6 293.6L1000.6 294.4L1003.7 295.7L1006.8 297.5L1010.4 299.8L1014.4 303.0L1018.8 307.1L1023.4 311.7L1028.0 316.4L1032.4 320.7L1036.4 324.2L1040.0 327.0L1043.4 329.3L1046.5 331.3L1049.6 332.9L1052.6 334.3L1055.8 335.5L1059.0 336.4L1062.3 337.1L1065.5 337.5L1068.8 337.6L1072.0 337.5L1075.3 337.1L1078.5 336.5L1081.6 335.7L1084.6 334.7L1087.8 333.3L1091.2 331.4L1094.8 329.0L1098.8 325.9L1103.0 322.1L1107.4 317.9L1111.9 313.4L1116.4 308.9L1120.8 304.7L1125.1 300.5L1129.5 296.0L1133.8 291.5L1138.1 287.2L1142.5 283.4L1146.8 280.3L1151.1 277.8L1155.4 275.9L1159.8 274.3L1164.1 273.2L1168.4 272.5L1172.7 272.2L1177.0 272.4L1181.4 273.0L1185.7 274.1L1190.0 275.5L1194.4 277.1L1198.7 278.7L1203.0 280.6L1207.4 282.8L1211.7 285.2L1216.0 287.6L1220.4 289.8L1224.7 291.7L1228.9 293.2L1232.9 294.4L1236.8 295.5L1241.0 296.5L1245.5 297.3L1250.6 298.2L1256.3 299.1L1262.4 299.9L1268.9 300.6L1275.6 301.2L1282.6 301.7L1289.6 302.1L1297.1 302.1L1305.3 301.8L1313.6 301.4L1321.6 301.0L1329.0 301.0L1335.1 301.4L1339.8 302.4L1343.5 303.7L1346.4 305.2L1349.0 307.1L1351.6 309.1L1354.5 311.2L1357.6 313.3L1360.4 315.5L1363.3 317.9L1366.4 320.5L1369.9 323.7L1374.0 327.4L1379.0 331.9L1384.6 337.0L1390.7 342.6L1397.0 348.4L1403.0 354.3L1408.6 360.0L1413.8 365.8L1418.8 371.8L1423.6 377.9L1428.2 383.9L1432.7 389.4L1437.1 394.3L1441.3 398.6L1445.4 402.5L1449.3 406.0L1453.1 409.1L1456.7 411.9L1460.0 414.3L1463.0 416.3L1465.7 417.7L1468.1 418.8L1470.5 419.7L1473.0 420.5L1475.7 421.4L1478.6 422.3L1481.6 423.0L1484.7 423.7L1487.9 424.4L1491.1 425.0L1494.3 425.7L1497.5 426.3L1500.8 426.7L1504.0 427.1L1507.4 427.7L1510.8 428.6L1514.3 430.0L1518.0 432.0L1522.0 434.7L1526.1 437.6L1530.0 440.6L1533.8 443.4L1537.1 445.7L1540.0 447.7L1542.7 449.5L1545.1 451.2L1547.4 452.5L1549.4 453.6L1551.4 454.3L1553.0 454.2L1554.3 453.2L1555.3 452.0L1556.5 450.9L1558.0 450.5L1560.0 451.4L1562.6 453.4L1565.5 456.1L1568.8 459.5L1572.3 463.6L1576.0 468.5L1580.0 474.3L1584.3 481.1L1588.9 489.0L1593.8 497.7L1598.8 506.9L1603.7 516.3L1608.6 525.7L1613.5 535.5L1618.5 545.9L1623.6 556.6L1628.4 567.1L1633.0 576.9L1637.1 585.7L1640.6 593.3L1643.5 600.0L1646.1 606.1L1648.6 611.8L1651.2 617.3L1654.3 622.9L1657.7 628.6L1661.2 634.1L1664.8 639.5L1668.6 644.7L1672.7 649.6L1677.1 654.3L1681.8 658.7L1687.0 663.0L1692.3 666.9L1697.8 670.7L1703.3 674.1L1708.6 677.1L1713.5 679.8L1717.9 682.0L1722.3 684.0L1727.1 685.7L1732.9 687.2L1740.0 688.6L1749.5 689.8L1761.3 690.7L1774.0 691.5L1786.2 692.1L1796.7 692.5L1804.0 692.9" stroke="#f00" stroke-width="7" fill="none" stroke-linejoin="round" stroke-linecap="round"/>
<rect x="529.5" y="108.6" width="1276.5" height="938.4" fill="none" stroke="#000" stroke-width="8" stroke-linejoin="round"/>
<path d="M620.7 1047.0V1036.0M711.9 1047.0V1026.0M803.0 1047.0V1036.0M894.2 1047.0V1026.0M985.4 1047.0V1036.0M1076.6 1047.0V1026.0M1167.8 1047.0V1036.0M1258.9 1047.0V1026.0M1350.1 1047.0V1036.0M1441.3 1047.0V1026.0M1532.5 1047.0V1036.0M1623.6 1047.0V1026.0M1714.8 1047.0V1036.0M529.5 968.8H541.5M1806.0 968.8H1794.0M529.5 890.6H550.5M1806.0 890.6H1785.0M529.5 812.4H541.5M1806.0 812.4H1794.0M529.5 734.2H550.5M1806.0 734.2H1785.0M529.5 656.0H541.5M1806.0 656.0H1794.0M529.5 577.8H550.5M1806.0 577.8H1785.0M529.5 499.6H541.5M1806.0 499.6H1794.0M529.5 421.4H550.5M1806.0 421.4H1785.0M529.5 343.2H541.5M1806.0 343.2H1794.0M529.5 265.0H550.5M1806.0 265.0H1785.0M529.5 186.8H541.5M1806.0 186.8H1794.0" stroke="#000" stroke-width="6" fill="none"/>
<path d="M821.0 97.4V147.7M821.0 176.1V211.8M821.0 240.2V275.9M821.0 304.3V340.0M821.0 368.4V404.1M821.0 432.5V468.2M821.0 496.6V532.3M821.0 560.7V596.4M821.0 624.8V660.5M821.0 688.9V724.6M821.0 753.0V788.7M821.0 817.1V852.8M821.0 881.2V916.9M821.0 945.3V981.0M821.0 1009.4V1043.0" stroke="#808080" stroke-width="8" fill="none"/>
<path d="M1150.7 97.4V147.7M1150.7 176.1V211.8M1150.7 240.2V275.9M1150.7 304.3V340.0M1150.7 368.4V404.1M1150.7 432.5V468.2M1150.7 496.6V532.3M1150.7 560.7V596.4M1150.7 624.8V660.5M1150.7 688.9V724.6M1150.7 753.0V788.7M1150.7 817.1V852.8M1150.7 881.2V916.9M1150.7 945.3V981.0M1150.7 1009.4V1043.0" stroke="#808080" stroke-width="8" fill="none"/>
<path d="M1475.9 97.4V147.7M1475.9 176.1V211.8M1475.9 240.2V275.9M1475.9 304.3V340.0M1475.9 368.4V404.1M1475.9 432.5V468.2M1475.9 496.6V532.3M1475.9 560.7V596.4M1475.9 624.8V660.5M1475.9 688.9V724.6M1475.9 753.0V788.7M1475.9 817.1V852.8M1475.9 881.2V916.9M1475.9 945.3V981.0M1475.9 1009.4V1043.0" stroke="#808080" stroke-width="8" fill="none"/>
<rect x="545" y="117.2" width="535" height="140.4" fill="#fff"/>
<text x="507" y="1059.0" font-family="Liberation Sans, Arial, sans-serif" font-weight="bold" font-size="47.5" text-anchor="end">0.0</text>
<text x="507" y="902.6" font-family="Liberation Sans, Arial, sans-serif" font-weight="bold" font-size="47.5" text-anchor="end">0.2</text>
<text x="507" y="746.2" font-family="Liberation Sans, Arial, sans-serif" font-weight="bold" font-size="47.5" text-anchor="end">0.4</text>
<text x="507" y="589.8" font-family="Liberation Sans, Arial, sans-serif" font-weight="bold" font-size="47.5" text-anchor="end">0.6</text>
<text x="507" y="433.4" font-family="Liberation Sans, Arial, sans-serif" font-weight="bold" font-size="47.5" text-anchor="end">0.8</text>
<text x="507" y="277.0" font-family="Liberation Sans, Arial, sans-serif" font-weight="bold" font-size="47.5" text-anchor="end">1.0</text>
<text x="507" y="120.6" font-family="Liberation Sans, Arial, sans-serif" font-weight="bold" font-size="47.5" text-anchor="end">1.2</text>
<text x="529.5" y="1104.5" font-family="Liberation Sans, Arial, sans-serif" font-weight="bold" font-size="48" text-anchor="middle">300</text>
<text x="711.9" y="1104.5" font-family="Liberation Sans, Arial, sans-serif" font-weight="bold" font-size="48" text-anchor="middle">350</text>
<text x="894.2" y="1104.5" font-family="Liberation Sans, Arial, sans-serif" font-weight="bold" font-size="48" text-anchor="middle">400</text>
<text x="1076.6" y="1104.5" font-family="Liberation Sans, Arial, sans-serif" font-weight="bold" font-size="48" text-anchor="middle">450</text>
<text x="1258.9" y="1104.5" font-family="Liberation Sans, Arial, sans-serif" font-weight="bold" font-size="48" text-anchor="middle">500</text>
<text x="1441.3" y="1104.5" font-family="Liberation Sans, Arial, sans-serif" font-weight="bold" font-size="48" text-anchor="middle">550</text>
<text x="1623.6" y="1104.5" font-family="Liberation Sans, Arial, sans-serif" font-weight="bold" font-size="48" text-anchor="middle">600</text>
<text x="1806.0" y="1104.5" font-family="Liberation Sans, Arial, sans-serif" font-weight="bold" font-size="48" text-anchor="middle">650</text>
<text x="876" y="1212.5" font-family="Liberation Sans, Arial, sans-serif" font-weight="bold" font-size="73">Wavelength (nm)</text>
<text transform="translate(410.5 1007) rotate(-90)" x="0" y="0" font-family="Liberation Sans, Arial, sans-serif" font-weight="bold" font-size="66">Total absorbed power (a.u.)</text>
<path d="M564 157.7H666" stroke="#000" stroke-width="8" stroke-linecap="round"/>
<path d="M564 220.6H666" stroke="#f00" stroke-width="8" stroke-linecap="round"/>
<text x="679" y="173" font-family="Liberation Sans, Arial, sans-serif" font-weight="bold" font-size="48.3">Flat mp-TiO2</text>
<text x="679" y="235" font-family="Liberation Sans, Arial, sans-serif" font-weight="bold" font-size="48.3">1D GNP mp-TiO2</text>
<text transform="translate(820.9 74) scale(1.38 1)" x="0" y="0" font-family="DejaVu Serif, serif" font-size="57" fill="#808080" stroke="#808080" stroke-width="1.2" text-anchor="middle">Ⅰ</text>
<text transform="translate(1152.9 74) scale(1.30 1)" x="0" y="0" font-family="DejaVu Serif, serif" font-size="57" fill="#808080" stroke="#808080" stroke-width="1.2" text-anchor="middle">Ⅱ</text>
<text transform="translate(1475.3 74) scale(0.95 1)" x="0" y="0" font-family="DejaVu Serif, serif" font-size="57" fill="#808080" stroke="#808080" stroke-width="1.2" text-anchor="middle">Ⅲ</text>
<text x="34" y="81" font-family="Liberation Sans, Arial, sans-serif" font-weight="bold" font-size="76">(a)</text>
<g clip-path="url(#clip_b)"><g filter="url(#jet)"><rect x="193.2" y="1424.5" width="871.7" height="245.20" fill="url(#pv_b)"/><rect x="193.2" y="1669.70" width="871.7" height="272.30" fill="url(#mp_b)"/><rect x="193.2" y="1942.00" width="871.7" height="140.60" fill="#000"/></g></g>
<path d="M193.2 1669.70H1064.9M193.2 1942.00H1064.9M193.2 1967.00H1064.9" stroke="#ececf6" stroke-width="3.5"/>
<text x="207.7" y="1490.8" fill="#fff" font-family="Noto Sans CJK KR, sans-serif" font-weight="bold" font-size="56.0">CsPbIBr<tspan font-size="40.0" x="427.4" y="1504.5">2</tspan></text>
<text x="210.6" y="1738.9" fill="#fff" font-family="Noto Sans CJK KR, sans-serif" font-weight="bold" font-size="56.0"><tspan textLength="214" lengthAdjust="spacingAndGlyphs">mp-TiO</tspan><tspan font-size="40.0" x="424.3" y="1752.6">2</tspan></text>
<text x="208.1" y="2033.3" fill="#fff" font-family="Noto Sans CJK KR, sans-serif" font-weight="bold" font-size="56.0">FTO</text>
<text x="800.8" y="1886.8" fill="#fff" font-family="Noto Sans CJK KR, sans-serif" font-weight="bold" font-size="56.0"><tspan textLength="152" lengthAdjust="spacingAndGlyphs">c-TiO</tspan><tspan font-size="40.0" x="951.1" y="1900.5">2</tspan></text>
<path d="M754.4 1955.0L802.3 1913.5" stroke="#fff" stroke-width="4.2" stroke-linecap="round"/><path d="M814.4 1903.0L806.4 1921.2L795.2 1908.4Z" fill="#fff"/>
<text x="639.6" y="1488.0" font-family="DejaVu Serif, serif" fill="#fff" font-size="57" font-weight="bold" textLength="404.7" lengthAdjust="spacingAndGlyphs">Ⅰ <tspan font-weight="normal" stroke="#fff" stroke-width="2.1">(<tspan font-style="italic">λ</tspan> = 380 <tspan font-style="italic">nm</tspan>)</tspan></text>
<text x="179.9" y="1501.6" fill="#000" stroke="#000" stroke-width="0.6" font-family="Noto Sans CJK KR, sans-serif" font-weight="500" font-size="51.5" text-anchor="end">-1.3</text>
<text x="179.9" y="1581.0" fill="#000" stroke="#000" stroke-width="0.6" font-family="Noto Sans CJK KR, sans-serif" font-weight="500" font-size="51.5" text-anchor="end">-1.4</text>
<text x="179.9" y="1664.6" fill="#000" stroke="#000" stroke-width="0.6" font-family="Noto Sans CJK KR, sans-serif" font-weight="500" font-size="51.5" text-anchor="end">-1.5</text>
<text x="179.9" y="1744.4" fill="#000" stroke="#000" stroke-width="0.6" font-family="Noto Sans CJK KR, sans-serif" font-weight="500" font-size="51.5" text-anchor="end">-1.6</text>
<text x="179.9" y="1829.6" fill="#000" stroke="#000" stroke-width="0.6" font-family="Noto Sans CJK KR, sans-serif" font-weight="500" font-size="51.5" text-anchor="end">-1.7</text>
<text x="179.9" y="1915.7" fill="#000" stroke="#000" stroke-width="0.6" font-family="Noto Sans CJK KR, sans-serif" font-weight="500" font-size="51.5" text-anchor="end">-1.8</text>
<text x="179.9" y="1994.7" fill="#000" stroke="#000" stroke-width="0.6" font-family="Noto Sans CJK KR, sans-serif" font-weight="500" font-size="51.5" text-anchor="end">-1.9</text>
<text x="179.9" y="2078.9" fill="#000" stroke="#000" stroke-width="0.6" font-family="Noto Sans CJK KR, sans-serif" font-weight="500" font-size="51.5" text-anchor="end">-2.0</text>
<text x="243.9" y="2128.0" fill="#000" stroke="#000" stroke-width="0.6" font-family="Noto Sans CJK KR, sans-serif" font-weight="500" font-size="51.5" text-anchor="middle">-0.8</text>
<text x="339.4" y="2128.0" fill="#000" stroke="#000" stroke-width="0.6" font-family="Noto Sans CJK KR, sans-serif" font-weight="500" font-size="51.5" text-anchor="middle">-0.6</text>
<text x="432.9" y="2128.0" fill="#000" stroke="#000" stroke-width="0.6" font-family="Noto Sans CJK KR, sans-serif" font-weight="500" font-size="51.5" text-anchor="middle">-0.4</text>
<text x="527.7" y="2128.0" fill="#000" stroke="#000" stroke-width="0.6" font-family="Noto Sans CJK KR, sans-serif" font-weight="500" font-size="51.5" text-anchor="middle">-0.2</text>
<text x="628.5" y="2128.0" fill="#000" stroke="#000" stroke-width="0.6" font-family="Noto Sans CJK KR, sans-serif" font-weight="500" font-size="51.5" text-anchor="middle">0</text>
<text x="717.6" y="2128.0" fill="#000" stroke="#000" stroke-width="0.6" font-family="Noto Sans CJK KR, sans-serif" font-weight="500" font-size="51.5" text-anchor="middle">0.2</text>
<text x="812.7" y="2128.0" fill="#000" stroke="#000" stroke-width="0.6" font-family="Noto Sans CJK KR, sans-serif" font-weight="500" font-size="51.5" text-anchor="middle">0.4</text>
<text x="907.7" y="2128.0" fill="#000" stroke="#000" stroke-width="0.6" font-family="Noto Sans CJK KR, sans-serif" font-weight="500" font-size="51.5" text-anchor="middle">0.6</text>
<text x="1006.4" y="2128.0" fill="#000" stroke="#000" stroke-width="0.6" font-family="Noto Sans CJK KR, sans-serif" font-weight="500" font-size="51.5" text-anchor="middle">0.8</text>
<text x="646.0" y="2176.5" fill="#000" stroke="#000" stroke-width="0.6" font-family="Noto Sans CJK KR, sans-serif" font-weight="500" font-size="51" text-anchor="middle">x (um)</text>
<text transform="translate(68.0 1756.5) rotate(-90)" x="0" y="0" fill="#000" stroke="#000" stroke-width="0.6" font-family="Noto Sans CJK KR, sans-serif" font-weight="500" font-size="51" text-anchor="middle">y (um)</text>
<text x="51.0" y="1395.0" font-family="Liberation Sans, Arial, sans-serif" font-weight="bold" font-size="75">(b)</text>
<g clip-path="url(#clip_c)"><g filter="url(#jet)"><rect x="200.9" y="2250.0" width="868.8" height="245.20" fill="url(#pv_c)"/><rect x="200.9" y="2495.20" width="868.8" height="272.30" fill="url(#mp_c)"/><rect x="200.9" y="2767.50" width="868.8" height="139.30" fill="#000"/></g></g>
<path d="M200.9 2495.20H1069.7M200.9 2767.50H1069.7M200.9 2792.50H1069.7" stroke="#ececf6" stroke-width="3.5"/>
<text x="218.7" y="2314.3" fill="#fff" font-family="Noto Sans CJK KR, sans-serif" font-weight="bold" font-size="56.0">CsPbIBr<tspan font-size="40.0" x="438.3" y="2328.0">2</tspan></text>
<text x="218.4" y="2564.0" fill="#fff" font-family="Noto Sans CJK KR, sans-serif" font-weight="bold" font-size="56.0"><tspan textLength="214" lengthAdjust="spacingAndGlyphs">mp-TiO</tspan><tspan font-size="40.0" x="435.5" y="2577.7">2</tspan></text>
<text x="216.4" y="2857.0" fill="#fff" font-family="Noto Sans CJK KR, sans-serif" font-weight="bold" font-size="56.0">FTO</text>
<text x="799.2" y="2710.7" fill="#fff" font-family="Noto Sans CJK KR, sans-serif" font-weight="bold" font-size="56.0"><tspan textLength="152" lengthAdjust="spacingAndGlyphs">c-TiO</tspan><tspan font-size="40.0" x="949.8" y="2724.4">2</tspan></text>
<path d="M753.6 2778.6L800.8 2737.6" stroke="#fff" stroke-width="4.2" stroke-linecap="round"/><path d="M812.9 2727.1L804.9 2745.3L793.7 2732.5Z" fill="#fff"/>
<text x="606.6" y="2314.3" font-family="DejaVu Serif, serif" fill="#fff" font-size="57" font-weight="bold" textLength="441.9" lengthAdjust="spacingAndGlyphs">Ⅱ <tspan font-weight="normal" stroke="#fff" stroke-width="2.1">(<tspan font-style="italic">λ</tspan> = 470 <tspan font-style="italic">nm</tspan>)</tspan></text>
<text x="187.6" y="2327.0" fill="#000" stroke="#000" stroke-width="0.6" font-family="Noto Sans CJK KR, sans-serif" font-weight="500" font-size="51.5" text-anchor="end">-1.3</text>
<text x="187.6" y="2406.2" fill="#000" stroke="#000" stroke-width="0.6" font-family="Noto Sans CJK KR, sans-serif" font-weight="500" font-size="51.5" text-anchor="end">-1.4</text>
<text x="187.6" y="2489.7" fill="#000" stroke="#000" stroke-width="0.6" font-family="Noto Sans CJK KR, sans-serif" font-weight="500" font-size="51.5" text-anchor="end">-1.5</text>
<text x="187.6" y="2569.3" fill="#000" stroke="#000" stroke-width="0.6" font-family="Noto Sans CJK KR, sans-serif" font-weight="500" font-size="51.5" text-anchor="end">-1.6</text>
<text x="187.6" y="2654.3" fill="#000" stroke="#000" stroke-width="0.6" font-family="Noto Sans CJK KR, sans-serif" font-weight="500" font-size="51.5" text-anchor="end">-1.7</text>
<text x="187.6" y="2740.3" fill="#000" stroke="#000" stroke-width="0.6" font-family="Noto Sans CJK KR, sans-serif" font-weight="500" font-size="51.5" text-anchor="end">-1.8</text>
<text x="187.6" y="2819.1" fill="#000" stroke="#000" stroke-width="0.6" font-family="Noto Sans CJK KR, sans-serif" font-weight="500" font-size="51.5" text-anchor="end">-1.9</text>
<text x="187.6" y="2903.1" fill="#000" stroke="#000" stroke-width="0.6" font-family="Noto Sans CJK KR, sans-serif" font-weight="500" font-size="51.5" text-anchor="end">-2.0</text>
<text x="251.6" y="2958.3" fill="#000" stroke="#000" stroke-width="0.6" font-family="Noto Sans CJK KR, sans-serif" font-weight="500" font-size="51.5" text-anchor="middle">-0.8</text>
<text x="347.1" y="2958.3" fill="#000" stroke="#000" stroke-width="0.6" font-family="Noto Sans CJK KR, sans-serif" font-weight="500" font-size="51.5" text-anchor="middle">-0.6</text>
<text x="440.6" y="2958.3" fill="#000" stroke="#000" stroke-width="0.6" font-family="Noto Sans CJK KR, sans-serif" font-weight="500" font-size="51.5" text-anchor="middle">-0.4</text>
<text x="535.4" y="2958.3" fill="#000" stroke="#000" stroke-width="0.6" font-family="Noto Sans CJK KR, sans-serif" font-weight="500" font-size="51.5" text-anchor="middle">-0.2</text>
<text x="636.2" y="2958.3" fill="#000" stroke="#000" stroke-width="0.6" font-family="Noto Sans CJK KR, sans-serif" font-weight="500" font-size="51.5" text-anchor="middle">0</text>
<text x="725.3" y="2958.3" fill="#000" stroke="#000" stroke-width="0.6" font-family="Noto Sans CJK KR, sans-serif" font-weight="500" font-size="51.5" text-anchor="middle">0.2</text>
<text x="820.4" y="2958.3" fill="#000" stroke="#000" stroke-width="0.6" font-family="Noto Sans CJK KR, sans-serif" font-weight="500" font-size="51.5" text-anchor="middle">0.4</text>
<text x="915.4" y="2958.3" fill="#000" stroke="#000" stroke-width="0.6" font-family="Noto Sans CJK KR, sans-serif" font-weight="500" font-size="51.5" text-anchor="middle">0.6</text>
<text x="1014.1" y="2958.3" fill="#000" stroke="#000" stroke-width="0.6" font-family="Noto Sans CJK KR, sans-serif" font-weight="500" font-size="51.5" text-anchor="middle">0.8</text>
<text x="652.3" y="3006.8" fill="#000" stroke="#000" stroke-width="0.6" font-family="Noto Sans CJK KR, sans-serif" font-weight="500" font-size="51" text-anchor="middle">x (um)</text>
<text transform="translate(75.7 2582.0) rotate(-90)" x="0" y="0" fill="#000" stroke="#000" stroke-width="0.6" font-family="Noto Sans CJK KR, sans-serif" font-weight="500" font-size="51" text-anchor="middle">y (um)</text>
<text x="64.0" y="2222.0" font-family="Liberation Sans, Arial, sans-serif" font-weight="bold" font-size="75">(c)</text>
<g clip-path="url(#clip_d)"><g filter="url(#jet)"><rect x="200.4" y="3080.6" width="870.1" height="245.20" fill="url(#pv_d)"/><rect x="200.4" y="3325.80" width="870.1" height="272.30" fill="url(#mp_d)"/><rect x="200.4" y="3598.10" width="870.1" height="138.30" fill="#000"/></g></g>
<path d="M200.4 3325.80H1070.5M200.4 3598.10H1070.5M200.4 3623.10H1070.5" stroke="#ececf6" stroke-width="3.5"/>
<text x="211.5" y="3146.4" fill="#fff" font-family="Noto Sans CJK KR, sans-serif" font-weight="bold" font-size="56.0">CsPbIBr<tspan font-size="40.0" x="435.5" y="3160.1">2</tspan></text>
<text x="213.4" y="3396.4" fill="#fff" font-family="Noto Sans CJK KR, sans-serif" font-weight="bold" font-size="56.0"><tspan textLength="214" lengthAdjust="spacingAndGlyphs">mp-TiO</tspan><tspan font-size="40.0" x="429.8" y="3410.1">2</tspan></text>
<text x="215.0" y="3689.3" fill="#fff" font-family="Noto Sans CJK KR, sans-serif" font-weight="bold" font-size="56.0">FTO</text>
<text x="803.5" y="3542.9" fill="#fff" font-family="Noto Sans CJK KR, sans-serif" font-weight="bold" font-size="56.0"><tspan textLength="152" lengthAdjust="spacingAndGlyphs">c-TiO</tspan><tspan font-size="40.0" x="954.1" y="3556.6">2</tspan></text>
<path d="M757.1 3610.7L804.4 3569.2" stroke="#fff" stroke-width="4.2" stroke-linecap="round"/><path d="M816.4 3558.6L808.5 3576.9L797.3 3564.1Z" fill="#fff"/>
<text x="604.1" y="3146.4" font-family="DejaVu Serif, serif" fill="#fff" font-size="57" font-weight="bold" textLength="443.3" lengthAdjust="spacingAndGlyphs">Ⅲ <tspan font-weight="normal" stroke="#fff" stroke-width="2.1">(<tspan font-style="italic">λ</tspan> = 560 <tspan font-style="italic">nm</tspan>)</tspan></text>
<text x="187.1" y="3157.5" fill="#000" stroke="#000" stroke-width="0.6" font-family="Noto Sans CJK KR, sans-serif" font-weight="500" font-size="51.5" text-anchor="end">-1.3</text>
<text x="187.1" y="3236.6" fill="#000" stroke="#000" stroke-width="0.6" font-family="Noto Sans CJK KR, sans-serif" font-weight="500" font-size="51.5" text-anchor="end">-1.4</text>
<text x="187.1" y="3319.9" fill="#000" stroke="#000" stroke-width="0.6" font-family="Noto Sans CJK KR, sans-serif" font-weight="500" font-size="51.5" text-anchor="end">-1.5</text>
<text x="187.1" y="3399.4" fill="#000" stroke="#000" stroke-width="0.6" font-family="Noto Sans CJK KR, sans-serif" font-weight="500" font-size="51.5" text-anchor="end">-1.6</text>
<text x="187.1" y="3484.4" fill="#000" stroke="#000" stroke-width="0.6" font-family="Noto Sans CJK KR, sans-serif" font-weight="500" font-size="51.5" text-anchor="end">-1.7</text>
<text x="187.1" y="3570.1" fill="#000" stroke="#000" stroke-width="0.6" font-family="Noto Sans CJK KR, sans-serif" font-weight="500" font-size="51.5" text-anchor="end">-1.8</text>
<text x="187.1" y="3648.9" fill="#000" stroke="#000" stroke-width="0.6" font-family="Noto Sans CJK KR, sans-serif" font-weight="500" font-size="51.5" text-anchor="end">-1.9</text>
<text x="187.1" y="3732.8" fill="#000" stroke="#000" stroke-width="0.6" font-family="Noto Sans CJK KR, sans-serif" font-weight="500" font-size="51.5" text-anchor="end">-2.0</text>
<text x="251.1" y="3789.6" fill="#000" stroke="#000" stroke-width="0.6" font-family="Noto Sans CJK KR, sans-serif" font-weight="500" font-size="51.5" text-anchor="middle">-0.8</text>
<text x="346.6" y="3789.6" fill="#000" stroke="#000" stroke-width="0.6" font-family="Noto Sans CJK KR, sans-serif" font-weight="500" font-size="51.5" text-anchor="middle">-0.6</text>
<text x="440.1" y="3789.6" fill="#000" stroke="#000" stroke-width="0.6" font-family="Noto Sans CJK KR, sans-serif" font-weight="500" font-size="51.5" text-anchor="middle">-0.4</text>
<text x="534.9" y="3789.6" fill="#000" stroke="#000" stroke-width="0.6" font-family="Noto Sans CJK KR, sans-serif" font-weight="500" font-size="51.5" text-anchor="middle">-0.2</text>
<text x="635.7" y="3789.6" fill="#000" stroke="#000" stroke-width="0.6" font-family="Noto Sans CJK KR, sans-serif" font-weight="500" font-size="51.5" text-anchor="middle">0</text>
<text x="724.8" y="3789.6" fill="#000" stroke="#000" stroke-width="0.6" font-family="Noto Sans CJK KR, sans-serif" font-weight="500" font-size="51.5" text-anchor="middle">0.2</text>
<text x="819.9" y="3789.6" fill="#000" stroke="#000" stroke-width="0.6" font-family="Noto Sans CJK KR, sans-serif" font-weight="500" font-size="51.5" text-anchor="middle">0.4</text>
<text x="914.9" y="3789.6" fill="#000" stroke="#000" stroke-width="0.6" font-family="Noto Sans CJK KR, sans-serif" font-weight="500" font-size="51.5" text-anchor="middle">0.6</text>
<text x="1013.6" y="3789.6" fill="#000" stroke="#000" stroke-width="0.6" font-family="Noto Sans CJK KR, sans-serif" font-weight="500" font-size="51.5" text-anchor="middle">0.8</text>
<text x="652.5" y="3838.1" fill="#000" stroke="#000" stroke-width="0.6" font-family="Noto Sans CJK KR, sans-serif" font-weight="500" font-size="51" text-anchor="middle">x (um)</text>
<text transform="translate(75.2 3412.6) rotate(-90)" x="0" y="0" fill="#000" stroke="#000" stroke-width="0.6" font-family="Noto Sans CJK KR, sans-serif" font-weight="500" font-size="51" text-anchor="middle">y (um)</text>
<text x="64.0" y="3053.0" font-family="Liberation Sans, Arial, sans-serif" font-weight="bold" font-size="75">(d)</text>
<g clip-path="url(#clip_e)"><g filter="url(#jet)"><g filter="url(#hblur)"><rect x="1272" y="1420.3" width="3" height="245.0" fill="url(#ce0)"/><rect x="1275" y="1420.3" width="3" height="245.0" fill="url(#ce1)"/><rect x="1278" y="1420.3" width="3" height="245.0" fill="url(#ce2)"/><rect x="1281" y="1420.3" width="3" height="245.0" fill="url(#ce3)"/><rect x="1284" y="1420.3" width="3" height="245.0" fill="url(#ce4)"/><rect x="1287" y="1420.3" width="3" height="245.0" fill="url(#ce5)"/><rect x="1290" y="1420.3" width="3" height="245.0" fill="url(#ce6)"/><rect x="1293" y="1420.3" width="3" height="245.0" fill="url(#ce7)"/><rect x="1296" y="1420.3" width="3" height="245.0" fill="url(#ce8)"/><rect x="1299" y="1420.3" width="3" height="245.0" fill="url(#ce9)"/><rect x="1302" y="1420.3" width="3" height="245.0" fill="url(#ce10)"/><rect x="1305" y="1420.3" width="3" height="245.0" fill="url(#ce11)"/><rect x="1308" y="1420.3" width="3" height="245.0" fill="url(#ce12)"/><rect x="1311" y="1420.3" width="3" height="245.0" fill="url(#ce13)"/><rect x="1314" y="1420.3" width="3" height="245.0" fill="url(#ce14)"/><rect x="1317" y="1420.3" width="3" height="245.0" fill="url(#ce15)"/><rect x="1320" y="1420.3" width="3" height="245.0" fill="url(#ce16)"/><rect x="1323" y="1420.3" width="3" height="245.0" fill="url(#ce17)"/><rect x="1326" y="1420.3" width="3" height="245.0" fill="url(#ce18)"/><rect x="1329" y="1420.3" width="3" height="245.0" fill="url(#ce19)"/><rect x="1332" y="1420.3" width="3" height="245.0" fill="url(#ce20)"/><rect x="1335" y="1420.3" width="3" height="245.0" fill="url(#ce21)"/><rect x="1338" y="1420.3" width="3" height="245.0" fill="url(#ce22)"/><rect x="1341" y="1420.3" width="3" height="245.0" fill="url(#ce23)"/><rect x="1344" y="1420.3" width="3" height="245.0" fill="url(#ce24)"/><rect x="1347" y="1420.3" width="3" height="245.0" fill="url(#ce25)"/><rect x="1350" y="1420.3" width="3" height="245.0" fill="url(#ce26)"/><rect x="1353" y="1420.3" width="3" height="245.0" fill="url(#ce27)"/><rect x="1356" y="1420.3" width="3" height="245.0" fill="url(#ce28)"/><rect x="1359" y="1420.3" width="3" height="245.0" fill="url(#ce29)"/><rect x="1362" y="1420.3" width="3" height="245.0" fill="url(#ce30)"/><rect x="1365" y="1420.3" width="3" height="245.0" fill="url(#ce31)"/><rect x="1368" y="1420.3" width="3" height="245.0" fill="url(#ce32)"/><rect x="1371" y="1420.3" width="3" height="245.0" fill="url(#ce33)"/><rect x="1374" y="1420.3" width="3" height="245.0" fill="url(#ce34)"/><rect x="1377" y="1420.3" width="3" height="245.0" fill="url(#ce35)"/><rect x="1380" y="1420.3" width="3" height="245.0" fill="url(#ce36)"/><rect x="1383" y="1420.3" width="3" height="245.0" fill="url(#ce37)"/><rect x="1386" y="1420.3" width="3" height="245.0" fill="url(#ce38)"/><rect x="1389" y="1420.3" width="3" height="245.0" fill="url(#ce39)"/><rect x="1392" y="1420.3" width="3" height="245.0" fill="url(#ce40)"/><rect x="1395" y="1420.3" width="3" height="245.0" fill="url(#ce41)"/><rect x="1398" y="1420.3" width="3" height="245.0" fill="url(#ce42)"/><rect x="1401" y="1420.3" width="3" height="245.0" fill="url(#ce43)"/><rect x="1404" y="1420.3" width="3" height="245.0" fill="url(#ce44)"/><rect x="1407" y="1420.3" width="3" height="245.0" fill="url(#ce45)"/><rect x="1410" y="1420.3" width="3" height="245.0" fill="url(#ce46)"/><rect x="1413" y="1420.3" width="3" height="245.0" fill="url(#ce47)"/><rect x="1416" y="1420.3" width="3" height="245.0" fill="url(#ce48)"/><rect x="1419" y="1420.3" width="3" height="245.0" fill="url(#ce47)"/><rect x="1422" y="1420.3" width="3" height="245.0" fill="url(#ce46)"/><rect x="1425" y="1420.3" width="3" height="245.0" fill="url(#ce45)"/><rect x="1428" y="1420.3" width="3" height="245.0" fill="url(#ce44)"/><rect x="1431" y="1420.3" width="3" height="245.0" fill="url(#ce43)"/><rect x="1434" y="1420.3" width="3" height="245.0" fill="url(#ce42)"/><rect x="1437" y="1420.3" width="3" height="245.0" fill="url(#ce41)"/><rect x="1440" y="1420.3" width="3" height="245.0" fill="url(#ce40)"/><rect x="1443" y="1420.3" width="3" height="245.0" fill="url(#ce39)"/><rect x="1446" y="1420.3" width="3" height="245.0" fill="url(#ce38)"/><rect x="1449" y="1420.3" width="3" height="245.0" fill="url(#ce37)"/><rect x="1452" y="1420.3" width="3" height="245.0" fill="url(#ce36)"/><rect x="1455" y="1420.3" width="3" height="245.0" fill="url(#ce35)"/><rect x="1458" y="1420.3" width="3" height="245.0" fill="url(#ce34)"/><rect x="1461" y="1420.3" width="3" height="245.0" fill="url(#ce33)"/><rect x="1464" y="1420.3" width="3" height="245.0" fill="url(#ce32)"/><rect x="1467" y="1420.3" width="3" height="245.0" fill="url(#ce31)"/><rect x="1470" y="1420.3" width="3" height="245.0" fill="url(#ce30)"/><rect x="1473" y="1420.3" width="3" height="245.0" fill="url(#ce29)"/><rect x="1476" y="1420.3" width="3" height="245.0" fill="url(#ce28)"/><rect x="1479" y="1420.3" width="3" height="245.0" fill="url(#ce27)"/><rect x="1482" y="1420.3" width="3" height="245.0" fill="url(#ce26)"/><rect x="1485" y="1420.3" width="3" height="245.0" fill="url(#ce25)"/><rect x="1488" y="1420.3" width="3" height="245.0" fill="url(#ce24)"/><rect x="1491" y="1420.3" width="3" height="245.0" fill="url(#ce23)"/><rect x="1494" y="1420.3" width="3" height="245.0" fill="url(#ce22)"/><rect x="1497" y="1420.3" width="3" height="245.0" fill="url(#ce21)"/><rect x="1500" y="1420.3" width="3" height="245.0" fill="url(#ce20)"/><rect x="1503" y="1420.3" width="3" height="245.0" fill="url(#ce19)"/><rect x="1506" y="1420.3" width="3" height="245.0" fill="url(#ce18)"/><rect x="1509" y="1420.3" width="3" height="245.0" fill="url(#ce17)"/><rect x="1512" y="1420.3" width="3" height="245.0" fill="url(#ce16)"/><rect x="1515" y="1420.3" width="3" height="245.0" fill="url(#ce15)"/><rect x="1518" y="1420.3" width="3" height="245.0" fill="url(#ce14)"/><rect x="1521" y="1420.3" width="3" height="245.0" fill="url(#ce13)"/><rect x="1524" y="1420.3" width="3" height="245.0" fill="url(#ce12)"/><rect x="1527" y="1420.3" width="3" height="245.0" fill="url(#ce11)"/><rect x="1530" y="1420.3" width="3" height="245.0" fill="url(#ce10)"/><rect x="1533" y="1420.3" width="3" height="245.0" fill="url(#ce9)"/><rect x="1536" y="1420.3" width="3" height="245.0" fill="url(#ce8)"/><rect x="1539" y="1420.3" width="3" height="245.0" fill="url(#ce7)"/><rect x="1542" y="1420.3" width="3" height="245.0" fill="url(#ce6)"/><rect x="1545" y="1420.3" width="3" height="245.0" fill="url(#ce5)"/><rect x="1548" y="1420.3" width="3" height="245.0" fill="url(#ce4)"/><rect x="1551" y="1420.3" width="3" height="245.0" fill="url(#ce3)"/><rect x="1554" y="1420.3" width="3" height="245.0" fill="url(#ce2)"/><rect x="1557" y="1420.3" width="3" height="245.0" fill="url(#ce1)"/><rect x="1560" y="1420.3" width="6" height="245.0" fill="url(#ce0)"/><rect x="1566" y="1420.3" width="3" height="245.0" fill="url(#ce1)"/><rect x="1569" y="1420.3" width="3" height="245.0" fill="url(#ce2)"/><rect x="1572" y="1420.3" width="3" height="245.0" fill="url(#ce3)"/><rect x="1575" y="1420.3" width="3" height="245.0" fill="url(#ce4)"/><rect x="1578" y="1420.3" width="3" height="245.0" fill="url(#ce5)"/><rect x="1581" y="1420.3" width="3" height="245.0" fill="url(#ce6)"/><rect x="1584" y="1420.3" width="3" height="245.0" fill="url(#ce7)"/><rect x="1587" y="1420.3" width="3" height="245.0" fill="url(#ce8)"/><rect x="1590" y="1420.3" width="3" height="245.0" fill="url(#ce9)"/><rect x="1593" y="1420.3" width="3" height="245.0" fill="url(#ce10)"/><rect x="1596" y="1420.3" width="3" height="245.0" fill="url(#ce11)"/><rect x="1599" y="1420.3" width="3" height="245.0" fill="url(#ce12)"/><rect x="1602" y="1420.3" width="3" height="245.0" fill="url(#ce13)"/><rect x="1605" y="1420.3" width="3" height="245.0" fill="url(#ce14)"/><rect x="1608" y="1420.3" width="3" height="245.0" fill="url(#ce15)"/><rect x="1611" y="1420.3" width="3" height="245.0" fill="url(#ce16)"/><rect x="1614" y="1420.3" width="3" height="245.0" fill="url(#ce17)"/><rect x="1617" y="1420.3" width="3" height="245.0" fill="url(#ce18)"/><rect x="1620" y="1420.3" width="3" height="245.0" fill="url(#ce19)"/><rect x="1623" y="1420.3" width="3" height="245.0" fill="url(#ce20)"/><rect x="1626" y="1420.3" width="3" height="245.0" fill="url(#ce21)"/><rect x="1629" y="1420.3" width="3" height="245.0" fill="url(#ce22)"/><rect x="1632" y="1420.3" width="3" height="245.0" fill="url(#ce23)"/><rect x="1635" y="1420.3" width="3" height="245.0" fill="url(#ce24)"/><rect x="1638" y="1420.3" width="3" height="245.0" fill="url(#ce25)"/><rect x="1641" y="1420.3" width="3" height="245.0" fill="url(#ce26)"/><rect x="1644" y="1420.3" width="3" height="245.0" fill="url(#ce27)"/><rect x="1647" y="1420.3" width="3" height="245.0" fill="url(#ce49)"/><rect x="1650" y="1420.3" width="3" height="245.0" fill="url(#ce29)"/><rect x="1653" y="1420.3" width="3" height="245.0" fill="url(#ce30)"/><rect x="1656" y="1420.3" width="3" height="245.0" fill="url(#ce31)"/><rect x="1659" y="1420.3" width="3" height="245.0" fill="url(#ce32)"/><rect x="1662" y="1420.3" width="3" height="245.0" fill="url(#ce33)"/><rect x="1665" y="1420.3" width="3" height="245.0" fill="url(#ce34)"/><rect x="1668" y="1420.3" width="3" height="245.0" fill="url(#ce35)"/><rect x="1671" y="1420.3" width="3" height="245.0" fill="url(#ce36)"/><rect x="1674" y="1420.3" width="3" height="245.0" fill="url(#ce37)"/><rect x="1677" y="1420.3" width="3" height="245.0" fill="url(#ce38)"/><rect x="1680" y="1420.3" width="3" height="245.0" fill="url(#ce39)"/><rect x="1683" y="1420.3" width="3" height="245.0" fill="url(#ce40)"/><rect x="1686" y="1420.3" width="3" height="245.0" fill="url(#ce41)"/><rect x="1689" y="1420.3" width="3" height="245.0" fill="url(#ce42)"/><rect x="1692" y="1420.3" width="3" height="245.0" fill="url(#ce43)"/><rect x="1695" y="1420.3" width="3" height="245.0" fill="url(#ce44)"/><rect x="1698" y="1420.3" width="3" height="245.0" fill="url(#ce45)"/><rect x="1701" y="1420.3" width="3" height="245.0" fill="url(#ce46)"/><rect x="1704" y="1420.3" width="3" height="245.0" fill="url(#ce47)"/><rect x="1707" y="1420.3" width="3" height="245.0" fill="url(#ce48)"/><rect x="1710" y="1420.3" width="3" height="245.0" fill="url(#ce47)"/><rect x="1713" y="1420.3" width="3" height="245.0" fill="url(#ce46)"/><rect x="1716" y="1420.3" width="3" height="245.0" fill="url(#ce45)"/><rect x="1719" y="1420.3" width="3" height="245.0" fill="url(#ce44)"/><rect x="1722" y="1420.3" width="3" height="245.0" fill="url(#ce43)"/><rect x="1725" y="1420.3" width="3" height="245.0" fill="url(#ce42)"/><rect x="1728" y="1420.3" width="3" height="245.0" fill="url(#ce41)"/><rect x="1731" y="1420.3" width="3" height="245.0" fill="url(#ce40)"/><rect x="1734" y="1420.3" width="3" height="245.0" fill="url(#ce39)"/><rect x="1737" y="1420.3" width="3" height="245.0" fill="url(#ce38)"/><rect x="1740" y="1420.3" width="3" height="245.0" fill="url(#ce37)"/><rect x="1743" y="1420.3" width="3" height="245.0" fill="url(#ce36)"/><rect x="1746" y="1420.3" width="3" height="245.0" fill="url(#ce35)"/><rect x="1749" y="1420.3" width="3" height="245.0" fill="url(#ce34)"/><rect x="1752" y="1420.3" width="3" height="245.0" fill="url(#ce33)"/><rect x="1755" y="1420.3" width="3" height="245.0" fill="url(#ce32)"/><rect x="1758" y="1420.3" width="3" height="245.0" fill="url(#ce31)"/><rect x="1761" y="1420.3" width="3" height="245.0" fill="url(#ce30)"/><rect x="1764" y="1420.3" width="3" height="245.0" fill="url(#ce29)"/><rect x="1767" y="1420.3" width="3" height="245.0" fill="url(#ce28)"/><rect x="1770" y="1420.3" width="3" height="245.0" fill="url(#ce27)"/><rect x="1773" y="1420.3" width="3" height="245.0" fill="url(#ce26)"/><rect x="1776" y="1420.3" width="3" height="245.0" fill="url(#ce25)"/><rect x="1779" y="1420.3" width="3" height="245.0" fill="url(#ce24)"/><rect x="1782" y="1420.3" width="3" height="245.0" fill="url(#ce23)"/><rect x="1785" y="1420.3" width="3" height="245.0" fill="url(#ce22)"/><rect x="1788" y="1420.3" width="3" height="245.0" fill="url(#ce21)"/><rect x="1791" y="1420.3" width="3" height="245.0" fill="url(#ce20)"/><rect x="1794" y="1420.3" width="3" height="245.0" fill="url(#ce19)"/><rect x="1797" y="1420.3" width="3" height="245.0" fill="url(#ce18)"/><rect x="1800" y="1420.3" width="3" height="245.0" fill="url(#ce17)"/><rect x="1803" y="1420.3" width="3" height="245.0" fill="url(#ce16)"/><rect x="1806" y="1420.3" width="3" height="245.0" fill="url(#ce15)"/><rect x="1809" y="1420.3" width="3" height="245.0" fill="url(#ce14)"/><rect x="1812" y="1420.3" width="3" height="245.0" fill="url(#ce13)"/><rect x="1815" y="1420.3" width="3" height="245.0" fill="url(#ce12)"/><rect x="1818" y="1420.3" width="3" height="245.0" fill="url(#ce11)"/><rect x="1821" y="1420.3" width="3" height="245.0" fill="url(#ce10)"/><rect x="1824" y="1420.3" width="3" height="245.0" fill="url(#ce9)"/><rect x="1827" y="1420.3" width="3" height="245.0" fill="url(#ce8)"/><rect x="1830" y="1420.3" width="3" height="245.0" fill="url(#ce7)"/><rect x="1833" y="1420.3" width="3" height="245.0" fill="url(#ce6)"/><rect x="1836" y="1420.3" width="3" height="245.0" fill="url(#ce5)"/><rect x="1839" y="1420.3" width="3" height="245.0" fill="url(#ce4)"/><rect x="1842" y="1420.3" width="3" height="245.0" fill="url(#ce3)"/><rect x="1845" y="1420.3" width="3" height="245.0" fill="url(#ce2)"/><rect x="1848" y="1420.3" width="3" height="245.0" fill="url(#ce1)"/><rect x="1851" y="1420.3" width="3" height="245.0" fill="url(#ce0)"/><rect x="1854" y="1420.3" width="3" height="245.0" fill="url(#ce1)"/><rect x="1857" y="1420.3" width="3" height="245.0" fill="url(#ce2)"/><rect x="1860" y="1420.3" width="3" height="245.0" fill="url(#ce3)"/><rect x="1863" y="1420.3" width="3" height="245.0" fill="url(#ce4)"/><rect x="1866" y="1420.3" width="3" height="245.0" fill="url(#ce5)"/><rect x="1869" y="1420.3" width="3" height="245.0" fill="url(#ce6)"/><rect x="1872" y="1420.3" width="3" height="245.0" fill="url(#ce7)"/><rect x="1875" y="1420.3" width="3" height="245.0" fill="url(#ce8)"/><rect x="1878" y="1420.3" width="3" height="245.0" fill="url(#ce9)"/><rect x="1881" y="1420.3" width="3" height="245.0" fill="url(#ce10)"/><rect x="1884" y="1420.3" width="3" height="245.0" fill="url(#ce11)"/><rect x="1887" y="1420.3" width="3" height="245.0" fill="url(#ce12)"/><rect x="1890" y="1420.3" width="3" height="245.0" fill="url(#ce13)"/><rect x="1893" y="1420.3" width="3" height="245.0" fill="url(#ce14)"/><rect x="1896" y="1420.3" width="3" height="245.0" fill="url(#ce15)"/><rect x="1899" y="1420.3" width="3" height="245.0" fill="url(#ce16)"/><rect x="1902" y="1420.3" width="3" height="245.0" fill="url(#ce17)"/><rect x="1905" y="1420.3" width="3" height="245.0" fill="url(#ce18)"/><rect x="1908" y="1420.3" width="3" height="245.0" fill="url(#ce19)"/><rect x="1911" y="1420.3" width="3" height="245.0" fill="url(#ce20)"/><rect x="1914" y="1420.3" width="3" height="245.0" fill="url(#ce21)"/><rect x="1917" y="1420.3" width="3" height="245.0" fill="url(#ce22)"/><rect x="1920" y="1420.3" width="3" height="245.0" fill="url(#ce23)"/><rect x="1923" y="1420.3" width="3" height="245.0" fill="url(#ce24)"/><rect x="1926" y="1420.3" width="3" height="245.0" fill="url(#ce25)"/><rect x="1929" y="1420.3" width="3" height="245.0" fill="url(#ce26)"/><rect x="1932" y="1420.3" width="3" height="245.0" fill="url(#ce27)"/><rect x="1935" y="1420.3" width="3" height="245.0" fill="url(#ce28)"/><rect x="1938" y="1420.3" width="3" height="245.0" fill="url(#ce29)"/><rect x="1941" y="1420.3" width="3" height="245.0" fill="url(#ce30)"/><rect x="1944" y="1420.3" width="3" height="245.0" fill="url(#ce31)"/><rect x="1947" y="1420.3" width="3" height="245.0" fill="url(#ce32)"/><rect x="1950" y="1420.3" width="3" height="245.0" fill="url(#ce33)"/><rect x="1953" y="1420.3" width="3" height="245.0" fill="url(#ce34)"/><rect x="1956" y="1420.3" width="3" height="245.0" fill="url(#ce35)"/><rect x="1959" y="1420.3" width="3" height="245.0" fill="url(#ce36)"/><rect x="1962" y="1420.3" width="3" height="245.0" fill="url(#ce37)"/><rect x="1965" y="1420.3" width="3" height="245.0" fill="url(#ce38)"/><rect x="1968" y="1420.3" width="3" height="245.0" fill="url(#ce39)"/><rect x="1971" y="1420.3" width="3" height="245.0" fill="url(#ce40)"/><rect x="1974" y="1420.3" width="3" height="245.0" fill="url(#ce41)"/><rect x="1977" y="1420.3" width="3" height="245.0" fill="url(#ce42)"/><rect x="1980" y="1420.3" width="3" height="245.0" fill="url(#ce43)"/><rect x="1983" y="1420.3" width="3" height="245.0" fill="url(#ce44)"/><rect x="1986" y="1420.3" width="3" height="245.0" fill="url(#ce45)"/><rect x="1989" y="1420.3" width="3" height="245.0" fill="url(#ce46)"/><rect x="1992" y="1420.3" width="3" height="245.0" fill="url(#ce47)"/><rect x="1995" y="1420.3" width="3" height="245.0" fill="url(#ce48)"/><rect x="1998" y="1420.3" width="3" height="245.0" fill="url(#ce47)"/><rect x="2001" y="1420.3" width="3" height="245.0" fill="url(#ce46)"/><rect x="2004" y="1420.3" width="3" height="245.0" fill="url(#ce45)"/><rect x="2007" y="1420.3" width="3" height="245.0" fill="url(#ce44)"/><rect x="2010" y="1420.3" width="3" height="245.0" fill="url(#ce43)"/><rect x="2013" y="1420.3" width="3" height="245.0" fill="url(#ce42)"/><rect x="2016" y="1420.3" width="3" height="245.0" fill="url(#ce41)"/><rect x="2019" y="1420.3" width="3" height="245.0" fill="url(#ce40)"/><rect x="2022" y="1420.3" width="3" height="245.0" fill="url(#ce39)"/><rect x="2025" y="1420.3" width="3" height="245.0" fill="url(#ce38)"/><rect x="2028" y="1420.3" width="3" height="245.0" fill="url(#ce37)"/><rect x="2031" y="1420.3" width="3" height="245.0" fill="url(#ce36)"/><rect x="2034" y="1420.3" width="3" height="245.0" fill="url(#ce35)"/><rect x="2037" y="1420.3" width="3" height="245.0" fill="url(#ce34)"/><rect x="2040" y="1420.3" width="3" height="245.0" fill="url(#ce33)"/><rect x="2043" y="1420.3" width="3" height="245.0" fill="url(#ce32)"/><rect x="2046" y="1420.3" width="3" height="245.0" fill="url(#ce31)"/><rect x="2049" y="1420.3" width="3" height="245.0" fill="url(#ce30)"/><rect x="2052" y="1420.3" width="3" height="245.0" fill="url(#ce29)"/><rect x="2055" y="1420.3" width="3" height="245.0" fill="url(#ce49)"/><rect x="2058" y="1420.3" width="3" height="245.0" fill="url(#ce27)"/><rect x="2061" y="1420.3" width="3" height="245.0" fill="url(#ce26)"/><rect x="2064" y="1420.3" width="3" height="245.0" fill="url(#ce25)"/><rect x="2067" y="1420.3" width="3" height="245.0" fill="url(#ce24)"/><rect x="2070" y="1420.3" width="3" height="245.0" fill="url(#ce23)"/><rect x="2073" y="1420.3" width="3" height="245.0" fill="url(#ce22)"/><rect x="2076" y="1420.3" width="3" height="245.0" fill="url(#ce21)"/><rect x="2079" y="1420.3" width="3" height="245.0" fill="url(#ce20)"/><rect x="2082" y="1420.3" width="3" height="245.0" fill="url(#ce19)"/><rect x="2085" y="1420.3" width="3" height="245.0" fill="url(#ce18)"/><rect x="2088" y="1420.3" width="3" height="245.0" fill="url(#ce17)"/><rect x="2091" y="1420.3" width="3" height="245.0" fill="url(#ce16)"/><rect x="2094" y="1420.3" width="3" height="245.0" fill="url(#ce15)"/><rect x="2097" y="1420.3" width="3" height="245.0" fill="url(#ce14)"/><rect x="2100" y="1420.3" width="3" height="245.0" fill="url(#ce13)"/><rect x="2103" y="1420.3" width="3" height="245.0" fill="url(#ce12)"/><rect x="2106" y="1420.3" width="3" height="245.0" fill="url(#ce11)"/><rect x="2109" y="1420.3" width="3" height="245.0" fill="url(#ce10)"/><rect x="2112" y="1420.3" width="3" height="245.0" fill="url(#ce9)"/><rect x="2115" y="1420.3" width="3" height="245.0" fill="url(#ce8)"/><rect x="2118" y="1420.3" width="3" height="245.0" fill="url(#ce7)"/><rect x="2121" y="1420.3" width="3" height="245.0" fill="url(#ce6)"/><rect x="2124" y="1420.3" width="3" height="245.0" fill="url(#ce5)"/><rect x="2127" y="1420.3" width="3" height="245.0" fill="url(#ce4)"/><rect x="2130" y="1420.3" width="3" height="245.0" fill="url(#ce3)"/><rect x="2133" y="1420.3" width="3" height="245.0" fill="url(#ce2)"/><rect x="2136" y="1420.3" width="3" height="245.0" fill="url(#ce1)"/><rect x="2139" y="1420.3" width="6" height="245.0" fill="url(#ce0)"/></g><rect x="1272.3" y="1664.12" width="870.6" height="215.38" fill="url(#mp_e)"/><rect x="1272.3" y="1879.50" width="870.6" height="191.00" fill="#000"/><rect x="1357.90" y="1582.85" width="119.00" height="81.28" fill="#080808"/><rect x="1648.10" y="1582.85" width="119.00" height="81.28" fill="#080808"/><rect x="1938.30" y="1582.85" width="119.00" height="81.28" fill="#080808"/></g></g>
<path d="M1272.3 1664.12H1357.90V1582.85H1476.90V1664.12H1648.10V1582.85H1767.10V1664.12H1938.30V1582.85H2057.30V1664.12H2142.9M1272.3 1879.50H2142.9M1272.3 1903.89H2142.9" stroke="#ececf6" stroke-width="3.3" fill="none" stroke-linejoin="miter"/>
<text x="1289.1" y="1488.7" fill="#fff" font-family="Noto Sans CJK KR, sans-serif" font-weight="bold" font-size="56.0">CsPbIBr<tspan font-size="40.0" x="1507.0" y="1502.4">2</tspan></text>
<text x="1286.0" y="1733.8" fill="#fff" font-family="Noto Sans CJK KR, sans-serif" font-weight="bold" font-size="56.0"><tspan textLength="214" lengthAdjust="spacingAndGlyphs">mp-TiO</tspan><tspan font-size="40.0" x="1499.7" y="1747.5">2</tspan></text>
<text x="1292.3" y="1968.5" fill="#fff" font-family="Noto Sans CJK KR, sans-serif" font-weight="bold" font-size="56.0">FTO</text>
<text x="1896.8" y="1819.8" fill="#fff" font-family="Noto Sans CJK KR, sans-serif" font-weight="bold" font-size="56.0"><tspan textLength="152" lengthAdjust="spacingAndGlyphs">c-TiO</tspan><tspan font-size="40.0" x="2047.0" y="1833.5">2</tspan></text>
<path d="M1851.1 1888.0L1899.3 1845.0" stroke="#fff" stroke-width="4.2" stroke-linecap="round"/><path d="M1911.2 1834.4L1903.4 1852.7L1892.1 1840.0Z" fill="#fff"/>
<text x="1715.0" y="1487.3" font-family="DejaVu Serif, serif" fill="#fff" font-size="57" font-weight="bold" textLength="411.0" lengthAdjust="spacingAndGlyphs">Ⅰ <tspan font-weight="normal" stroke="#fff" stroke-width="2.1">(<tspan font-style="italic">λ</tspan> = 380 <tspan font-style="italic">nm</tspan>)</tspan></text>
<text x="1262.2" y="1441.1" fill="#000" stroke="#000" stroke-width="0.6" font-family="Noto Sans CJK KR, sans-serif" font-weight="500" font-size="51.5" text-anchor="end">-1.3</text>
<text x="1262.2" y="1522.3" fill="#000" stroke="#000" stroke-width="0.6" font-family="Noto Sans CJK KR, sans-serif" font-weight="500" font-size="51.5" text-anchor="end">-1.4</text>
<text x="1262.2" y="1605.0" fill="#000" stroke="#000" stroke-width="0.6" font-family="Noto Sans CJK KR, sans-serif" font-weight="500" font-size="51.5" text-anchor="end">-1.5</text>
<text x="1262.2" y="1686.1" fill="#000" stroke="#000" stroke-width="0.6" font-family="Noto Sans CJK KR, sans-serif" font-weight="500" font-size="51.5" text-anchor="end">-1.6</text>
<text x="1262.2" y="1767.3" fill="#000" stroke="#000" stroke-width="0.6" font-family="Noto Sans CJK KR, sans-serif" font-weight="500" font-size="51.5" text-anchor="end">-1.7</text>
<text x="1262.2" y="1850.0" fill="#000" stroke="#000" stroke-width="0.6" font-family="Noto Sans CJK KR, sans-serif" font-weight="500" font-size="51.5" text-anchor="end">-1.8</text>
<text x="1262.2" y="1931.9" fill="#000" stroke="#000" stroke-width="0.6" font-family="Noto Sans CJK KR, sans-serif" font-weight="500" font-size="51.5" text-anchor="end">-1.9</text>
<text x="1262.2" y="2013.1" fill="#000" stroke="#000" stroke-width="0.6" font-family="Noto Sans CJK KR, sans-serif" font-weight="500" font-size="51.5" text-anchor="end">-2.0</text>
<text x="1262.2" y="2095.0" fill="#000" stroke="#000" stroke-width="0.6" font-family="Noto Sans CJK KR, sans-serif" font-weight="500" font-size="51.5" text-anchor="end">-2.1</text>
<text x="1325.3" y="2122.9" fill="#000" stroke="#000" stroke-width="0.6" font-family="Noto Sans CJK KR, sans-serif" font-weight="500" font-size="51.5" text-anchor="middle">-0.8</text>
<text x="1420.8" y="2122.9" fill="#000" stroke="#000" stroke-width="0.6" font-family="Noto Sans CJK KR, sans-serif" font-weight="500" font-size="51.5" text-anchor="middle">-0.6</text>
<text x="1514.3" y="2122.9" fill="#000" stroke="#000" stroke-width="0.6" font-family="Noto Sans CJK KR, sans-serif" font-weight="500" font-size="51.5" text-anchor="middle">-0.4</text>
<text x="1609.3" y="2122.9" fill="#000" stroke="#000" stroke-width="0.6" font-family="Noto Sans CJK KR, sans-serif" font-weight="500" font-size="51.5" text-anchor="middle">-0.2</text>
<text x="1708.5" y="2122.9" fill="#000" stroke="#000" stroke-width="0.6" font-family="Noto Sans CJK KR, sans-serif" font-weight="500" font-size="51.5" text-anchor="middle">0</text>
<text x="1800.0" y="2122.9" fill="#000" stroke="#000" stroke-width="0.6" font-family="Noto Sans CJK KR, sans-serif" font-weight="500" font-size="51.5" text-anchor="middle">0.2</text>
<text x="1896.3" y="2122.9" fill="#000" stroke="#000" stroke-width="0.6" font-family="Noto Sans CJK KR, sans-serif" font-weight="500" font-size="51.5" text-anchor="middle">0.4</text>
<text x="1991.0" y="2122.9" fill="#000" stroke="#000" stroke-width="0.6" font-family="Noto Sans CJK KR, sans-serif" font-weight="500" font-size="51.5" text-anchor="middle">0.6</text>
<text x="2089.3" y="2122.9" fill="#000" stroke="#000" stroke-width="0.6" font-family="Noto Sans CJK KR, sans-serif" font-weight="500" font-size="51.5" text-anchor="middle">0.8</text>
<text x="1729.6" y="2171.4" fill="#000" stroke="#000" stroke-width="0.6" font-family="Noto Sans CJK KR, sans-serif" font-weight="500" font-size="51" text-anchor="middle">x (um)</text>
<text transform="translate(1156.0 1741.4) rotate(-90)" x="0" y="0" fill="#000" stroke="#000" stroke-width="0.6" font-family="Noto Sans CJK KR, sans-serif" font-weight="500" font-size="51" text-anchor="middle">y (um)</text>
<text x="1132.0" y="1357.0" font-family="Liberation Sans, Arial, sans-serif" font-weight="bold" font-size="75">(e)</text>
<g clip-path="url(#clip_f)"><g filter="url(#jet)"><g filter="url(#hblur)"><rect x="1267" y="2249.1" width="3" height="246.0" fill="url(#cf0)"/><rect x="1270" y="2249.1" width="3" height="246.0" fill="url(#cf1)"/><rect x="1273" y="2249.1" width="3" height="246.0" fill="url(#cf2)"/><rect x="1276" y="2249.1" width="3" height="246.0" fill="url(#cf3)"/><rect x="1279" y="2249.1" width="3" height="246.0" fill="url(#cf4)"/><rect x="1282" y="2249.1" width="3" height="246.0" fill="url(#cf5)"/><rect x="1285" y="2249.1" width="3" height="246.0" fill="url(#cf6)"/><rect x="1288" y="2249.1" width="3" height="246.0" fill="url(#cf7)"/><rect x="1291" y="2249.1" width="3" height="246.0" fill="url(#cf8)"/><rect x="1294" y="2249.1" width="3" height="246.0" fill="url(#cf9)"/><rect x="1297" y="2249.1" width="3" height="246.0" fill="url(#cf10)"/><rect x="1300" y="2249.1" width="3" height="246.0" fill="url(#cf11)"/><rect x="1303" y="2249.1" width="3" height="246.0" fill="url(#cf12)"/><rect x="1306" y="2249.1" width="3" height="246.0" fill="url(#cf13)"/><rect x="1309" y="2249.1" width="3" height="246.0" fill="url(#cf14)"/><rect x="1312" y="2249.1" width="3" height="246.0" fill="url(#cf15)"/><rect x="1315" y="2249.1" width="3" height="246.0" fill="url(#cf16)"/><rect x="1318" y="2249.1" width="3" height="246.0" fill="url(#cf17)"/><rect x="1321" y="2249.1" width="3" height="246.0" fill="url(#cf18)"/><rect x="1324" y="2249.1" width="3" height="246.0" fill="url(#cf19)"/><rect x="1327" y="2249.1" width="3" height="246.0" fill="url(#cf20)"/><rect x="1330" y="2249.1" width="3" height="246.0" fill="url(#cf21)"/><rect x="1333" y="2249.1" width="3" height="246.0" fill="url(#cf22)"/><rect x="1336" y="2249.1" width="3" height="246.0" fill="url(#cf23)"/><rect x="1339" y="2249.1" width="3" height="246.0" fill="url(#cf24)"/><rect x="1342" y="2249.1" width="3" height="246.0" fill="url(#cf25)"/><rect x="1345" y="2249.1" width="3" height="246.0" fill="url(#cf26)"/><rect x="1348" y="2249.1" width="3" height="246.0" fill="url(#cf27)"/><rect x="1351" y="2249.1" width="3" height="246.0" fill="url(#cf28)"/><rect x="1354" y="2249.1" width="3" height="246.0" fill="url(#cf29)"/><rect x="1357" y="2249.1" width="3" height="246.0" fill="url(#cf30)"/><rect x="1360" y="2249.1" width="3" height="246.0" fill="url(#cf31)"/><rect x="1363" y="2249.1" width="3" height="246.0" fill="url(#cf32)"/><rect x="1366" y="2249.1" width="3" height="246.0" fill="url(#cf33)"/><rect x="1369" y="2249.1" width="3" height="246.0" fill="url(#cf34)"/><rect x="1372" y="2249.1" width="3" height="246.0" fill="url(#cf35)"/><rect x="1375" y="2249.1" width="3" height="246.0" fill="url(#cf36)"/><rect x="1378" y="2249.1" width="3" height="246.0" fill="url(#cf37)"/><rect x="1381" y="2249.1" width="3" height="246.0" fill="url(#cf38)"/><rect x="1384" y="2249.1" width="3" height="246.0" fill="url(#cf39)"/><rect x="1387" y="2249.1" width="3" height="246.0" fill="url(#cf40)"/><rect x="1390" y="2249.1" width="3" height="246.0" fill="url(#cf41)"/><rect x="1393" y="2249.1" width="3" height="246.0" fill="url(#cf42)"/><rect x="1396" y="2249.1" width="3" height="246.0" fill="url(#cf43)"/><rect x="1399" y="2249.1" width="3" height="246.0" fill="url(#cf44)"/><rect x="1402" y="2249.1" width="3" height="246.0" fill="url(#cf45)"/><rect x="1405" y="2249.1" width="3" height="246.0" fill="url(#cf46)"/><rect x="1408" y="2249.1" width="3" height="246.0" fill="url(#cf47)"/><rect x="1411" y="2249.1" width="3" height="246.0" fill="url(#cf48)"/><rect x="1414" y="2249.1" width="3" height="246.0" fill="url(#cf47)"/><rect x="1417" y="2249.1" width="3" height="246.0" fill="url(#cf46)"/><rect x="1420" y="2249.1" width="3" height="246.0" fill="url(#cf45)"/><rect x="1423" y="2249.1" width="3" height="246.0" fill="url(#cf44)"/><rect x="1426" y="2249.1" width="3" height="246.0" fill="url(#cf43)"/><rect x="1429" y="2249.1" width="3" height="246.0" fill="url(#cf42)"/><rect x="1432" y="2249.1" width="3" height="246.0" fill="url(#cf41)"/><rect x="1435" y="2249.1" width="3" height="246.0" fill="url(#cf40)"/><rect x="1438" y="2249.1" width="3" height="246.0" fill="url(#cf39)"/><rect x="1441" y="2249.1" width="3" height="246.0" fill="url(#cf38)"/><rect x="1444" y="2249.1" width="3" height="246.0" fill="url(#cf37)"/><rect x="1447" y="2249.1" width="3" height="246.0" fill="url(#cf36)"/><rect x="1450" y="2249.1" width="3" height="246.0" fill="url(#cf35)"/><rect x="1453" y="2249.1" width="3" height="246.0" fill="url(#cf34)"/><rect x="1456" y="2249.1" width="3" height="246.0" fill="url(#cf33)"/><rect x="1459" y="2249.1" width="3" height="246.0" fill="url(#cf32)"/><rect x="1462" y="2249.1" width="3" height="246.0" fill="url(#cf31)"/><rect x="1465" y="2249.1" width="3" height="246.0" fill="url(#cf30)"/><rect x="1468" y="2249.1" width="3" height="246.0" fill="url(#cf29)"/><rect x="1471" y="2249.1" width="3" height="246.0" fill="url(#cf28)"/><rect x="1474" y="2249.1" width="3" height="246.0" fill="url(#cf27)"/><rect x="1477" y="2249.1" width="3" height="246.0" fill="url(#cf26)"/><rect x="1480" y="2249.1" width="3" height="246.0" fill="url(#cf25)"/><rect x="1483" y="2249.1" width="3" height="246.0" fill="url(#cf24)"/><rect x="1486" y="2249.1" width="3" height="246.0" fill="url(#cf23)"/><rect x="1489" y="2249.1" width="3" height="246.0" fill="url(#cf22)"/><rect x="1492" y="2249.1" width="3" height="246.0" fill="url(#cf21)"/><rect x="1495" y="2249.1" width="3" height="246.0" fill="url(#cf20)"/><rect x="1498" y="2249.1" width="3" height="246.0" fill="url(#cf19)"/><rect x="1501" y="2249.1" width="3" height="246.0" fill="url(#cf18)"/><rect x="1504" y="2249.1" width="3" height="246.0" fill="url(#cf17)"/><rect x="1507" y="2249.1" width="3" height="246.0" fill="url(#cf16)"/><rect x="1510" y="2249.1" width="3" height="246.0" fill="url(#cf15)"/><rect x="1513" y="2249.1" width="3" height="246.0" fill="url(#cf14)"/><rect x="1516" y="2249.1" width="3" height="246.0" fill="url(#cf13)"/><rect x="1519" y="2249.1" width="3" height="246.0" fill="url(#cf12)"/><rect x="1522" y="2249.1" width="3" height="246.0" fill="url(#cf11)"/><rect x="1525" y="2249.1" width="3" height="246.0" fill="url(#cf10)"/><rect x="1528" y="2249.1" width="3" height="246.0" fill="url(#cf9)"/><rect x="1531" y="2249.1" width="3" height="246.0" fill="url(#cf8)"/><rect x="1534" y="2249.1" width="3" height="246.0" fill="url(#cf7)"/><rect x="1537" y="2249.1" width="3" height="246.0" fill="url(#cf6)"/><rect x="1540" y="2249.1" width="3" height="246.0" fill="url(#cf5)"/><rect x="1543" y="2249.1" width="3" height="246.0" fill="url(#cf4)"/><rect x="1546" y="2249.1" width="3" height="246.0" fill="url(#cf3)"/><rect x="1549" y="2249.1" width="3" height="246.0" fill="url(#cf2)"/><rect x="1552" y="2249.1" width="3" height="246.0" fill="url(#cf1)"/><rect x="1555" y="2249.1" width="6" height="246.0" fill="url(#cf0)"/><rect x="1561" y="2249.1" width="3" height="246.0" fill="url(#cf1)"/><rect x="1564" y="2249.1" width="3" height="246.0" fill="url(#cf2)"/><rect x="1567" y="2249.1" width="3" height="246.0" fill="url(#cf3)"/><rect x="1570" y="2249.1" width="3" height="246.0" fill="url(#cf4)"/><rect x="1573" y="2249.1" width="3" height="246.0" fill="url(#cf5)"/><rect x="1576" y="2249.1" width="3" height="246.0" fill="url(#cf6)"/><rect x="1579" y="2249.1" width="3" height="246.0" fill="url(#cf7)"/><rect x="1582" y="2249.1" width="3" height="246.0" fill="url(#cf8)"/><rect x="1585" y="2249.1" width="3" height="246.0" fill="url(#cf9)"/><rect x="1588" y="2249.1" width="3" height="246.0" fill="url(#cf10)"/><rect x="1591" y="2249.1" width="3" height="246.0" fill="url(#cf11)"/><rect x="1594" y="2249.1" width="3" height="246.0" fill="url(#cf12)"/><rect x="1597" y="2249.1" width="3" height="246.0" fill="url(#cf13)"/><rect x="1600" y="2249.1" width="3" height="246.0" fill="url(#cf14)"/><rect x="1603" y="2249.1" width="3" height="246.0" fill="url(#cf15)"/><rect x="1606" y="2249.1" width="3" height="246.0" fill="url(#cf16)"/><rect x="1609" y="2249.1" width="3" height="246.0" fill="url(#cf17)"/><rect x="1612" y="2249.1" width="3" height="246.0" fill="url(#cf18)"/><rect x="1615" y="2249.1" width="3" height="246.0" fill="url(#cf19)"/><rect x="1618" y="2249.1" width="3" height="246.0" fill="url(#cf20)"/><rect x="1621" y="2249.1" width="3" height="246.0" fill="url(#cf21)"/><rect x="1624" y="2249.1" width="3" height="246.0" fill="url(#cf22)"/><rect x="1627" y="2249.1" width="3" height="246.0" fill="url(#cf23)"/><rect x="1630" y="2249.1" width="3" height="246.0" fill="url(#cf24)"/><rect x="1633" y="2249.1" width="3" height="246.0" fill="url(#cf25)"/><rect x="1636" y="2249.1" width="3" height="246.0" fill="url(#cf26)"/><rect x="1639" y="2249.1" width="3" height="246.0" fill="url(#cf27)"/><rect x="1642" y="2249.1" width="3" height="246.0" fill="url(#cf28)"/><rect x="1645" y="2249.1" width="3" height="246.0" fill="url(#cf29)"/><rect x="1648" y="2249.1" width="3" height="246.0" fill="url(#cf30)"/><rect x="1651" y="2249.1" width="3" height="246.0" fill="url(#cf31)"/><rect x="1654" y="2249.1" width="3" height="246.0" fill="url(#cf32)"/><rect x="1657" y="2249.1" width="3" height="246.0" fill="url(#cf33)"/><rect x="1660" y="2249.1" width="3" height="246.0" fill="url(#cf34)"/><rect x="1663" y="2249.1" width="3" height="246.0" fill="url(#cf35)"/><rect x="1666" y="2249.1" width="3" height="246.0" fill="url(#cf36)"/><rect x="1669" y="2249.1" width="3" height="246.0" fill="url(#cf37)"/><rect x="1672" y="2249.1" width="3" height="246.0" fill="url(#cf38)"/><rect x="1675" y="2249.1" width="3" height="246.0" fill="url(#cf39)"/><rect x="1678" y="2249.1" width="3" height="246.0" fill="url(#cf40)"/><rect x="1681" y="2249.1" width="3" height="246.0" fill="url(#cf41)"/><rect x="1684" y="2249.1" width="3" height="246.0" fill="url(#cf42)"/><rect x="1687" y="2249.1" width="3" height="246.0" fill="url(#cf43)"/><rect x="1690" y="2249.1" width="3" height="246.0" fill="url(#cf44)"/><rect x="1693" y="2249.1" width="3" height="246.0" fill="url(#cf45)"/><rect x="1696" y="2249.1" width="3" height="246.0" fill="url(#cf46)"/><rect x="1699" y="2249.1" width="3" height="246.0" fill="url(#cf47)"/><rect x="1702" y="2249.1" width="3" height="246.0" fill="url(#cf48)"/><rect x="1705" y="2249.1" width="3" height="246.0" fill="url(#cf47)"/><rect x="1708" y="2249.1" width="3" height="246.0" fill="url(#cf46)"/><rect x="1711" y="2249.1" width="3" height="246.0" fill="url(#cf45)"/><rect x="1714" y="2249.1" width="3" height="246.0" fill="url(#cf44)"/><rect x="1717" y="2249.1" width="3" height="246.0" fill="url(#cf43)"/><rect x="1720" y="2249.1" width="3" height="246.0" fill="url(#cf42)"/><rect x="1723" y="2249.1" width="3" height="246.0" fill="url(#cf41)"/><rect x="1726" y="2249.1" width="3" height="246.0" fill="url(#cf40)"/><rect x="1729" y="2249.1" width="3" height="246.0" fill="url(#cf39)"/><rect x="1732" y="2249.1" width="3" height="246.0" fill="url(#cf38)"/><rect x="1735" y="2249.1" width="3" height="246.0" fill="url(#cf37)"/><rect x="1738" y="2249.1" width="3" height="246.0" fill="url(#cf36)"/><rect x="1741" y="2249.1" width="3" height="246.0" fill="url(#cf35)"/><rect x="1744" y="2249.1" width="3" height="246.0" fill="url(#cf34)"/><rect x="1747" y="2249.1" width="3" height="246.0" fill="url(#cf33)"/><rect x="1750" y="2249.1" width="3" height="246.0" fill="url(#cf32)"/><rect x="1753" y="2249.1" width="3" height="246.0" fill="url(#cf31)"/><rect x="1756" y="2249.1" width="3" height="246.0" fill="url(#cf30)"/><rect x="1759" y="2249.1" width="3" height="246.0" fill="url(#cf29)"/><rect x="1762" y="2249.1" width="3" height="246.0" fill="url(#cf28)"/><rect x="1765" y="2249.1" width="3" height="246.0" fill="url(#cf27)"/><rect x="1768" y="2249.1" width="3" height="246.0" fill="url(#cf26)"/><rect x="1771" y="2249.1" width="3" height="246.0" fill="url(#cf25)"/><rect x="1774" y="2249.1" width="3" height="246.0" fill="url(#cf24)"/><rect x="1777" y="2249.1" width="3" height="246.0" fill="url(#cf23)"/><rect x="1780" y="2249.1" width="3" height="246.0" fill="url(#cf22)"/><rect x="1783" y="2249.1" width="3" height="246.0" fill="url(#cf21)"/><rect x="1786" y="2249.1" width="3" height="246.0" fill="url(#cf20)"/><rect x="1789" y="2249.1" width="3" height="246.0" fill="url(#cf19)"/><rect x="1792" y="2249.1" width="3" height="246.0" fill="url(#cf18)"/><rect x="1795" y="2249.1" width="3" height="246.0" fill="url(#cf17)"/><rect x="1798" y="2249.1" width="3" height="246.0" fill="url(#cf16)"/><rect x="1801" y="2249.1" width="3" height="246.0" fill="url(#cf15)"/><rect x="1804" y="2249.1" width="3" height="246.0" fill="url(#cf14)"/><rect x="1807" y="2249.1" width="3" height="246.0" fill="url(#cf13)"/><rect x="1810" y="2249.1" width="3" height="246.0" fill="url(#cf12)"/><rect x="1813" y="2249.1" width="3" height="246.0" fill="url(#cf11)"/><rect x="1816" y="2249.1" width="3" height="246.0" fill="url(#cf10)"/><rect x="1819" y="2249.1" width="3" height="246.0" fill="url(#cf9)"/><rect x="1822" y="2249.1" width="3" height="246.0" fill="url(#cf8)"/><rect x="1825" y="2249.1" width="3" height="246.0" fill="url(#cf7)"/><rect x="1828" y="2249.1" width="3" height="246.0" fill="url(#cf6)"/><rect x="1831" y="2249.1" width="3" height="246.0" fill="url(#cf5)"/><rect x="1834" y="2249.1" width="3" height="246.0" fill="url(#cf4)"/><rect x="1837" y="2249.1" width="3" height="246.0" fill="url(#cf3)"/><rect x="1840" y="2249.1" width="3" height="246.0" fill="url(#cf2)"/><rect x="1843" y="2249.1" width="3" height="246.0" fill="url(#cf1)"/><rect x="1846" y="2249.1" width="6" height="246.0" fill="url(#cf0)"/><rect x="1852" y="2249.1" width="3" height="246.0" fill="url(#cf1)"/><rect x="1855" y="2249.1" width="3" height="246.0" fill="url(#cf2)"/><rect x="1858" y="2249.1" width="3" height="246.0" fill="url(#cf3)"/><rect x="1861" y="2249.1" width="3" height="246.0" fill="url(#cf4)"/><rect x="1864" y="2249.1" width="3" height="246.0" fill="url(#cf5)"/><rect x="1867" y="2249.1" width="3" height="246.0" fill="url(#cf6)"/><rect x="1870" y="2249.1" width="3" height="246.0" fill="url(#cf7)"/><rect x="1873" y="2249.1" width="3" height="246.0" fill="url(#cf8)"/><rect x="1876" y="2249.1" width="3" height="246.0" fill="url(#cf9)"/><rect x="1879" y="2249.1" width="3" height="246.0" fill="url(#cf10)"/><rect x="1882" y="2249.1" width="3" height="246.0" fill="url(#cf11)"/><rect x="1885" y="2249.1" width="3" height="246.0" fill="url(#cf12)"/><rect x="1888" y="2249.1" width="3" height="246.0" fill="url(#cf13)"/><rect x="1891" y="2249.1" width="3" height="246.0" fill="url(#cf14)"/><rect x="1894" y="2249.1" width="3" height="246.0" fill="url(#cf15)"/><rect x="1897" y="2249.1" width="3" height="246.0" fill="url(#cf16)"/><rect x="1900" y="2249.1" width="3" height="246.0" fill="url(#cf17)"/><rect x="1903" y="2249.1" width="3" height="246.0" fill="url(#cf18)"/><rect x="1906" y="2249.1" width="3" height="246.0" fill="url(#cf19)"/><rect x="1909" y="2249.1" width="3" height="246.0" fill="url(#cf20)"/><rect x="1912" y="2249.1" width="3" height="246.0" fill="url(#cf21)"/><rect x="1915" y="2249.1" width="3" height="246.0" fill="url(#cf22)"/><rect x="1918" y="2249.1" width="3" height="246.0" fill="url(#cf23)"/><rect x="1921" y="2249.1" width="3" height="246.0" fill="url(#cf24)"/><rect x="1924" y="2249.1" width="3" height="246.0" fill="url(#cf25)"/><rect x="1927" y="2249.1" width="3" height="246.0" fill="url(#cf26)"/><rect x="1930" y="2249.1" width="3" height="246.0" fill="url(#cf27)"/><rect x="1933" y="2249.1" width="3" height="246.0" fill="url(#cf49)"/><rect x="1936" y="2249.1" width="3" height="246.0" fill="url(#cf29)"/><rect x="1939" y="2249.1" width="3" height="246.0" fill="url(#cf30)"/><rect x="1942" y="2249.1" width="3" height="246.0" fill="url(#cf31)"/><rect x="1945" y="2249.1" width="3" height="246.0" fill="url(#cf32)"/><rect x="1948" y="2249.1" width="3" height="246.0" fill="url(#cf33)"/><rect x="1951" y="2249.1" width="3" height="246.0" fill="url(#cf34)"/><rect x="1954" y="2249.1" width="3" height="246.0" fill="url(#cf35)"/><rect x="1957" y="2249.1" width="3" height="246.0" fill="url(#cf36)"/><rect x="1960" y="2249.1" width="3" height="246.0" fill="url(#cf37)"/><rect x="1963" y="2249.1" width="3" height="246.0" fill="url(#cf38)"/><rect x="1966" y="2249.1" width="3" height="246.0" fill="url(#cf39)"/><rect x="1969" y="2249.1" width="3" height="246.0" fill="url(#cf40)"/><rect x="1972" y="2249.1" width="3" height="246.0" fill="url(#cf41)"/><rect x="1975" y="2249.1" width="3" height="246.0" fill="url(#cf42)"/><rect x="1978" y="2249.1" width="3" height="246.0" fill="url(#cf43)"/><rect x="1981" y="2249.1" width="3" height="246.0" fill="url(#cf44)"/><rect x="1984" y="2249.1" width="3" height="246.0" fill="url(#cf45)"/><rect x="1987" y="2249.1" width="3" height="246.0" fill="url(#cf46)"/><rect x="1990" y="2249.1" width="3" height="246.0" fill="url(#cf47)"/><rect x="1993" y="2249.1" width="3" height="246.0" fill="url(#cf48)"/><rect x="1996" y="2249.1" width="3" height="246.0" fill="url(#cf47)"/><rect x="1999" y="2249.1" width="3" height="246.0" fill="url(#cf46)"/><rect x="2002" y="2249.1" width="3" height="246.0" fill="url(#cf45)"/><rect x="2005" y="2249.1" width="3" height="246.0" fill="url(#cf44)"/><rect x="2008" y="2249.1" width="3" height="246.0" fill="url(#cf43)"/><rect x="2011" y="2249.1" width="3" height="246.0" fill="url(#cf42)"/><rect x="2014" y="2249.1" width="3" height="246.0" fill="url(#cf41)"/><rect x="2017" y="2249.1" width="3" height="246.0" fill="url(#cf40)"/><rect x="2020" y="2249.1" width="3" height="246.0" fill="url(#cf39)"/><rect x="2023" y="2249.1" width="3" height="246.0" fill="url(#cf38)"/><rect x="2026" y="2249.1" width="3" height="246.0" fill="url(#cf37)"/><rect x="2029" y="2249.1" width="3" height="246.0" fill="url(#cf36)"/><rect x="2032" y="2249.1" width="3" height="246.0" fill="url(#cf35)"/><rect x="2035" y="2249.1" width="3" height="246.0" fill="url(#cf34)"/><rect x="2038" y="2249.1" width="3" height="246.0" fill="url(#cf33)"/><rect x="2041" y="2249.1" width="3" height="246.0" fill="url(#cf32)"/><rect x="2044" y="2249.1" width="3" height="246.0" fill="url(#cf31)"/><rect x="2047" y="2249.1" width="3" height="246.0" fill="url(#cf30)"/><rect x="2050" y="2249.1" width="3" height="246.0" fill="url(#cf29)"/><rect x="2053" y="2249.1" width="3" height="246.0" fill="url(#cf28)"/><rect x="2056" y="2249.1" width="3" height="246.0" fill="url(#cf27)"/><rect x="2059" y="2249.1" width="3" height="246.0" fill="url(#cf26)"/><rect x="2062" y="2249.1" width="3" height="246.0" fill="url(#cf25)"/><rect x="2065" y="2249.1" width="3" height="246.0" fill="url(#cf24)"/><rect x="2068" y="2249.1" width="3" height="246.0" fill="url(#cf23)"/><rect x="2071" y="2249.1" width="3" height="246.0" fill="url(#cf22)"/><rect x="2074" y="2249.1" width="3" height="246.0" fill="url(#cf21)"/><rect x="2077" y="2249.1" width="3" height="246.0" fill="url(#cf20)"/><rect x="2080" y="2249.1" width="3" height="246.0" fill="url(#cf19)"/><rect x="2083" y="2249.1" width="3" height="246.0" fill="url(#cf18)"/><rect x="2086" y="2249.1" width="3" height="246.0" fill="url(#cf17)"/><rect x="2089" y="2249.1" width="3" height="246.0" fill="url(#cf16)"/><rect x="2092" y="2249.1" width="3" height="246.0" fill="url(#cf15)"/><rect x="2095" y="2249.1" width="3" height="246.0" fill="url(#cf14)"/><rect x="2098" y="2249.1" width="3" height="246.0" fill="url(#cf13)"/><rect x="2101" y="2249.1" width="3" height="246.0" fill="url(#cf12)"/><rect x="2104" y="2249.1" width="3" height="246.0" fill="url(#cf11)"/><rect x="2107" y="2249.1" width="3" height="246.0" fill="url(#cf10)"/><rect x="2110" y="2249.1" width="3" height="246.0" fill="url(#cf9)"/><rect x="2113" y="2249.1" width="3" height="246.0" fill="url(#cf8)"/><rect x="2116" y="2249.1" width="3" height="246.0" fill="url(#cf7)"/><rect x="2119" y="2249.1" width="3" height="246.0" fill="url(#cf6)"/><rect x="2122" y="2249.1" width="3" height="246.0" fill="url(#cf5)"/><rect x="2125" y="2249.1" width="3" height="246.0" fill="url(#cf4)"/><rect x="2128" y="2249.1" width="3" height="246.0" fill="url(#cf3)"/><rect x="2131" y="2249.1" width="3" height="246.0" fill="url(#cf2)"/><rect x="2134" y="2249.1" width="3" height="246.0" fill="url(#cf1)"/><rect x="2137" y="2249.1" width="3" height="246.0" fill="url(#cf0)"/></g><rect x="1267.5" y="2493.53" width="871.7" height="215.91" fill="url(#mp_f)"/><rect x="1267.5" y="2709.43" width="871.7" height="191.47" fill="#000"/><rect x="1353.28" y="2412.05" width="119.00" height="81.47" fill="#030303"/><rect x="1643.85" y="2412.05" width="119.00" height="81.47" fill="#030303"/><rect x="1934.42" y="2412.05" width="119.00" height="81.47" fill="#030303"/></g></g>
<path d="M1267.5 2493.53H1353.28V2412.05H1472.28V2493.53H1643.85V2412.05H1762.85V2493.53H1934.42V2412.05H2053.42V2493.53H2139.2M1267.5 2709.43H2139.2M1267.5 2733.88H2139.2" stroke="#ececf6" stroke-width="3.3" fill="none" stroke-linejoin="miter"/>
<text x="1284.3" y="2317.9" fill="#fff" font-family="Noto Sans CJK KR, sans-serif" font-weight="bold" font-size="56.0">CsPbIBr<tspan font-size="40.0" x="1503.4" y="2331.6">2</tspan></text>
<text x="1282.6" y="2564.3" fill="#fff" font-family="Noto Sans CJK KR, sans-serif" font-weight="bold" font-size="56.0"><tspan textLength="214" lengthAdjust="spacingAndGlyphs">mp-TiO</tspan><tspan font-size="40.0" x="1499.8" y="2578.0">2</tspan></text>
<text x="1282.1" y="2801.4" fill="#fff" font-family="Noto Sans CJK KR, sans-serif" font-weight="bold" font-size="56.0">FTO</text>
<text x="1869.2" y="2660.7" fill="#fff" font-family="Noto Sans CJK KR, sans-serif" font-weight="bold" font-size="56.0"><tspan textLength="152" lengthAdjust="spacingAndGlyphs">c-TiO</tspan><tspan font-size="40.0" x="2019.8" y="2674.4">2</tspan></text>
<path d="M1822.9 2719.3L1870.0 2678.4" stroke="#fff" stroke-width="4.2" stroke-linecap="round"/><path d="M1882.1 2667.9L1874.1 2686.1L1862.9 2673.3Z" fill="#fff"/>
<text x="1675.5" y="2317.9" font-family="DejaVu Serif, serif" fill="#fff" font-size="57" font-weight="bold" textLength="439.8" lengthAdjust="spacingAndGlyphs">Ⅱ <tspan font-weight="normal" stroke="#fff" stroke-width="2.1">(<tspan font-style="italic">λ</tspan> = 470 <tspan font-style="italic">nm</tspan>)</tspan></text>
<text x="1257.4" y="2269.9" fill="#000" stroke="#000" stroke-width="0.6" font-family="Noto Sans CJK KR, sans-serif" font-weight="500" font-size="51.5" text-anchor="end">-1.3</text>
<text x="1257.4" y="2351.3" fill="#000" stroke="#000" stroke-width="0.6" font-family="Noto Sans CJK KR, sans-serif" font-weight="500" font-size="51.5" text-anchor="end">-1.4</text>
<text x="1257.4" y="2434.2" fill="#000" stroke="#000" stroke-width="0.6" font-family="Noto Sans CJK KR, sans-serif" font-weight="500" font-size="51.5" text-anchor="end">-1.5</text>
<text x="1257.4" y="2515.5" fill="#000" stroke="#000" stroke-width="0.6" font-family="Noto Sans CJK KR, sans-serif" font-weight="500" font-size="51.5" text-anchor="end">-1.6</text>
<text x="1257.4" y="2596.9" fill="#000" stroke="#000" stroke-width="0.6" font-family="Noto Sans CJK KR, sans-serif" font-weight="500" font-size="51.5" text-anchor="end">-1.7</text>
<text x="1257.4" y="2679.8" fill="#000" stroke="#000" stroke-width="0.6" font-family="Noto Sans CJK KR, sans-serif" font-weight="500" font-size="51.5" text-anchor="end">-1.8</text>
<text x="1257.4" y="2761.9" fill="#000" stroke="#000" stroke-width="0.6" font-family="Noto Sans CJK KR, sans-serif" font-weight="500" font-size="51.5" text-anchor="end">-1.9</text>
<text x="1257.4" y="2843.3" fill="#000" stroke="#000" stroke-width="0.6" font-family="Noto Sans CJK KR, sans-serif" font-weight="500" font-size="51.5" text-anchor="end">-2.0</text>
<text x="1257.4" y="2925.4" fill="#000" stroke="#000" stroke-width="0.6" font-family="Noto Sans CJK KR, sans-serif" font-weight="500" font-size="51.5" text-anchor="end">-2.1</text>
<text x="1320.5" y="2954.9" fill="#000" stroke="#000" stroke-width="0.6" font-family="Noto Sans CJK KR, sans-serif" font-weight="500" font-size="51.5" text-anchor="middle">-0.8</text>
<text x="1416.0" y="2954.9" fill="#000" stroke="#000" stroke-width="0.6" font-family="Noto Sans CJK KR, sans-serif" font-weight="500" font-size="51.5" text-anchor="middle">-0.6</text>
<text x="1509.5" y="2954.9" fill="#000" stroke="#000" stroke-width="0.6" font-family="Noto Sans CJK KR, sans-serif" font-weight="500" font-size="51.5" text-anchor="middle">-0.4</text>
<text x="1604.5" y="2954.9" fill="#000" stroke="#000" stroke-width="0.6" font-family="Noto Sans CJK KR, sans-serif" font-weight="500" font-size="51.5" text-anchor="middle">-0.2</text>
<text x="1703.7" y="2954.9" fill="#000" stroke="#000" stroke-width="0.6" font-family="Noto Sans CJK KR, sans-serif" font-weight="500" font-size="51.5" text-anchor="middle">0</text>
<text x="1795.2" y="2954.9" fill="#000" stroke="#000" stroke-width="0.6" font-family="Noto Sans CJK KR, sans-serif" font-weight="500" font-size="51.5" text-anchor="middle">0.2</text>
<text x="1891.5" y="2954.9" fill="#000" stroke="#000" stroke-width="0.6" font-family="Noto Sans CJK KR, sans-serif" font-weight="500" font-size="51.5" text-anchor="middle">0.4</text>
<text x="1986.2" y="2954.9" fill="#000" stroke="#000" stroke-width="0.6" font-family="Noto Sans CJK KR, sans-serif" font-weight="500" font-size="51.5" text-anchor="middle">0.6</text>
<text x="2084.5" y="2954.9" fill="#000" stroke="#000" stroke-width="0.6" font-family="Noto Sans CJK KR, sans-serif" font-weight="500" font-size="51.5" text-anchor="middle">0.8</text>
<text x="1725.3" y="3003.4" fill="#000" stroke="#000" stroke-width="0.6" font-family="Noto Sans CJK KR, sans-serif" font-weight="500" font-size="51" text-anchor="middle">x (um)</text>
<text transform="translate(1151.2 2570.2) rotate(-90)" x="0" y="0" fill="#000" stroke="#000" stroke-width="0.6" font-family="Noto Sans CJK KR, sans-serif" font-weight="500" font-size="51" text-anchor="middle">y (um)</text>
<text x="1146.0" y="2185.0" font-family="Liberation Sans, Arial, sans-serif" font-weight="bold" font-size="75">(f)</text>
<g clip-path="url(#clip_g)"><g filter="url(#jet)"><g filter="url(#hblur)"><rect x="1263" y="3074.2" width="3" height="247.0" fill="url(#cg0)"/><rect x="1266" y="3074.2" width="3" height="247.0" fill="url(#cg1)"/><rect x="1269" y="3074.2" width="3" height="247.0" fill="url(#cg2)"/><rect x="1272" y="3074.2" width="3" height="247.0" fill="url(#cg3)"/><rect x="1275" y="3074.2" width="3" height="247.0" fill="url(#cg4)"/><rect x="1278" y="3074.2" width="3" height="247.0" fill="url(#cg5)"/><rect x="1281" y="3074.2" width="3" height="247.0" fill="url(#cg6)"/><rect x="1284" y="3074.2" width="3" height="247.0" fill="url(#cg7)"/><rect x="1287" y="3074.2" width="3" height="247.0" fill="url(#cg8)"/><rect x="1290" y="3074.2" width="3" height="247.0" fill="url(#cg9)"/><rect x="1293" y="3074.2" width="3" height="247.0" fill="url(#cg10)"/><rect x="1296" y="3074.2" width="3" height="247.0" fill="url(#cg11)"/><rect x="1299" y="3074.2" width="3" height="247.0" fill="url(#cg12)"/><rect x="1302" y="3074.2" width="3" height="247.0" fill="url(#cg13)"/><rect x="1305" y="3074.2" width="3" height="247.0" fill="url(#cg14)"/><rect x="1308" y="3074.2" width="3" height="247.0" fill="url(#cg15)"/><rect x="1311" y="3074.2" width="3" height="247.0" fill="url(#cg16)"/><rect x="1314" y="3074.2" width="3" height="247.0" fill="url(#cg17)"/><rect x="1317" y="3074.2" width="3" height="247.0" fill="url(#cg18)"/><rect x="1320" y="3074.2" width="3" height="247.0" fill="url(#cg19)"/><rect x="1323" y="3074.2" width="3" height="247.0" fill="url(#cg20)"/><rect x="1326" y="3074.2" width="3" height="247.0" fill="url(#cg21)"/><rect x="1329" y="3074.2" width="3" height="247.0" fill="url(#cg22)"/><rect x="1332" y="3074.2" width="3" height="247.0" fill="url(#cg23)"/><rect x="1335" y="3074.2" width="3" height="247.0" fill="url(#cg24)"/><rect x="1338" y="3074.2" width="3" height="247.0" fill="url(#cg25)"/><rect x="1341" y="3074.2" width="3" height="247.0" fill="url(#cg26)"/><rect x="1344" y="3074.2" width="3" height="247.0" fill="url(#cg27)"/><rect x="1347" y="3074.2" width="3" height="247.0" fill="url(#cg28)"/><rect x="1350" y="3074.2" width="3" height="247.0" fill="url(#cg29)"/><rect x="1353" y="3074.2" width="3" height="247.0" fill="url(#cg30)"/><rect x="1356" y="3074.2" width="3" height="247.0" fill="url(#cg31)"/><rect x="1359" y="3074.2" width="3" height="247.0" fill="url(#cg32)"/><rect x="1362" y="3074.2" width="3" height="247.0" fill="url(#cg33)"/><rect x="1365" y="3074.2" width="3" height="247.0" fill="url(#cg34)"/><rect x="1368" y="3074.2" width="3" height="247.0" fill="url(#cg35)"/><rect x="1371" y="3074.2" width="3" height="247.0" fill="url(#cg36)"/><rect x="1374" y="3074.2" width="3" height="247.0" fill="url(#cg37)"/><rect x="1377" y="3074.2" width="3" height="247.0" fill="url(#cg38)"/><rect x="1380" y="3074.2" width="3" height="247.0" fill="url(#cg39)"/><rect x="1383" y="3074.2" width="3" height="247.0" fill="url(#cg40)"/><rect x="1386" y="3074.2" width="3" height="247.0" fill="url(#cg41)"/><rect x="1389" y="3074.2" width="3" height="247.0" fill="url(#cg42)"/><rect x="1392" y="3074.2" width="3" height="247.0" fill="url(#cg43)"/><rect x="1395" y="3074.2" width="3" height="247.0" fill="url(#cg44)"/><rect x="1398" y="3074.2" width="3" height="247.0" fill="url(#cg45)"/><rect x="1401" y="3074.2" width="3" height="247.0" fill="url(#cg46)"/><rect x="1404" y="3074.2" width="3" height="247.0" fill="url(#cg47)"/><rect x="1407" y="3074.2" width="3" height="247.0" fill="url(#cg48)"/><rect x="1410" y="3074.2" width="3" height="247.0" fill="url(#cg47)"/><rect x="1413" y="3074.2" width="3" height="247.0" fill="url(#cg46)"/><rect x="1416" y="3074.2" width="3" height="247.0" fill="url(#cg45)"/><rect x="1419" y="3074.2" width="3" height="247.0" fill="url(#cg44)"/><rect x="1422" y="3074.2" width="3" height="247.0" fill="url(#cg43)"/><rect x="1425" y="3074.2" width="3" height="247.0" fill="url(#cg42)"/><rect x="1428" y="3074.2" width="3" height="247.0" fill="url(#cg41)"/><rect x="1431" y="3074.2" width="3" height="247.0" fill="url(#cg40)"/><rect x="1434" y="3074.2" width="3" height="247.0" fill="url(#cg39)"/><rect x="1437" y="3074.2" width="3" height="247.0" fill="url(#cg38)"/><rect x="1440" y="3074.2" width="3" height="247.0" fill="url(#cg37)"/><rect x="1443" y="3074.2" width="3" height="247.0" fill="url(#cg36)"/><rect x="1446" y="3074.2" width="3" height="247.0" fill="url(#cg35)"/><rect x="1449" y="3074.2" width="3" height="247.0" fill="url(#cg34)"/><rect x="1452" y="3074.2" width="3" height="247.0" fill="url(#cg33)"/><rect x="1455" y="3074.2" width="3" height="247.0" fill="url(#cg32)"/><rect x="1458" y="3074.2" width="3" height="247.0" fill="url(#cg31)"/><rect x="1461" y="3074.2" width="3" height="247.0" fill="url(#cg30)"/><rect x="1464" y="3074.2" width="3" height="247.0" fill="url(#cg29)"/><rect x="1467" y="3074.2" width="3" height="247.0" fill="url(#cg28)"/><rect x="1470" y="3074.2" width="3" height="247.0" fill="url(#cg27)"/><rect x="1473" y="3074.2" width="3" height="247.0" fill="url(#cg26)"/><rect x="1476" y="3074.2" width="3" height="247.0" fill="url(#cg25)"/><rect x="1479" y="3074.2" width="3" height="247.0" fill="url(#cg24)"/><rect x="1482" y="3074.2" width="3" height="247.0" fill="url(#cg23)"/><rect x="1485" y="3074.2" width="3" height="247.0" fill="url(#cg22)"/><rect x="1488" y="3074.2" width="3" height="247.0" fill="url(#cg21)"/><rect x="1491" y="3074.2" width="3" height="247.0" fill="url(#cg20)"/><rect x="1494" y="3074.2" width="3" height="247.0" fill="url(#cg19)"/><rect x="1497" y="3074.2" width="3" height="247.0" fill="url(#cg18)"/><rect x="1500" y="3074.2" width="3" height="247.0" fill="url(#cg17)"/><rect x="1503" y="3074.2" width="3" height="247.0" fill="url(#cg16)"/><rect x="1506" y="3074.2" width="3" height="247.0" fill="url(#cg15)"/><rect x="1509" y="3074.2" width="3" height="247.0" fill="url(#cg14)"/><rect x="1512" y="3074.2" width="3" height="247.0" fill="url(#cg13)"/><rect x="1515" y="3074.2" width="3" height="247.0" fill="url(#cg12)"/><rect x="1518" y="3074.2" width="3" height="247.0" fill="url(#cg11)"/><rect x="1521" y="3074.2" width="3" height="247.0" fill="url(#cg10)"/><rect x="1524" y="3074.2" width="3" height="247.0" fill="url(#cg9)"/><rect x="1527" y="3074.2" width="3" height="247.0" fill="url(#cg8)"/><rect x="1530" y="3074.2" width="3" height="247.0" fill="url(#cg7)"/><rect x="1533" y="3074.2" width="3" height="247.0" fill="url(#cg6)"/><rect x="1536" y="3074.2" width="3" height="247.0" fill="url(#cg5)"/><rect x="1539" y="3074.2" width="3" height="247.0" fill="url(#cg4)"/><rect x="1542" y="3074.2" width="3" height="247.0" fill="url(#cg3)"/><rect x="1545" y="3074.2" width="3" height="247.0" fill="url(#cg2)"/><rect x="1548" y="3074.2" width="3" height="247.0" fill="url(#cg1)"/><rect x="1551" y="3074.2" width="6" height="247.0" fill="url(#cg0)"/><rect x="1557" y="3074.2" width="3" height="247.0" fill="url(#cg1)"/><rect x="1560" y="3074.2" width="3" height="247.0" fill="url(#cg2)"/><rect x="1563" y="3074.2" width="3" height="247.0" fill="url(#cg3)"/><rect x="1566" y="3074.2" width="3" height="247.0" fill="url(#cg4)"/><rect x="1569" y="3074.2" width="3" height="247.0" fill="url(#cg5)"/><rect x="1572" y="3074.2" width="3" height="247.0" fill="url(#cg6)"/><rect x="1575" y="3074.2" width="3" height="247.0" fill="url(#cg7)"/><rect x="1578" y="3074.2" width="3" height="247.0" fill="url(#cg8)"/><rect x="1581" y="3074.2" width="3" height="247.0" fill="url(#cg9)"/><rect x="1584" y="3074.2" width="3" height="247.0" fill="url(#cg10)"/><rect x="1587" y="3074.2" width="3" height="247.0" fill="url(#cg11)"/><rect x="1590" y="3074.2" width="3" height="247.0" fill="url(#cg12)"/><rect x="1593" y="3074.2" width="3" height="247.0" fill="url(#cg13)"/><rect x="1596" y="3074.2" width="3" height="247.0" fill="url(#cg14)"/><rect x="1599" y="3074.2" width="3" height="247.0" fill="url(#cg15)"/><rect x="1602" y="3074.2" width="3" height="247.0" fill="url(#cg16)"/><rect x="1605" y="3074.2" width="3" height="247.0" fill="url(#cg17)"/><rect x="1608" y="3074.2" width="3" height="247.0" fill="url(#cg18)"/><rect x="1611" y="3074.2" width="3" height="247.0" fill="url(#cg19)"/><rect x="1614" y="3074.2" width="3" height="247.0" fill="url(#cg20)"/><rect x="1617" y="3074.2" width="3" height="247.0" fill="url(#cg21)"/><rect x="1620" y="3074.2" width="3" height="247.0" fill="url(#cg22)"/><rect x="1623" y="3074.2" width="3" height="247.0" fill="url(#cg23)"/><rect x="1626" y="3074.2" width="3" height="247.0" fill="url(#cg24)"/><rect x="1629" y="3074.2" width="3" height="247.0" fill="url(#cg25)"/><rect x="1632" y="3074.2" width="3" height="247.0" fill="url(#cg26)"/><rect x="1635" y="3074.2" width="3" height="247.0" fill="url(#cg27)"/><rect x="1638" y="3074.2" width="3" height="247.0" fill="url(#cg49)"/><rect x="1641" y="3074.2" width="3" height="247.0" fill="url(#cg29)"/><rect x="1644" y="3074.2" width="3" height="247.0" fill="url(#cg30)"/><rect x="1647" y="3074.2" width="3" height="247.0" fill="url(#cg31)"/><rect x="1650" y="3074.2" width="3" height="247.0" fill="url(#cg32)"/><rect x="1653" y="3074.2" width="3" height="247.0" fill="url(#cg33)"/><rect x="1656" y="3074.2" width="3" height="247.0" fill="url(#cg34)"/><rect x="1659" y="3074.2" width="3" height="247.0" fill="url(#cg35)"/><rect x="1662" y="3074.2" width="3" height="247.0" fill="url(#cg36)"/><rect x="1665" y="3074.2" width="3" height="247.0" fill="url(#cg37)"/><rect x="1668" y="3074.2" width="3" height="247.0" fill="url(#cg38)"/><rect x="1671" y="3074.2" width="3" height="247.0" fill="url(#cg39)"/><rect x="1674" y="3074.2" width="3" height="247.0" fill="url(#cg40)"/><rect x="1677" y="3074.2" width="3" height="247.0" fill="url(#cg41)"/><rect x="1680" y="3074.2" width="3" height="247.0" fill="url(#cg42)"/><rect x="1683" y="3074.2" width="3" height="247.0" fill="url(#cg43)"/><rect x="1686" y="3074.2" width="3" height="247.0" fill="url(#cg44)"/><rect x="1689" y="3074.2" width="3" height="247.0" fill="url(#cg45)"/><rect x="1692" y="3074.2" width="3" height="247.0" fill="url(#cg46)"/><rect x="1695" y="3074.2" width="3" height="247.0" fill="url(#cg47)"/><rect x="1698" y="3074.2" width="3" height="247.0" fill="url(#cg48)"/><rect x="1701" y="3074.2" width="3" height="247.0" fill="url(#cg47)"/><rect x="1704" y="3074.2" width="3" height="247.0" fill="url(#cg46)"/><rect x="1707" y="3074.2" width="3" height="247.0" fill="url(#cg45)"/><rect x="1710" y="3074.2" width="3" height="247.0" fill="url(#cg44)"/><rect x="1713" y="3074.2" width="3" height="247.0" fill="url(#cg43)"/><rect x="1716" y="3074.2" width="3" height="247.0" fill="url(#cg42)"/><rect x="1719" y="3074.2" width="3" height="247.0" fill="url(#cg41)"/><rect x="1722" y="3074.2" width="3" height="247.0" fill="url(#cg40)"/><rect x="1725" y="3074.2" width="3" height="247.0" fill="url(#cg39)"/><rect x="1728" y="3074.2" width="3" height="247.0" fill="url(#cg38)"/><rect x="1731" y="3074.2" width="3" height="247.0" fill="url(#cg37)"/><rect x="1734" y="3074.2" width="3" height="247.0" fill="url(#cg36)"/><rect x="1737" y="3074.2" width="3" height="247.0" fill="url(#cg35)"/><rect x="1740" y="3074.2" width="3" height="247.0" fill="url(#cg34)"/><rect x="1743" y="3074.2" width="3" height="247.0" fill="url(#cg33)"/><rect x="1746" y="3074.2" width="3" height="247.0" fill="url(#cg32)"/><rect x="1749" y="3074.2" width="3" height="247.0" fill="url(#cg31)"/><rect x="1752" y="3074.2" width="3" height="247.0" fill="url(#cg30)"/><rect x="1755" y="3074.2" width="3" height="247.0" fill="url(#cg29)"/><rect x="1758" y="3074.2" width="3" height="247.0" fill="url(#cg28)"/><rect x="1761" y="3074.2" width="3" height="247.0" fill="url(#cg27)"/><rect x="1764" y="3074.2" width="3" height="247.0" fill="url(#cg26)"/><rect x="1767" y="3074.2" width="3" height="247.0" fill="url(#cg25)"/><rect x="1770" y="3074.2" width="3" height="247.0" fill="url(#cg24)"/><rect x="1773" y="3074.2" width="3" height="247.0" fill="url(#cg23)"/><rect x="1776" y="3074.2" width="3" height="247.0" fill="url(#cg22)"/><rect x="1779" y="3074.2" width="3" height="247.0" fill="url(#cg21)"/><rect x="1782" y="3074.2" width="3" height="247.0" fill="url(#cg20)"/><rect x="1785" y="3074.2" width="3" height="247.0" fill="url(#cg19)"/><rect x="1788" y="3074.2" width="3" height="247.0" fill="url(#cg18)"/><rect x="1791" y="3074.2" width="3" height="247.0" fill="url(#cg17)"/><rect x="1794" y="3074.2" width="3" height="247.0" fill="url(#cg16)"/><rect x="1797" y="3074.2" width="3" height="247.0" fill="url(#cg15)"/><rect x="1800" y="3074.2" width="3" height="247.0" fill="url(#cg14)"/><rect x="1803" y="3074.2" width="3" height="247.0" fill="url(#cg13)"/><rect x="1806" y="3074.2" width="3" height="247.0" fill="url(#cg12)"/><rect x="1809" y="3074.2" width="3" height="247.0" fill="url(#cg11)"/><rect x="1812" y="3074.2" width="3" height="247.0" fill="url(#cg10)"/><rect x="1815" y="3074.2" width="3" height="247.0" fill="url(#cg9)"/><rect x="1818" y="3074.2" width="3" height="247.0" fill="url(#cg8)"/><rect x="1821" y="3074.2" width="3" height="247.0" fill="url(#cg7)"/><rect x="1824" y="3074.2" width="3" height="247.0" fill="url(#cg6)"/><rect x="1827" y="3074.2" width="3" height="247.0" fill="url(#cg5)"/><rect x="1830" y="3074.2" width="3" height="247.0" fill="url(#cg4)"/><rect x="1833" y="3074.2" width="3" height="247.0" fill="url(#cg3)"/><rect x="1836" y="3074.2" width="3" height="247.0" fill="url(#cg2)"/><rect x="1839" y="3074.2" width="3" height="247.0" fill="url(#cg1)"/><rect x="1842" y="3074.2" width="6" height="247.0" fill="url(#cg0)"/><rect x="1848" y="3074.2" width="3" height="247.0" fill="url(#cg1)"/><rect x="1851" y="3074.2" width="3" height="247.0" fill="url(#cg2)"/><rect x="1854" y="3074.2" width="3" height="247.0" fill="url(#cg3)"/><rect x="1857" y="3074.2" width="3" height="247.0" fill="url(#cg4)"/><rect x="1860" y="3074.2" width="3" height="247.0" fill="url(#cg5)"/><rect x="1863" y="3074.2" width="3" height="247.0" fill="url(#cg6)"/><rect x="1866" y="3074.2" width="3" height="247.0" fill="url(#cg7)"/><rect x="1869" y="3074.2" width="3" height="247.0" fill="url(#cg8)"/><rect x="1872" y="3074.2" width="3" height="247.0" fill="url(#cg9)"/><rect x="1875" y="3074.2" width="3" height="247.0" fill="url(#cg10)"/><rect x="1878" y="3074.2" width="3" height="247.0" fill="url(#cg11)"/><rect x="1881" y="3074.2" width="3" height="247.0" fill="url(#cg12)"/><rect x="1884" y="3074.2" width="3" height="247.0" fill="url(#cg13)"/><rect x="1887" y="3074.2" width="3" height="247.0" fill="url(#cg14)"/><rect x="1890" y="3074.2" width="3" height="247.0" fill="url(#cg15)"/><rect x="1893" y="3074.2" width="3" height="247.0" fill="url(#cg16)"/><rect x="1896" y="3074.2" width="3" height="247.0" fill="url(#cg17)"/><rect x="1899" y="3074.2" width="3" height="247.0" fill="url(#cg18)"/><rect x="1902" y="3074.2" width="3" height="247.0" fill="url(#cg19)"/><rect x="1905" y="3074.2" width="3" height="247.0" fill="url(#cg20)"/><rect x="1908" y="3074.2" width="3" height="247.0" fill="url(#cg21)"/><rect x="1911" y="3074.2" width="3" height="247.0" fill="url(#cg22)"/><rect x="1914" y="3074.2" width="3" height="247.0" fill="url(#cg23)"/><rect x="1917" y="3074.2" width="3" height="247.0" fill="url(#cg24)"/><rect x="1920" y="3074.2" width="3" height="247.0" fill="url(#cg25)"/><rect x="1923" y="3074.2" width="3" height="247.0" fill="url(#cg26)"/><rect x="1926" y="3074.2" width="3" height="247.0" fill="url(#cg27)"/><rect x="1929" y="3074.2" width="3" height="247.0" fill="url(#cg49)"/><rect x="1932" y="3074.2" width="3" height="247.0" fill="url(#cg29)"/><rect x="1935" y="3074.2" width="3" height="247.0" fill="url(#cg30)"/><rect x="1938" y="3074.2" width="3" height="247.0" fill="url(#cg31)"/><rect x="1941" y="3074.2" width="3" height="247.0" fill="url(#cg32)"/><rect x="1944" y="3074.2" width="3" height="247.0" fill="url(#cg33)"/><rect x="1947" y="3074.2" width="3" height="247.0" fill="url(#cg34)"/><rect x="1950" y="3074.2" width="3" height="247.0" fill="url(#cg35)"/><rect x="1953" y="3074.2" width="3" height="247.0" fill="url(#cg36)"/><rect x="1956" y="3074.2" width="3" height="247.0" fill="url(#cg37)"/><rect x="1959" y="3074.2" width="3" height="247.0" fill="url(#cg38)"/><rect x="1962" y="3074.2" width="3" height="247.0" fill="url(#cg39)"/><rect x="1965" y="3074.2" width="3" height="247.0" fill="url(#cg40)"/><rect x="1968" y="3074.2" width="3" height="247.0" fill="url(#cg41)"/><rect x="1971" y="3074.2" width="3" height="247.0" fill="url(#cg42)"/><rect x="1974" y="3074.2" width="3" height="247.0" fill="url(#cg43)"/><rect x="1977" y="3074.2" width="3" height="247.0" fill="url(#cg44)"/><rect x="1980" y="3074.2" width="3" height="247.0" fill="url(#cg45)"/><rect x="1983" y="3074.2" width="3" height="247.0" fill="url(#cg46)"/><rect x="1986" y="3074.2" width="3" height="247.0" fill="url(#cg47)"/><rect x="1989" y="3074.2" width="3" height="247.0" fill="url(#cg48)"/><rect x="1992" y="3074.2" width="3" height="247.0" fill="url(#cg47)"/><rect x="1995" y="3074.2" width="3" height="247.0" fill="url(#cg46)"/><rect x="1998" y="3074.2" width="3" height="247.0" fill="url(#cg45)"/><rect x="2001" y="3074.2" width="3" height="247.0" fill="url(#cg44)"/><rect x="2004" y="3074.2" width="3" height="247.0" fill="url(#cg43)"/><rect x="2007" y="3074.2" width="3" height="247.0" fill="url(#cg42)"/><rect x="2010" y="3074.2" width="3" height="247.0" fill="url(#cg41)"/><rect x="2013" y="3074.2" width="3" height="247.0" fill="url(#cg40)"/><rect x="2016" y="3074.2" width="3" height="247.0" fill="url(#cg39)"/><rect x="2019" y="3074.2" width="3" height="247.0" fill="url(#cg38)"/><rect x="2022" y="3074.2" width="3" height="247.0" fill="url(#cg37)"/><rect x="2025" y="3074.2" width="3" height="247.0" fill="url(#cg36)"/><rect x="2028" y="3074.2" width="3" height="247.0" fill="url(#cg35)"/><rect x="2031" y="3074.2" width="3" height="247.0" fill="url(#cg34)"/><rect x="2034" y="3074.2" width="3" height="247.0" fill="url(#cg33)"/><rect x="2037" y="3074.2" width="3" height="247.0" fill="url(#cg32)"/><rect x="2040" y="3074.2" width="3" height="247.0" fill="url(#cg31)"/><rect x="2043" y="3074.2" width="3" height="247.0" fill="url(#cg30)"/><rect x="2046" y="3074.2" width="3" height="247.0" fill="url(#cg29)"/><rect x="2049" y="3074.2" width="3" height="247.0" fill="url(#cg28)"/><rect x="2052" y="3074.2" width="3" height="247.0" fill="url(#cg27)"/><rect x="2055" y="3074.2" width="3" height="247.0" fill="url(#cg26)"/><rect x="2058" y="3074.2" width="3" height="247.0" fill="url(#cg25)"/><rect x="2061" y="3074.2" width="3" height="247.0" fill="url(#cg24)"/><rect x="2064" y="3074.2" width="3" height="247.0" fill="url(#cg23)"/><rect x="2067" y="3074.2" width="3" height="247.0" fill="url(#cg22)"/><rect x="2070" y="3074.2" width="3" height="247.0" fill="url(#cg21)"/><rect x="2073" y="3074.2" width="3" height="247.0" fill="url(#cg20)"/><rect x="2076" y="3074.2" width="3" height="247.0" fill="url(#cg19)"/><rect x="2079" y="3074.2" width="3" height="247.0" fill="url(#cg18)"/><rect x="2082" y="3074.2" width="3" height="247.0" fill="url(#cg17)"/><rect x="2085" y="3074.2" width="3" height="247.0" fill="url(#cg16)"/><rect x="2088" y="3074.2" width="3" height="247.0" fill="url(#cg15)"/><rect x="2091" y="3074.2" width="3" height="247.0" fill="url(#cg14)"/><rect x="2094" y="3074.2" width="3" height="247.0" fill="url(#cg13)"/><rect x="2097" y="3074.2" width="3" height="247.0" fill="url(#cg12)"/><rect x="2100" y="3074.2" width="3" height="247.0" fill="url(#cg11)"/><rect x="2103" y="3074.2" width="3" height="247.0" fill="url(#cg10)"/><rect x="2106" y="3074.2" width="3" height="247.0" fill="url(#cg9)"/><rect x="2109" y="3074.2" width="3" height="247.0" fill="url(#cg8)"/><rect x="2112" y="3074.2" width="3" height="247.0" fill="url(#cg7)"/><rect x="2115" y="3074.2" width="3" height="247.0" fill="url(#cg6)"/><rect x="2118" y="3074.2" width="3" height="247.0" fill="url(#cg5)"/><rect x="2121" y="3074.2" width="3" height="247.0" fill="url(#cg4)"/><rect x="2124" y="3074.2" width="3" height="247.0" fill="url(#cg3)"/><rect x="2127" y="3074.2" width="3" height="247.0" fill="url(#cg2)"/><rect x="2130" y="3074.2" width="3" height="247.0" fill="url(#cg1)"/><rect x="2133" y="3074.2" width="3" height="247.0" fill="url(#cg0)"/></g><rect x="1263.2" y="3319.26" width="871.2" height="216.47" fill="url(#mp_g)"/><rect x="1263.2" y="3535.73" width="871.2" height="191.97" fill="#000"/><rect x="1348.90" y="3237.57" width="119.00" height="81.69" fill="#000000"/><rect x="1639.30" y="3237.57" width="119.00" height="81.69" fill="#000000"/><rect x="1929.70" y="3237.57" width="119.00" height="81.69" fill="#000000"/></g></g>
<path d="M1263.2 3319.26H1348.90V3237.57H1467.90V3319.26H1639.30V3237.57H1758.30V3319.26H1929.70V3237.57H2048.70V3319.26H2134.4M1263.2 3535.73H2134.4M1263.2 3560.24H2134.4" stroke="#ececf6" stroke-width="3.3" fill="none" stroke-linejoin="miter"/>
<text x="1279.3" y="3138.6" fill="#fff" font-family="Noto Sans CJK KR, sans-serif" font-weight="bold" font-size="56.0">CsPbIBr<tspan font-size="40.0" x="1499.8" y="3152.3">2</tspan></text>
<text x="1277.6" y="3385.0" fill="#fff" font-family="Noto Sans CJK KR, sans-serif" font-weight="bold" font-size="56.0"><tspan textLength="214" lengthAdjust="spacingAndGlyphs">mp-TiO</tspan><tspan font-size="40.0" x="1494.1" y="3398.7">2</tspan></text>
<text x="1277.1" y="3622.9" fill="#fff" font-family="Noto Sans CJK KR, sans-serif" font-weight="bold" font-size="56.0">FTO</text>
<text x="1865.7" y="3472.9" fill="#fff" font-family="Noto Sans CJK KR, sans-serif" font-weight="bold" font-size="56.0"><tspan textLength="152" lengthAdjust="spacingAndGlyphs">c-TiO</tspan><tspan font-size="40.0" x="2016.3" y="3486.6">2</tspan></text>
<path d="M1820.0 3540.0L1866.6 3499.2" stroke="#fff" stroke-width="4.2" stroke-linecap="round"/><path d="M1878.6 3488.6L1870.7 3506.9L1859.5 3494.1Z" fill="#fff"/>
<text x="1668.4" y="3138.6" font-family="DejaVu Serif, serif" fill="#fff" font-size="57" font-weight="bold" textLength="443.3" lengthAdjust="spacingAndGlyphs">Ⅲ <tspan font-weight="normal" stroke="#fff" stroke-width="2.1">(<tspan font-style="italic">λ</tspan> = 560 <tspan font-style="italic">nm</tspan>)</tspan></text>
<text x="1253.1" y="3095.0" fill="#000" stroke="#000" stroke-width="0.6" font-family="Noto Sans CJK KR, sans-serif" font-weight="500" font-size="51.5" text-anchor="end">-1.3</text>
<text x="1253.1" y="3176.6" fill="#000" stroke="#000" stroke-width="0.6" font-family="Noto Sans CJK KR, sans-serif" font-weight="500" font-size="51.5" text-anchor="end">-1.4</text>
<text x="1253.1" y="3259.7" fill="#000" stroke="#000" stroke-width="0.6" font-family="Noto Sans CJK KR, sans-serif" font-weight="500" font-size="51.5" text-anchor="end">-1.5</text>
<text x="1253.1" y="3341.3" fill="#000" stroke="#000" stroke-width="0.6" font-family="Noto Sans CJK KR, sans-serif" font-weight="500" font-size="51.5" text-anchor="end">-1.6</text>
<text x="1253.1" y="3422.9" fill="#000" stroke="#000" stroke-width="0.6" font-family="Noto Sans CJK KR, sans-serif" font-weight="500" font-size="51.5" text-anchor="end">-1.7</text>
<text x="1253.1" y="3506.0" fill="#000" stroke="#000" stroke-width="0.6" font-family="Noto Sans CJK KR, sans-serif" font-weight="500" font-size="51.5" text-anchor="end">-1.8</text>
<text x="1253.1" y="3588.3" fill="#000" stroke="#000" stroke-width="0.6" font-family="Noto Sans CJK KR, sans-serif" font-weight="500" font-size="51.5" text-anchor="end">-1.9</text>
<text x="1253.1" y="3669.9" fill="#000" stroke="#000" stroke-width="0.6" font-family="Noto Sans CJK KR, sans-serif" font-weight="500" font-size="51.5" text-anchor="end">-2.0</text>
<text x="1253.1" y="3752.2" fill="#000" stroke="#000" stroke-width="0.6" font-family="Noto Sans CJK KR, sans-serif" font-weight="500" font-size="51.5" text-anchor="end">-2.1</text>
<text x="1316.2" y="3779.9" fill="#000" stroke="#000" stroke-width="0.6" font-family="Noto Sans CJK KR, sans-serif" font-weight="500" font-size="51.5" text-anchor="middle">-0.8</text>
<text x="1411.7" y="3779.9" fill="#000" stroke="#000" stroke-width="0.6" font-family="Noto Sans CJK KR, sans-serif" font-weight="500" font-size="51.5" text-anchor="middle">-0.6</text>
<text x="1505.2" y="3779.9" fill="#000" stroke="#000" stroke-width="0.6" font-family="Noto Sans CJK KR, sans-serif" font-weight="500" font-size="51.5" text-anchor="middle">-0.4</text>
<text x="1600.2" y="3779.9" fill="#000" stroke="#000" stroke-width="0.6" font-family="Noto Sans CJK KR, sans-serif" font-weight="500" font-size="51.5" text-anchor="middle">-0.2</text>
<text x="1699.4" y="3779.9" fill="#000" stroke="#000" stroke-width="0.6" font-family="Noto Sans CJK KR, sans-serif" font-weight="500" font-size="51.5" text-anchor="middle">0</text>
<text x="1790.9" y="3779.9" fill="#000" stroke="#000" stroke-width="0.6" font-family="Noto Sans CJK KR, sans-serif" font-weight="500" font-size="51.5" text-anchor="middle">0.2</text>
<text x="1887.2" y="3779.9" fill="#000" stroke="#000" stroke-width="0.6" font-family="Noto Sans CJK KR, sans-serif" font-weight="500" font-size="51.5" text-anchor="middle">0.4</text>
<text x="1981.9" y="3779.9" fill="#000" stroke="#000" stroke-width="0.6" font-family="Noto Sans CJK KR, sans-serif" font-weight="500" font-size="51.5" text-anchor="middle">0.6</text>
<text x="2080.2" y="3779.9" fill="#000" stroke="#000" stroke-width="0.6" font-family="Noto Sans CJK KR, sans-serif" font-weight="500" font-size="51.5" text-anchor="middle">0.8</text>
<text x="1720.8" y="3828.4" fill="#000" stroke="#000" stroke-width="0.6" font-family="Noto Sans CJK KR, sans-serif" font-weight="500" font-size="51" text-anchor="middle">x (um)</text>
<text transform="translate(1146.9 3395.3) rotate(-90)" x="0" y="0" fill="#000" stroke="#000" stroke-width="0.6" font-family="Noto Sans CJK KR, sans-serif" font-weight="500" font-size="51" text-anchor="middle">y (um)</text>
<text x="1132.0" y="3017.0" font-family="Liberation Sans, Arial, sans-serif" font-weight="bold" font-size="75">(g)</text>
<g filter="url(#jet)"><rect x="2199.5" y="1420.5" width="63.5" height="2307.1" fill="url(#cbar)"/></g>
<rect x="2199.5" y="1420.5" width="63.5" height="2307.1" fill="none" stroke="#262626" stroke-width="3"/>
<path d="M2263.0 3439.2H2242.0M2263.0 3150.8H2242.0M2263.0 2862.4H2242.0M2263.0 2574.1H2242.0M2263.0 2285.7H2242.0M2263.0 1997.3H2242.0M2263.0 1708.9H2242.0" stroke="#1a1a1a" stroke-opacity="0.7" stroke-width="2.7"/>
<text x="2285" y="3752.6" font-family="Liberation Sans, Arial, sans-serif" font-weight="bold" fill="#262626" font-size="65">0</text>
<text x="2285" y="3464.2" font-family="Liberation Sans, Arial, sans-serif" font-weight="bold" fill="#262626" font-size="65">1</text>
<text x="2285" y="3175.8" font-family="Liberation Sans, Arial, sans-serif" font-weight="bold" fill="#262626" font-size="65">2</text>
<text x="2285" y="2887.4" font-family="Liberation Sans, Arial, sans-serif" font-weight="bold" fill="#262626" font-size="65">3</text>
<text x="2285" y="2599.1" font-family="Liberation Sans, Arial, sans-serif" font-weight="bold" fill="#262626" font-size="65">4</text>
<text x="2285" y="2310.7" font-family="Liberation Sans, Arial, sans-serif" font-weight="bold" fill="#262626" font-size="65">5</text>
<text x="2285" y="2022.3" font-family="Liberation Sans, Arial, sans-serif" font-weight="bold" fill="#262626" font-size="65">6</text>
<text x="2285" y="1733.9" font-family="Liberation Sans, Arial, sans-serif" font-weight="bold" fill="#262626" font-size="65">7</text>
<text x="2285" y="1445.5" font-family="Liberation Sans, Arial, sans-serif" font-weight="bold" fill="#262626" font-size="65">8</text>
<text x="2269" y="1402" font-family="Liberation Sans, Arial, sans-serif" font-size="75" fill="#262626">×</text>
<text x="2315" y="1394.3" font-family="Liberation Sans, Arial, sans-serif" font-weight="bold" fill="#262626" font-size="66">10<tspan font-size="53" dy="-29.5">12</tspan></text>
<text transform="translate(2437.6 3273) rotate(-90)" x="0" y="0" font-family="Liberation Sans, Arial, sans-serif" font-weight="bold" font-size="76.3" fill="#000">Power absorbed per unit volume (W/m<tspan font-size="50" dy="-28">3</tspan><tspan dy="28">)</tspan></text>
</svg></body></html>
